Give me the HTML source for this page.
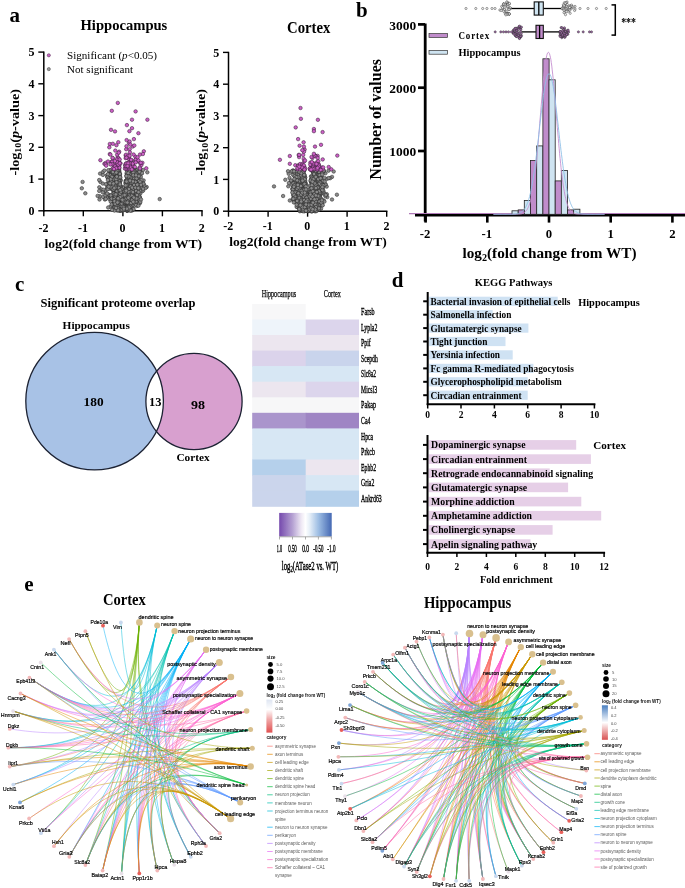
<!DOCTYPE html>
<html><head><meta charset="utf-8"><title>Figure</title>
<style>html,body{margin:0;padding:0;background:#fff;width:685px;height:888px;overflow:hidden}</style>
</head><body>
<svg width="685" height="888" viewBox="0 0 685 888" style="display:block;filter:blur(0.35px);font-family:'Liberation Serif', serif;font-weight:bold"><text x="9.6" y="21.9" style="font-size:21px;">a</text>
<line x1="43.8" y1="51.5" x2="43.8" y2="211.5" stroke="#000" stroke-width="1.5"/>
<line x1="43.1" y1="210.8" x2="202.7" y2="210.8" stroke="#000" stroke-width="1.5"/>
<line x1="38.3" y1="210.8" x2="43.8" y2="210.8" stroke="#000" stroke-width="1.4"/>
<text x="34.5" y="214.9" text-anchor="end" style="font-size:12px;">0</text>
<line x1="38.3" y1="179.1" x2="43.8" y2="179.1" stroke="#000" stroke-width="1.4"/>
<text x="34.5" y="183.2" text-anchor="end" style="font-size:12px;">1</text>
<line x1="38.3" y1="147.3" x2="43.8" y2="147.3" stroke="#000" stroke-width="1.4"/>
<text x="34.5" y="151.4" text-anchor="end" style="font-size:12px;">2</text>
<line x1="38.3" y1="115.6" x2="43.8" y2="115.6" stroke="#000" stroke-width="1.4"/>
<text x="34.5" y="119.7" text-anchor="end" style="font-size:12px;">3</text>
<line x1="38.3" y1="83.8" x2="43.8" y2="83.8" stroke="#000" stroke-width="1.4"/>
<text x="34.5" y="87.9" text-anchor="end" style="font-size:12px;">4</text>
<line x1="38.3" y1="52.1" x2="43.8" y2="52.1" stroke="#000" stroke-width="1.4"/>
<text x="34.5" y="56.2" text-anchor="end" style="font-size:12px;">5</text>
<line x1="43.8" y1="210.8" x2="43.8" y2="216.3" stroke="#000" stroke-width="1.4"/>
<text x="43.5" y="232.2" text-anchor="middle" style="font-size:12px;">-2</text>
<line x1="83.3" y1="210.8" x2="83.3" y2="216.3" stroke="#000" stroke-width="1.4"/>
<text x="83" y="232.2" text-anchor="middle" style="font-size:12px;">-1</text>
<line x1="122.9" y1="210.8" x2="122.9" y2="216.3" stroke="#000" stroke-width="1.4"/>
<text x="122.6" y="232.2" text-anchor="middle" style="font-size:12px;">0</text>
<line x1="162.4" y1="210.8" x2="162.4" y2="216.3" stroke="#000" stroke-width="1.4"/>
<text x="162.1" y="232.2" text-anchor="middle" style="font-size:12px;">1</text>
<line x1="202" y1="210.8" x2="202" y2="216.3" stroke="#000" stroke-width="1.4"/>
<text x="201.7" y="232.2" text-anchor="middle" style="font-size:12px;">2</text>
<text x="44.6" y="248" textLength="157.5" lengthAdjust="spacingAndGlyphs" style="font-size:12.2px;">log2(fold change from WT)</text>
<text x="80.5" y="30.4" textLength="86.8" lengthAdjust="spacingAndGlyphs" style="font-size:15.5px;">Hippocampus</text>
<text transform="translate(18.6,132.3) rotate(-90)" text-anchor="middle" style="font-size:12.3px" textLength="86.5" lengthAdjust="spacingAndGlyphs">-log<tspan style="font-size:8.5px" dy="2.5">10</tspan><tspan dy="-2.5">(</tspan><tspan font-style="italic">p</tspan>-value)</text>
<g fill="#8c8c8c" stroke="#2a2a2a" stroke-width="0.55"><circle cx="105.7" cy="193.6" r="1.75"/><circle cx="116.8" cy="193" r="1.75"/><circle cx="119.3" cy="191.2" r="1.75"/><circle cx="121.2" cy="191" r="1.75"/><circle cx="120.6" cy="199.7" r="1.75"/><circle cx="127.1" cy="207.9" r="1.75"/><circle cx="117.2" cy="209.5" r="1.75"/><circle cx="136.5" cy="170.3" r="1.75"/><circle cx="121.3" cy="186.6" r="1.75"/><circle cx="131.7" cy="205.4" r="1.75"/><circle cx="124.7" cy="208.9" r="1.75"/><circle cx="124.2" cy="204.1" r="1.75"/><circle cx="126.2" cy="193.1" r="1.75"/><circle cx="129.9" cy="194" r="1.75"/><circle cx="115.3" cy="185.5" r="1.75"/><circle cx="119.1" cy="191.6" r="1.75"/><circle cx="116.7" cy="200.7" r="1.75"/><circle cx="140.7" cy="169.6" r="1.75"/><circle cx="125" cy="199.2" r="1.75"/><circle cx="128.3" cy="208.6" r="1.75"/><circle cx="110.4" cy="180" r="1.75"/><circle cx="134" cy="196.3" r="1.75"/><circle cx="123.9" cy="203.4" r="1.75"/><circle cx="100.1" cy="173.6" r="1.75"/><circle cx="128.7" cy="195.8" r="1.75"/><circle cx="117.9" cy="208.5" r="1.75"/><circle cx="114.4" cy="201" r="1.75"/><circle cx="117.3" cy="208" r="1.75"/><circle cx="143.6" cy="180.4" r="1.75"/><circle cx="124.1" cy="206.9" r="1.75"/><circle cx="126.4" cy="208.9" r="1.75"/><circle cx="129" cy="178.6" r="1.75"/><circle cx="134.1" cy="193.8" r="1.75"/><circle cx="123.7" cy="204.1" r="1.75"/><circle cx="119.5" cy="185.4" r="1.75"/><circle cx="120.6" cy="206.9" r="1.75"/><circle cx="126.6" cy="201" r="1.75"/><circle cx="117.1" cy="174.7" r="1.75"/><circle cx="113.4" cy="203.4" r="1.75"/><circle cx="134.6" cy="185.5" r="1.75"/><circle cx="127.9" cy="207.5" r="1.75"/><circle cx="123.7" cy="201.5" r="1.75"/><circle cx="120.6" cy="179.7" r="1.75"/><circle cx="127.9" cy="208.5" r="1.75"/><circle cx="120.6" cy="207.9" r="1.75"/><circle cx="120.9" cy="187.2" r="1.75"/><circle cx="103" cy="196.9" r="1.75"/><circle cx="130.5" cy="192.2" r="1.75"/><circle cx="127.8" cy="188.4" r="1.75"/><circle cx="121.2" cy="205.5" r="1.75"/><circle cx="126.8" cy="173.7" r="1.75"/><circle cx="119.5" cy="204.2" r="1.75"/><circle cx="129.4" cy="181.2" r="1.75"/><circle cx="116.8" cy="174.8" r="1.75"/><circle cx="120.6" cy="207.4" r="1.75"/><circle cx="127.5" cy="209.6" r="1.75"/><circle cx="128.6" cy="201.5" r="1.75"/><circle cx="114.4" cy="200.1" r="1.75"/><circle cx="123.6" cy="204.7" r="1.75"/><circle cx="121.4" cy="202.7" r="1.75"/><circle cx="131.3" cy="189" r="1.75"/><circle cx="115.4" cy="200.6" r="1.75"/><circle cx="125.4" cy="201.1" r="1.75"/><circle cx="129.1" cy="193.8" r="1.75"/><circle cx="126.1" cy="197" r="1.75"/><circle cx="129.7" cy="188.5" r="1.75"/><circle cx="130.2" cy="174.4" r="1.75"/><circle cx="116.7" cy="170.4" r="1.75"/><circle cx="113" cy="187.9" r="1.75"/><circle cx="125.2" cy="206" r="1.75"/><circle cx="125.8" cy="182.9" r="1.75"/><circle cx="116.5" cy="169.6" r="1.75"/><circle cx="116" cy="208.4" r="1.75"/><circle cx="120" cy="174" r="1.75"/><circle cx="119.7" cy="181.3" r="1.75"/><circle cx="109.3" cy="173.4" r="1.75"/><circle cx="116.7" cy="197.7" r="1.75"/><circle cx="106.9" cy="175.3" r="1.75"/><circle cx="128.5" cy="195" r="1.75"/><circle cx="107.3" cy="188.4" r="1.75"/><circle cx="115.6" cy="186.2" r="1.75"/><circle cx="131.8" cy="186.9" r="1.75"/><circle cx="113.5" cy="208.2" r="1.75"/><circle cx="102.9" cy="174.9" r="1.75"/><circle cx="113.2" cy="181.7" r="1.75"/><circle cx="133.2" cy="188.1" r="1.75"/><circle cx="126" cy="194" r="1.75"/><circle cx="119.8" cy="209.9" r="1.75"/><circle cx="119.2" cy="202.6" r="1.75"/><circle cx="112.1" cy="183" r="1.75"/><circle cx="130.4" cy="201.6" r="1.75"/><circle cx="131.2" cy="203.7" r="1.75"/><circle cx="140.6" cy="184.7" r="1.75"/><circle cx="130.1" cy="194" r="1.75"/><circle cx="119.2" cy="184.4" r="1.75"/><circle cx="113" cy="203.8" r="1.75"/><circle cx="130.7" cy="173.4" r="1.75"/><circle cx="115.5" cy="174.9" r="1.75"/><circle cx="131.4" cy="199.2" r="1.75"/><circle cx="112.8" cy="206.2" r="1.75"/><circle cx="130.7" cy="182.4" r="1.75"/><circle cx="122.5" cy="205" r="1.75"/><circle cx="130.1" cy="195.2" r="1.75"/><circle cx="116.5" cy="186.2" r="1.75"/><circle cx="124.6" cy="209.9" r="1.75"/><circle cx="137.3" cy="175.3" r="1.75"/><circle cx="127.6" cy="188.5" r="1.75"/><circle cx="124.5" cy="199.5" r="1.75"/><circle cx="123" cy="206.2" r="1.75"/><circle cx="140.3" cy="193.4" r="1.75"/><circle cx="126.2" cy="202.3" r="1.75"/><circle cx="132.2" cy="206" r="1.75"/><circle cx="127.6" cy="193.8" r="1.75"/><circle cx="115.2" cy="186" r="1.75"/><circle cx="111" cy="171.4" r="1.75"/><circle cx="127.2" cy="183.6" r="1.75"/><circle cx="131.1" cy="204.6" r="1.75"/><circle cx="117.2" cy="210.5" r="1.75"/><circle cx="125.9" cy="204.6" r="1.75"/><circle cx="117.3" cy="200.9" r="1.75"/><circle cx="135.2" cy="190.7" r="1.75"/><circle cx="115.4" cy="178.9" r="1.75"/><circle cx="141.3" cy="173.8" r="1.75"/><circle cx="134.6" cy="181.9" r="1.75"/><circle cx="116.2" cy="206.4" r="1.75"/><circle cx="127.6" cy="173.6" r="1.75"/><circle cx="107.8" cy="196.7" r="1.75"/><circle cx="116.6" cy="178.7" r="1.75"/><circle cx="111.8" cy="172" r="1.75"/><circle cx="126.3" cy="203.6" r="1.75"/><circle cx="129.3" cy="182" r="1.75"/><circle cx="112.8" cy="182.1" r="1.75"/><circle cx="139.8" cy="203.3" r="1.75"/><circle cx="109.7" cy="170.6" r="1.75"/><circle cx="126" cy="190" r="1.75"/><circle cx="116.7" cy="173.6" r="1.75"/><circle cx="127" cy="194" r="1.75"/><circle cx="125.2" cy="189.4" r="1.75"/><circle cx="118.8" cy="210" r="1.75"/><circle cx="138.4" cy="178.1" r="1.75"/><circle cx="128.6" cy="204.8" r="1.75"/><circle cx="125.2" cy="198.4" r="1.75"/><circle cx="120.8" cy="205.7" r="1.75"/><circle cx="121.3" cy="190.8" r="1.75"/><circle cx="107.7" cy="183.4" r="1.75"/><circle cx="102.9" cy="172" r="1.75"/><circle cx="124.7" cy="208" r="1.75"/><circle cx="118.3" cy="202.9" r="1.75"/><circle cx="107.5" cy="185.6" r="1.75"/><circle cx="121.7" cy="189" r="1.75"/><circle cx="112.4" cy="199.4" r="1.75"/><circle cx="135.5" cy="174" r="1.75"/><circle cx="134.8" cy="203.5" r="1.75"/><circle cx="105.6" cy="190.5" r="1.75"/><circle cx="127.4" cy="188.4" r="1.75"/><circle cx="134.4" cy="191.4" r="1.75"/><circle cx="146.7" cy="187" r="1.75"/><circle cx="128.1" cy="190.9" r="1.75"/><circle cx="127.6" cy="195.7" r="1.75"/><circle cx="113.5" cy="191.9" r="1.75"/><circle cx="134" cy="183.3" r="1.75"/><circle cx="128.4" cy="195.2" r="1.75"/><circle cx="130.2" cy="171.5" r="1.75"/><circle cx="120.9" cy="192.7" r="1.75"/><circle cx="114.3" cy="206.5" r="1.75"/><circle cx="130.6" cy="174" r="1.75"/><circle cx="121.8" cy="192.5" r="1.75"/><circle cx="129.3" cy="186.5" r="1.75"/><circle cx="134.5" cy="172.9" r="1.75"/><circle cx="129.9" cy="210.2" r="1.75"/><circle cx="125.5" cy="204" r="1.75"/><circle cx="136.8" cy="198.9" r="1.75"/><circle cx="121.1" cy="197.6" r="1.75"/><circle cx="119.7" cy="206.7" r="1.75"/><circle cx="123.8" cy="203.9" r="1.75"/><circle cx="116.3" cy="190.3" r="1.75"/><circle cx="127.4" cy="195.2" r="1.75"/><circle cx="127.2" cy="190.3" r="1.75"/><circle cx="129" cy="185.9" r="1.75"/><circle cx="107.4" cy="185.6" r="1.75"/><circle cx="120.9" cy="186.8" r="1.75"/><circle cx="138.3" cy="178" r="1.75"/><circle cx="131" cy="173" r="1.75"/><circle cx="138.7" cy="203.1" r="1.75"/><circle cx="124" cy="206.3" r="1.75"/><circle cx="119.9" cy="207.6" r="1.75"/><circle cx="110.5" cy="177.1" r="1.75"/><circle cx="128.9" cy="206.6" r="1.75"/><circle cx="122.9" cy="203.7" r="1.75"/><circle cx="143.5" cy="183.7" r="1.75"/><circle cx="116.2" cy="207" r="1.75"/><circle cx="124.6" cy="191.3" r="1.75"/><circle cx="113.8" cy="183.5" r="1.75"/><circle cx="126.9" cy="204.2" r="1.75"/><circle cx="125" cy="209.7" r="1.75"/><circle cx="112.9" cy="189.3" r="1.75"/><circle cx="123.4" cy="205.8" r="1.75"/><circle cx="127.7" cy="204.4" r="1.75"/><circle cx="140.1" cy="170" r="1.75"/><circle cx="124.8" cy="193.1" r="1.75"/><circle cx="116.4" cy="192.9" r="1.75"/><circle cx="113.4" cy="190.9" r="1.75"/><circle cx="126.7" cy="210.4" r="1.75"/><circle cx="127.2" cy="182.9" r="1.75"/><circle cx="119.5" cy="193.5" r="1.75"/><circle cx="119.3" cy="181.2" r="1.75"/><circle cx="126.4" cy="205.1" r="1.75"/><circle cx="142.4" cy="191" r="1.75"/><circle cx="131.9" cy="182.7" r="1.75"/><circle cx="114.7" cy="195.5" r="1.75"/><circle cx="99.3" cy="187.3" r="1.75"/><circle cx="134.7" cy="201.5" r="1.75"/><circle cx="116.5" cy="179.5" r="1.75"/><circle cx="108.7" cy="177.9" r="1.75"/><circle cx="134.4" cy="174.9" r="1.75"/><circle cx="125.7" cy="183.1" r="1.75"/><circle cx="109.4" cy="195.5" r="1.75"/><circle cx="131.3" cy="181.9" r="1.75"/><circle cx="127.5" cy="192.9" r="1.75"/><circle cx="120.2" cy="210.5" r="1.75"/><circle cx="133.9" cy="186.2" r="1.75"/><circle cx="134.1" cy="202.5" r="1.75"/><circle cx="119.7" cy="198.3" r="1.75"/><circle cx="114.4" cy="184.7" r="1.75"/><circle cx="119.5" cy="196.2" r="1.75"/><circle cx="115.6" cy="169.5" r="1.75"/><circle cx="113.5" cy="180.2" r="1.75"/><circle cx="136" cy="170.4" r="1.75"/><circle cx="125.8" cy="181.2" r="1.75"/><circle cx="122.1" cy="201.6" r="1.75"/><circle cx="125.3" cy="203.9" r="1.75"/><circle cx="129.5" cy="196.7" r="1.75"/><circle cx="127.9" cy="173.8" r="1.75"/><circle cx="101.4" cy="189.4" r="1.75"/><circle cx="113.8" cy="169.7" r="1.75"/><circle cx="116.9" cy="208.4" r="1.75"/><circle cx="120.4" cy="205.3" r="1.75"/><circle cx="125" cy="191.7" r="1.75"/><circle cx="143.7" cy="186.8" r="1.75"/><circle cx="131.6" cy="194.9" r="1.75"/><circle cx="117.3" cy="190.4" r="1.75"/><circle cx="119.7" cy="200.4" r="1.75"/><circle cx="117.5" cy="184.9" r="1.75"/><circle cx="130.1" cy="200" r="1.75"/><circle cx="124.4" cy="209.5" r="1.75"/><circle cx="124.3" cy="205.4" r="1.75"/><circle cx="115.4" cy="174.2" r="1.75"/><circle cx="132.2" cy="172" r="1.75"/><circle cx="128.6" cy="208.5" r="1.75"/><circle cx="118.9" cy="192.5" r="1.75"/><circle cx="134.7" cy="172.4" r="1.75"/><circle cx="100.4" cy="181.9" r="1.75"/><circle cx="128.9" cy="177.8" r="1.75"/><circle cx="133.2" cy="187.1" r="1.75"/><circle cx="132.1" cy="193.4" r="1.75"/><circle cx="132" cy="203.6" r="1.75"/><circle cx="126.4" cy="206.6" r="1.75"/><circle cx="119.4" cy="194" r="1.75"/><circle cx="116.8" cy="201.3" r="1.75"/><circle cx="110.9" cy="188" r="1.75"/><circle cx="131.4" cy="190.2" r="1.75"/><circle cx="137.6" cy="169.6" r="1.75"/><circle cx="120.6" cy="202.3" r="1.75"/><circle cx="131.8" cy="207" r="1.75"/><circle cx="114.6" cy="186.2" r="1.75"/><circle cx="122.3" cy="197.4" r="1.75"/><circle cx="137.2" cy="188.8" r="1.75"/><circle cx="114.3" cy="187.6" r="1.75"/><circle cx="115.9" cy="204.2" r="1.75"/><circle cx="140.4" cy="201.9" r="1.75"/><circle cx="127.6" cy="209.6" r="1.75"/><circle cx="126.7" cy="194.7" r="1.75"/><circle cx="132.8" cy="186.3" r="1.75"/><circle cx="127.9" cy="208.5" r="1.75"/><circle cx="121.1" cy="208" r="1.75"/><circle cx="114.2" cy="185.9" r="1.75"/><circle cx="118.2" cy="196.8" r="1.75"/><circle cx="124.9" cy="198.1" r="1.75"/><circle cx="125.9" cy="180.9" r="1.75"/><circle cx="122.2" cy="206.8" r="1.75"/><circle cx="113.5" cy="178.1" r="1.75"/><circle cx="115.8" cy="203.3" r="1.75"/><circle cx="139.9" cy="197" r="1.75"/><circle cx="131.8" cy="184.9" r="1.75"/><circle cx="132.2" cy="180.9" r="1.75"/><circle cx="119.7" cy="197" r="1.75"/><circle cx="125.6" cy="207.6" r="1.75"/><circle cx="122.6" cy="208.1" r="1.75"/><circle cx="110.9" cy="188.8" r="1.75"/><circle cx="125.3" cy="199.9" r="1.75"/><circle cx="129.4" cy="179.6" r="1.75"/><circle cx="126.9" cy="184.6" r="1.75"/><circle cx="121.3" cy="208.2" r="1.75"/><circle cx="137.3" cy="183.2" r="1.75"/><circle cx="128.7" cy="200.5" r="1.75"/><circle cx="130.5" cy="181.8" r="1.75"/><circle cx="134.2" cy="197.1" r="1.75"/><circle cx="133.3" cy="188.6" r="1.75"/><circle cx="142" cy="173.2" r="1.75"/><circle cx="117" cy="194.2" r="1.75"/><circle cx="131.2" cy="195.8" r="1.75"/><circle cx="129.3" cy="172.5" r="1.75"/><circle cx="120" cy="197.3" r="1.75"/><circle cx="118.4" cy="197.2" r="1.75"/><circle cx="130.7" cy="196.2" r="1.75"/><circle cx="113.1" cy="204" r="1.75"/><circle cx="118" cy="189.8" r="1.75"/><circle cx="119.1" cy="176.9" r="1.75"/><circle cx="125.9" cy="190.9" r="1.75"/><circle cx="103.4" cy="189.7" r="1.75"/><circle cx="114.8" cy="185.1" r="1.75"/><circle cx="134.2" cy="178.3" r="1.75"/><circle cx="128.4" cy="179" r="1.75"/><circle cx="131.6" cy="208.1" r="1.75"/><circle cx="131.1" cy="174.1" r="1.75"/><circle cx="122.1" cy="208.1" r="1.75"/><circle cx="120.5" cy="180.9" r="1.75"/><circle cx="130.2" cy="180" r="1.75"/><circle cx="124.9" cy="190.6" r="1.75"/><circle cx="115.5" cy="198.3" r="1.75"/><circle cx="119.3" cy="171" r="1.75"/><circle cx="115.1" cy="190" r="1.75"/><circle cx="119.1" cy="182" r="1.75"/><circle cx="105.4" cy="195.3" r="1.75"/><circle cx="115.6" cy="177.3" r="1.75"/><circle cx="109.3" cy="178.2" r="1.75"/><circle cx="140.8" cy="177" r="1.75"/><circle cx="110" cy="185.5" r="1.75"/><circle cx="120.2" cy="190.5" r="1.75"/><circle cx="108.9" cy="194.8" r="1.75"/><circle cx="132.8" cy="194.9" r="1.75"/><circle cx="135.5" cy="169.9" r="1.75"/><circle cx="127" cy="196.7" r="1.75"/><circle cx="129.2" cy="194.7" r="1.75"/><circle cx="126.8" cy="200.1" r="1.75"/><circle cx="118.2" cy="207" r="1.75"/><circle cx="115.1" cy="204.6" r="1.75"/><circle cx="117.7" cy="208.9" r="1.75"/><circle cx="127" cy="173.6" r="1.75"/><circle cx="126.4" cy="209.7" r="1.75"/><circle cx="126.9" cy="203.1" r="1.75"/><circle cx="122.1" cy="202.4" r="1.75"/><circle cx="114.8" cy="202.8" r="1.75"/><circle cx="123.3" cy="204.4" r="1.75"/><circle cx="129.3" cy="180.4" r="1.75"/><circle cx="109.5" cy="199.3" r="1.75"/><circle cx="119.3" cy="192.4" r="1.75"/><circle cx="136.8" cy="201.4" r="1.75"/><circle cx="111.6" cy="198.1" r="1.75"/><circle cx="133.7" cy="189.5" r="1.75"/><circle cx="121.9" cy="203" r="1.75"/><circle cx="132.4" cy="209.3" r="1.75"/><circle cx="119" cy="196.4" r="1.75"/><circle cx="117.1" cy="190.4" r="1.75"/><circle cx="125.4" cy="192.7" r="1.75"/><circle cx="128.1" cy="196.9" r="1.75"/><circle cx="110.9" cy="187" r="1.75"/><circle cx="127.1" cy="205.4" r="1.75"/><circle cx="129.6" cy="201.4" r="1.75"/><circle cx="111.8" cy="175.4" r="1.75"/><circle cx="119.8" cy="201.2" r="1.75"/><circle cx="127.7" cy="210.8" r="1.75"/><circle cx="108.9" cy="177.5" r="1.75"/><circle cx="123" cy="208.1" r="1.75"/><circle cx="132.7" cy="207.6" r="1.75"/><circle cx="102.8" cy="192.4" r="1.75"/><circle cx="128.3" cy="187.8" r="1.75"/><circle cx="119" cy="176" r="1.75"/><circle cx="138.6" cy="195" r="1.75"/><circle cx="137.8" cy="173.3" r="1.75"/><circle cx="131" cy="203.4" r="1.75"/><circle cx="119.1" cy="189.7" r="1.75"/><circle cx="122.9" cy="199.4" r="1.75"/><circle cx="127.1" cy="199.6" r="1.75"/><circle cx="116.1" cy="183.5" r="1.75"/><circle cx="119.2" cy="207.3" r="1.75"/><circle cx="130.1" cy="171" r="1.75"/><circle cx="135.3" cy="193.3" r="1.75"/><circle cx="132" cy="210.5" r="1.75"/><circle cx="123.4" cy="203.5" r="1.75"/><circle cx="132.3" cy="189.9" r="1.75"/><circle cx="119.9" cy="199.9" r="1.75"/><circle cx="131.5" cy="184.4" r="1.75"/><circle cx="127.9" cy="201.6" r="1.75"/><circle cx="137.2" cy="198.6" r="1.75"/><circle cx="111.2" cy="172" r="1.75"/><circle cx="118.8" cy="198.5" r="1.75"/><circle cx="128.1" cy="177.3" r="1.75"/><circle cx="125.7" cy="207.7" r="1.75"/><circle cx="118.8" cy="195.6" r="1.75"/><circle cx="122.4" cy="202.7" r="1.75"/><circle cx="128.6" cy="205.4" r="1.75"/><circle cx="127.8" cy="208.5" r="1.75"/><circle cx="114.7" cy="173.1" r="1.75"/><circle cx="128.7" cy="185.2" r="1.75"/><circle cx="127.8" cy="180" r="1.75"/><circle cx="116.5" cy="198.6" r="1.75"/><circle cx="132.9" cy="195.2" r="1.75"/><circle cx="127.2" cy="170.3" r="1.75"/><circle cx="111.7" cy="186.9" r="1.75"/><circle cx="122.1" cy="210.3" r="1.75"/><circle cx="131" cy="185.1" r="1.75"/><circle cx="119.3" cy="207.3" r="1.75"/><circle cx="131.3" cy="179" r="1.75"/><circle cx="120.2" cy="177.4" r="1.75"/><circle cx="116.3" cy="173.9" r="1.75"/><circle cx="121.7" cy="191.5" r="1.75"/><circle cx="120.1" cy="206" r="1.75"/><circle cx="99.2" cy="190.9" r="1.75"/><circle cx="127" cy="182.2" r="1.75"/><circle cx="119.1" cy="172" r="1.75"/><circle cx="125.3" cy="186.1" r="1.75"/><circle cx="127" cy="202" r="1.75"/><circle cx="121.5" cy="188.3" r="1.75"/><circle cx="116.7" cy="172.7" r="1.75"/><circle cx="119.7" cy="197.3" r="1.75"/><circle cx="130.2" cy="206.2" r="1.75"/><circle cx="117.9" cy="189" r="1.75"/><circle cx="143.1" cy="169.9" r="1.75"/><circle cx="128.8" cy="200.3" r="1.75"/><circle cx="120.2" cy="188.4" r="1.75"/><circle cx="128.4" cy="177.1" r="1.75"/><circle cx="130.1" cy="208.4" r="1.75"/><circle cx="129.9" cy="209.9" r="1.75"/><circle cx="147.3" cy="172.3" r="1.75"/><circle cx="119.5" cy="184.7" r="1.75"/><circle cx="136.2" cy="181.3" r="1.75"/><circle cx="110.9" cy="196.5" r="1.75"/><circle cx="119.6" cy="210.4" r="1.75"/><circle cx="120.4" cy="203.8" r="1.75"/><circle cx="125.1" cy="196.3" r="1.75"/><circle cx="128.9" cy="188.6" r="1.75"/><circle cx="132.3" cy="201.3" r="1.75"/><circle cx="117.9" cy="188.6" r="1.75"/><circle cx="130" cy="209.7" r="1.75"/><circle cx="137.6" cy="184.2" r="1.75"/><circle cx="141.5" cy="187.3" r="1.75"/><circle cx="113.8" cy="192.8" r="1.75"/><circle cx="130.5" cy="183.4" r="1.75"/><circle cx="114.1" cy="169.8" r="1.75"/><circle cx="129.6" cy="176.8" r="1.75"/><circle cx="117" cy="194.3" r="1.75"/><circle cx="132.9" cy="188.7" r="1.75"/><circle cx="118.1" cy="190.5" r="1.75"/><circle cx="130.4" cy="194.4" r="1.75"/><circle cx="121.6" cy="209.1" r="1.75"/><circle cx="135.5" cy="181.8" r="1.75"/><circle cx="115.8" cy="187.4" r="1.75"/><circle cx="120.1" cy="180.6" r="1.75"/><circle cx="130.5" cy="208.6" r="1.75"/><circle cx="117.6" cy="206.6" r="1.75"/><circle cx="127.5" cy="195.9" r="1.75"/><circle cx="122.1" cy="209.2" r="1.75"/><circle cx="115.7" cy="202.2" r="1.75"/><circle cx="119.3" cy="199.6" r="1.75"/><circle cx="126.4" cy="208.6" r="1.75"/><circle cx="136.7" cy="173.5" r="1.75"/><circle cx="126.2" cy="194.8" r="1.75"/><circle cx="118.3" cy="180.9" r="1.75"/><circle cx="127.3" cy="188.7" r="1.75"/><circle cx="110.3" cy="206.7" r="1.75"/><circle cx="121.6" cy="210.8" r="1.75"/><circle cx="122.1" cy="202.1" r="1.75"/><circle cx="128.3" cy="208.8" r="1.75"/><circle cx="127.6" cy="174.3" r="1.75"/><circle cx="116.1" cy="197.5" r="1.75"/><circle cx="126.2" cy="187.9" r="1.75"/><circle cx="104.9" cy="199.5" r="1.75"/><circle cx="126.1" cy="192.7" r="1.75"/><circle cx="131.1" cy="173" r="1.75"/><circle cx="129.7" cy="174.2" r="1.75"/><circle cx="139.7" cy="197.6" r="1.75"/><circle cx="132.5" cy="192.7" r="1.75"/><circle cx="139.9" cy="169.7" r="1.75"/><circle cx="121.1" cy="203.7" r="1.75"/><circle cx="119.9" cy="174.9" r="1.75"/><circle cx="130.2" cy="209.3" r="1.75"/><circle cx="132.3" cy="199.3" r="1.75"/><circle cx="133.5" cy="174" r="1.75"/><circle cx="117.3" cy="206.2" r="1.75"/><circle cx="132.8" cy="183.1" r="1.75"/><circle cx="121.9" cy="208.3" r="1.75"/><circle cx="120.2" cy="202.9" r="1.75"/><circle cx="134" cy="203.9" r="1.75"/><circle cx="125" cy="204.5" r="1.75"/><circle cx="136.9" cy="178.9" r="1.75"/><circle cx="114.6" cy="196.9" r="1.75"/><circle cx="108.7" cy="187.7" r="1.75"/><circle cx="118.9" cy="202.6" r="1.75"/><circle cx="143" cy="184.4" r="1.75"/><circle cx="121.9" cy="200.8" r="1.75"/><circle cx="113.6" cy="194.1" r="1.75"/><circle cx="123" cy="209.4" r="1.75"/><circle cx="130.5" cy="178.4" r="1.75"/><circle cx="122.1" cy="208" r="1.75"/><circle cx="136.2" cy="202" r="1.75"/><circle cx="119.3" cy="200.7" r="1.75"/><circle cx="133.6" cy="170.1" r="1.75"/><circle cx="126.1" cy="180.7" r="1.75"/><circle cx="133.3" cy="196.4" r="1.75"/><circle cx="120.8" cy="204.5" r="1.75"/><circle cx="119.1" cy="189.2" r="1.75"/><circle cx="117.6" cy="184.7" r="1.75"/><circle cx="113.8" cy="179.3" r="1.75"/><circle cx="102.9" cy="183.6" r="1.75"/><circle cx="122.1" cy="204.8" r="1.75"/><circle cx="130.1" cy="179.4" r="1.75"/><circle cx="132.6" cy="202.4" r="1.75"/><circle cx="126.3" cy="194.1" r="1.75"/><circle cx="109" cy="178.9" r="1.75"/><circle cx="119" cy="202.4" r="1.75"/><circle cx="135.5" cy="191.6" r="1.75"/><circle cx="126.7" cy="182.3" r="1.75"/><circle cx="127.9" cy="188.4" r="1.75"/><circle cx="121.3" cy="205.6" r="1.75"/><circle cx="119.3" cy="210.3" r="1.75"/><circle cx="124.3" cy="194" r="1.75"/><circle cx="125" cy="201.3" r="1.75"/><circle cx="109.2" cy="188.6" r="1.75"/><circle cx="120.6" cy="202.3" r="1.75"/><circle cx="123.4" cy="205.8" r="1.75"/><circle cx="126.4" cy="199.2" r="1.75"/><circle cx="117.4" cy="186.4" r="1.75"/><circle cx="125.5" cy="207.9" r="1.75"/><circle cx="119.9" cy="201.6" r="1.75"/><circle cx="119.8" cy="205.3" r="1.75"/><circle cx="108.8" cy="179.1" r="1.75"/><circle cx="120.1" cy="208.9" r="1.75"/><circle cx="127.6" cy="203.1" r="1.75"/><circle cx="133.8" cy="170.9" r="1.75"/><circle cx="126.7" cy="180.2" r="1.75"/><circle cx="130" cy="170.2" r="1.75"/><circle cx="131.6" cy="180.9" r="1.75"/><circle cx="124.7" cy="209.6" r="1.75"/><circle cx="136.7" cy="206" r="1.75"/><circle cx="121.4" cy="196" r="1.75"/><circle cx="129.3" cy="208.4" r="1.75"/><circle cx="132.1" cy="209.8" r="1.75"/><circle cx="123.9" cy="202.6" r="1.75"/><circle cx="133.4" cy="202.1" r="1.75"/><circle cx="131.6" cy="193.2" r="1.75"/><circle cx="120.7" cy="198.3" r="1.75"/><circle cx="131.5" cy="185.1" r="1.75"/><circle cx="127" cy="183.2" r="1.75"/><circle cx="108.8" cy="175.6" r="1.75"/><circle cx="114.3" cy="193.1" r="1.75"/><circle cx="128.8" cy="196" r="1.75"/><circle cx="117" cy="179.3" r="1.75"/><circle cx="121.5" cy="203.2" r="1.75"/><circle cx="128.6" cy="189.4" r="1.75"/><circle cx="125.3" cy="205.2" r="1.75"/><circle cx="129.9" cy="192.9" r="1.75"/><circle cx="99.5" cy="199.5" r="1.75"/><circle cx="133.1" cy="183.8" r="1.75"/><circle cx="126.5" cy="175.7" r="1.75"/><circle cx="128.9" cy="208.5" r="1.75"/><circle cx="119.5" cy="183.3" r="1.75"/><circle cx="126.8" cy="210.3" r="1.75"/><circle cx="123.6" cy="204.5" r="1.75"/><circle cx="132.8" cy="173" r="1.75"/><circle cx="129.9" cy="205.5" r="1.75"/><circle cx="114.7" cy="172.4" r="1.75"/><circle cx="135.5" cy="181.9" r="1.75"/><circle cx="131.7" cy="173.7" r="1.75"/><circle cx="125.1" cy="196.4" r="1.75"/><circle cx="127.5" cy="208.1" r="1.75"/><circle cx="118.9" cy="179.8" r="1.75"/><circle cx="132.3" cy="190.7" r="1.75"/><circle cx="126.5" cy="202.3" r="1.75"/><circle cx="127.8" cy="209.6" r="1.75"/><circle cx="129.2" cy="209.9" r="1.75"/><circle cx="114.9" cy="199.3" r="1.75"/><circle cx="127.5" cy="206.2" r="1.75"/><circle cx="138" cy="184.4" r="1.75"/><circle cx="125.5" cy="205.8" r="1.75"/><circle cx="130.9" cy="182.4" r="1.75"/><circle cx="110.9" cy="195.5" r="1.75"/><circle cx="133.4" cy="202.8" r="1.75"/><circle cx="121" cy="200.1" r="1.75"/><circle cx="126.8" cy="209.6" r="1.75"/><circle cx="120" cy="210.1" r="1.75"/><circle cx="115.9" cy="178.1" r="1.75"/><circle cx="136.5" cy="173.2" r="1.75"/><circle cx="120.2" cy="203.1" r="1.75"/><circle cx="112.1" cy="171.6" r="1.75"/><circle cx="131.6" cy="207.9" r="1.75"/><circle cx="121.7" cy="194.6" r="1.75"/><circle cx="126" cy="196.4" r="1.75"/><circle cx="117.2" cy="198.7" r="1.75"/><circle cx="124.2" cy="205.4" r="1.75"/><circle cx="118.9" cy="195.6" r="1.75"/><circle cx="129.6" cy="202.2" r="1.75"/><circle cx="128.5" cy="194.8" r="1.75"/><circle cx="115.8" cy="205.6" r="1.75"/><circle cx="117.4" cy="189.3" r="1.75"/><circle cx="132.7" cy="182.9" r="1.75"/><circle cx="125.3" cy="197.2" r="1.75"/><circle cx="122.7" cy="208.8" r="1.75"/><circle cx="125.7" cy="191.7" r="1.75"/><circle cx="116.5" cy="187.9" r="1.75"/><circle cx="125.4" cy="201.7" r="1.75"/><circle cx="118.6" cy="210.1" r="1.75"/><circle cx="139.1" cy="188.7" r="1.75"/><circle cx="121.7" cy="201.3" r="1.75"/><circle cx="119.2" cy="192.8" r="1.75"/><circle cx="132" cy="186.6" r="1.75"/><circle cx="112" cy="186.4" r="1.75"/><circle cx="118.1" cy="195.3" r="1.75"/><circle cx="127.6" cy="177.2" r="1.75"/><circle cx="110" cy="175" r="1.75"/><circle cx="131.1" cy="209.7" r="1.75"/><circle cx="119" cy="206.2" r="1.75"/><circle cx="127.4" cy="170.6" r="1.75"/><circle cx="127.9" cy="202.7" r="1.75"/><circle cx="124.8" cy="196" r="1.75"/><circle cx="134.2" cy="185.1" r="1.75"/><circle cx="116.2" cy="189.5" r="1.75"/><circle cx="116.2" cy="177.1" r="1.75"/><circle cx="131" cy="174.7" r="1.75"/><circle cx="121.4" cy="199.3" r="1.75"/><circle cx="111" cy="183.5" r="1.75"/><circle cx="119.5" cy="186.3" r="1.75"/><circle cx="116.4" cy="191.9" r="1.75"/><circle cx="121.1" cy="200.4" r="1.75"/><circle cx="117.8" cy="180.8" r="1.75"/><circle cx="122.9" cy="201.8" r="1.75"/><circle cx="128.5" cy="198.8" r="1.75"/><circle cx="130.3" cy="206.6" r="1.75"/><circle cx="126.2" cy="208.8" r="1.75"/><circle cx="125.8" cy="182.7" r="1.75"/><circle cx="114.8" cy="207.1" r="1.75"/><circle cx="128.6" cy="192.4" r="1.75"/><circle cx="132.5" cy="205.2" r="1.75"/><circle cx="116.7" cy="209.2" r="1.75"/><circle cx="110.8" cy="201.7" r="1.75"/><circle cx="137.5" cy="198.7" r="1.75"/><circle cx="125" cy="198.5" r="1.75"/><circle cx="107.4" cy="177.2" r="1.75"/><circle cx="112.1" cy="188.7" r="1.75"/><circle cx="130.6" cy="186.3" r="1.75"/><circle cx="119.8" cy="196.7" r="1.75"/><circle cx="126.9" cy="210.4" r="1.75"/><circle cx="145.6" cy="187.9" r="1.75"/><circle cx="118.4" cy="206.3" r="1.75"/><circle cx="113.3" cy="183.5" r="1.75"/><circle cx="130.1" cy="195.9" r="1.75"/><circle cx="126.8" cy="172.5" r="1.75"/><circle cx="128.6" cy="206.9" r="1.75"/><circle cx="126" cy="181.5" r="1.75"/><circle cx="129.8" cy="169.8" r="1.75"/><circle cx="126.9" cy="210" r="1.75"/><circle cx="115.7" cy="189.7" r="1.75"/><circle cx="124.9" cy="199.5" r="1.75"/><circle cx="127.8" cy="178.5" r="1.75"/><circle cx="118.1" cy="196.1" r="1.75"/><circle cx="126.4" cy="186.5" r="1.75"/><circle cx="99.7" cy="196.2" r="1.75"/><circle cx="109.1" cy="183.2" r="1.75"/><circle cx="121" cy="205.8" r="1.75"/><circle cx="135.8" cy="204.7" r="1.75"/><circle cx="134.9" cy="201.8" r="1.75"/><circle cx="129.7" cy="192" r="1.75"/><circle cx="126.8" cy="210.3" r="1.75"/><circle cx="131.6" cy="188.7" r="1.75"/><circle cx="132.6" cy="200.9" r="1.75"/><circle cx="117.3" cy="202.7" r="1.75"/><circle cx="124.9" cy="201.4" r="1.75"/><circle cx="133.6" cy="209.2" r="1.75"/><circle cx="130.9" cy="199.4" r="1.75"/><circle cx="126.6" cy="208.3" r="1.75"/><circle cx="133.2" cy="169.7" r="1.75"/><circle cx="129.3" cy="203.7" r="1.75"/><circle cx="116.7" cy="195.1" r="1.75"/><circle cx="125.9" cy="189.4" r="1.75"/><circle cx="119.1" cy="184.8" r="1.75"/><circle cx="119.2" cy="172.3" r="1.75"/><circle cx="133.5" cy="175.6" r="1.75"/><circle cx="125.4" cy="205" r="1.75"/><circle cx="128.9" cy="206.8" r="1.75"/><circle cx="127.8" cy="180.6" r="1.75"/><circle cx="122.9" cy="199.4" r="1.75"/><circle cx="124" cy="203.4" r="1.75"/><circle cx="134.7" cy="171.4" r="1.75"/><circle cx="115.3" cy="178.4" r="1.75"/><circle cx="126.9" cy="177.3" r="1.75"/><circle cx="108.2" cy="207.5" r="1.75"/><circle cx="113" cy="171.8" r="1.75"/><circle cx="130.8" cy="201.8" r="1.75"/><circle cx="135.4" cy="173.6" r="1.75"/><circle cx="125.5" cy="202.7" r="1.75"/><circle cx="115.4" cy="196.2" r="1.75"/><circle cx="133.4" cy="178" r="1.75"/><circle cx="118.8" cy="197.2" r="1.75"/><circle cx="118.5" cy="200.7" r="1.75"/><circle cx="127.5" cy="198.4" r="1.75"/><circle cx="127.5" cy="181.1" r="1.75"/><circle cx="138" cy="189.6" r="1.75"/><circle cx="125.9" cy="183.8" r="1.75"/><circle cx="126.6" cy="205.9" r="1.75"/><circle cx="124.6" cy="191.4" r="1.75"/><circle cx="119.4" cy="195.6" r="1.75"/><circle cx="133.8" cy="171.7" r="1.75"/><circle cx="128.5" cy="203.6" r="1.75"/><circle cx="118.9" cy="180.5" r="1.75"/><circle cx="130" cy="207.2" r="1.75"/><circle cx="114.9" cy="203" r="1.75"/><circle cx="129.6" cy="204.6" r="1.75"/><circle cx="115.8" cy="200.9" r="1.75"/><circle cx="105.7" cy="198.9" r="1.75"/><circle cx="111.8" cy="204.4" r="1.75"/><circle cx="138.4" cy="205.7" r="1.75"/><circle cx="115.1" cy="185.8" r="1.75"/><circle cx="131" cy="203.3" r="1.75"/><circle cx="137.1" cy="186.6" r="1.75"/><circle cx="113" cy="186" r="1.75"/><circle cx="120.2" cy="191.3" r="1.75"/><circle cx="111.8" cy="183.4" r="1.75"/><circle cx="127.8" cy="194.9" r="1.75"/><circle cx="125.6" cy="196.4" r="1.75"/><circle cx="135.8" cy="188.4" r="1.75"/><circle cx="136.1" cy="190.9" r="1.75"/><circle cx="126.5" cy="193.8" r="1.75"/><circle cx="107.4" cy="187.6" r="1.75"/><circle cx="116.1" cy="205.6" r="1.75"/><circle cx="138.3" cy="192.9" r="1.75"/><circle cx="132.9" cy="181.3" r="1.75"/><circle cx="130.8" cy="206.5" r="1.75"/><circle cx="123.6" cy="202.4" r="1.75"/><circle cx="112" cy="176.7" r="1.75"/><circle cx="107.6" cy="177.2" r="1.75"/><circle cx="122.9" cy="208.8" r="1.75"/><circle cx="117.7" cy="178.2" r="1.75"/><circle cx="107.1" cy="193.5" r="1.75"/><circle cx="121" cy="203.9" r="1.75"/><circle cx="122.2" cy="200.6" r="1.75"/><circle cx="121.4" cy="189.2" r="1.75"/><circle cx="117.6" cy="179.1" r="1.75"/><circle cx="113.2" cy="173.8" r="1.75"/><circle cx="128.9" cy="178.7" r="1.75"/><circle cx="128.4" cy="207.5" r="1.75"/><circle cx="118.7" cy="209.7" r="1.75"/><circle cx="138.4" cy="177" r="1.75"/><circle cx="126.4" cy="206.9" r="1.75"/><circle cx="131.9" cy="176.3" r="1.75"/><circle cx="126.8" cy="186.5" r="1.75"/><circle cx="114.4" cy="203.5" r="1.75"/><circle cx="111.2" cy="181.7" r="1.75"/><circle cx="120.6" cy="203.9" r="1.75"/><circle cx="119.9" cy="210.4" r="1.75"/><circle cx="119.2" cy="198.2" r="1.75"/><circle cx="134.2" cy="200.7" r="1.75"/><circle cx="120.6" cy="206.5" r="1.75"/><circle cx="119.6" cy="183.2" r="1.75"/><circle cx="124.7" cy="206.9" r="1.75"/><circle cx="117.8" cy="172.2" r="1.75"/><circle cx="120.1" cy="203.9" r="1.75"/><circle cx="119" cy="169.8" r="1.75"/><circle cx="110.8" cy="197.4" r="1.75"/><circle cx="120.2" cy="199.4" r="1.75"/><circle cx="126.8" cy="185.9" r="1.75"/><circle cx="127.9" cy="194.7" r="1.75"/><circle cx="116" cy="193.4" r="1.75"/><circle cx="131.6" cy="191.3" r="1.75"/><circle cx="118.9" cy="202.4" r="1.75"/><circle cx="131.4" cy="200.4" r="1.75"/><circle cx="113.7" cy="193.4" r="1.75"/><circle cx="113.2" cy="172.5" r="1.75"/><circle cx="133.4" cy="187.2" r="1.75"/><circle cx="132.4" cy="193.7" r="1.75"/><circle cx="127.3" cy="200.6" r="1.75"/><circle cx="131" cy="194" r="1.75"/><circle cx="130.1" cy="206.3" r="1.75"/><circle cx="133.2" cy="198.1" r="1.75"/><circle cx="130.9" cy="177.6" r="1.75"/><circle cx="114.7" cy="189.6" r="1.75"/><circle cx="126" cy="207.5" r="1.75"/><circle cx="121.8" cy="197.2" r="1.75"/><circle cx="121.9" cy="196.8" r="1.75"/><circle cx="111.3" cy="198" r="1.75"/><circle cx="117.8" cy="192.8" r="1.75"/><circle cx="131.2" cy="199.2" r="1.75"/><circle cx="105.9" cy="184.2" r="1.75"/><circle cx="109.9" cy="170.6" r="1.75"/><circle cx="111.2" cy="169.9" r="1.75"/><circle cx="134.1" cy="185.1" r="1.75"/><circle cx="127.3" cy="182.9" r="1.75"/><circle cx="120.7" cy="195.7" r="1.75"/><circle cx="119" cy="170" r="1.75"/><circle cx="121.5" cy="203.4" r="1.75"/><circle cx="127.6" cy="196" r="1.75"/><circle cx="128.6" cy="181.1" r="1.75"/><circle cx="126.7" cy="185.1" r="1.75"/><circle cx="117.4" cy="178" r="1.75"/><circle cx="119.8" cy="192.9" r="1.75"/><circle cx="131" cy="210.4" r="1.75"/><circle cx="107.9" cy="174.2" r="1.75"/><circle cx="120.7" cy="210.1" r="1.75"/><circle cx="132.8" cy="190.1" r="1.75"/><circle cx="125.2" cy="207.1" r="1.75"/><circle cx="116.9" cy="191.2" r="1.75"/><circle cx="121.3" cy="206.6" r="1.75"/><circle cx="122.9" cy="207.9" r="1.75"/><circle cx="120" cy="191" r="1.75"/><circle cx="136.4" cy="201.9" r="1.75"/><circle cx="129.8" cy="195.2" r="1.75"/><circle cx="126.1" cy="193.6" r="1.75"/><circle cx="107.7" cy="189.1" r="1.75"/><circle cx="126.8" cy="207.4" r="1.75"/><circle cx="137.1" cy="176.3" r="1.75"/><circle cx="143.2" cy="190.5" r="1.75"/><circle cx="110.9" cy="195.5" r="1.75"/><circle cx="112.8" cy="171.2" r="1.75"/><circle cx="129.1" cy="195.2" r="1.75"/><circle cx="119.1" cy="190.2" r="1.75"/><circle cx="127.1" cy="210" r="1.75"/><circle cx="128.8" cy="171.1" r="1.75"/><circle cx="125.6" cy="185.4" r="1.75"/><circle cx="121.9" cy="195.1" r="1.75"/><circle cx="123.9" cy="208.3" r="1.75"/><circle cx="128.3" cy="173.2" r="1.75"/><circle cx="111.7" cy="198.7" r="1.75"/><circle cx="114.7" cy="171.9" r="1.75"/><circle cx="119.8" cy="173.9" r="1.75"/><circle cx="119.7" cy="196" r="1.75"/><circle cx="135.9" cy="201.5" r="1.75"/><circle cx="115.1" cy="197.1" r="1.75"/><circle cx="128.3" cy="197.4" r="1.75"/><circle cx="121.4" cy="194.5" r="1.75"/><circle cx="117.9" cy="208.9" r="1.75"/><circle cx="122.2" cy="195.7" r="1.75"/><circle cx="129.6" cy="202.9" r="1.75"/><circle cx="128.8" cy="199.2" r="1.75"/><circle cx="125.9" cy="192.2" r="1.75"/><circle cx="138.5" cy="192.1" r="1.75"/><circle cx="114.5" cy="210.6" r="1.75"/><circle cx="130.4" cy="210.6" r="1.75"/><circle cx="132.1" cy="187.6" r="1.75"/><circle cx="120.3" cy="197" r="1.75"/><circle cx="135.4" cy="187.7" r="1.75"/><circle cx="114.1" cy="199.2" r="1.75"/><circle cx="127.2" cy="209.2" r="1.75"/><circle cx="127.3" cy="201" r="1.75"/><circle cx="108.7" cy="178.7" r="1.75"/><circle cx="131.9" cy="195.6" r="1.75"/><circle cx="122.7" cy="200.4" r="1.75"/><circle cx="130.8" cy="177.6" r="1.75"/><circle cx="119.7" cy="209.3" r="1.75"/><circle cx="116.3" cy="172.8" r="1.75"/><circle cx="144.2" cy="185.6" r="1.75"/><circle cx="126.9" cy="180.6" r="1.75"/><circle cx="138.3" cy="188.1" r="1.75"/><circle cx="124.6" cy="195" r="1.75"/><circle cx="143.4" cy="183.8" r="1.75"/><circle cx="122.9" cy="208.4" r="1.75"/><circle cx="110.6" cy="179.3" r="1.75"/><circle cx="129.4" cy="196.7" r="1.75"/><circle cx="120.1" cy="193.7" r="1.75"/><circle cx="125.7" cy="199" r="1.75"/><circle cx="128" cy="181.4" r="1.75"/><circle cx="120" cy="184.4" r="1.75"/><circle cx="123.3" cy="206.9" r="1.75"/><circle cx="134.2" cy="199.4" r="1.75"/><circle cx="116.7" cy="203.3" r="1.75"/><circle cx="129.6" cy="176.8" r="1.75"/><circle cx="128.7" cy="206.7" r="1.75"/><circle cx="120.3" cy="209.9" r="1.75"/><circle cx="114.7" cy="194.4" r="1.75"/><circle cx="133.2" cy="172.8" r="1.75"/><circle cx="120.9" cy="191.8" r="1.75"/><circle cx="116.1" cy="179.5" r="1.75"/><circle cx="123.9" cy="207.3" r="1.75"/><circle cx="118.8" cy="187.9" r="1.75"/><circle cx="121.8" cy="203.7" r="1.75"/><circle cx="128.4" cy="197.8" r="1.75"/><circle cx="115.5" cy="187.6" r="1.75"/><circle cx="116.8" cy="176.6" r="1.75"/><circle cx="133" cy="192.4" r="1.75"/><circle cx="117.8" cy="170.4" r="1.75"/><circle cx="133.9" cy="202.5" r="1.75"/><circle cx="122.9" cy="201.4" r="1.75"/><circle cx="114.3" cy="201.5" r="1.75"/><circle cx="126.3" cy="208.8" r="1.75"/><circle cx="116.5" cy="182.2" r="1.75"/><circle cx="115.9" cy="194.4" r="1.75"/><circle cx="116.6" cy="170.6" r="1.75"/><circle cx="114.4" cy="173.6" r="1.75"/><circle cx="126.4" cy="202.6" r="1.75"/><circle cx="130" cy="180.6" r="1.75"/><circle cx="128.5" cy="176.4" r="1.75"/><circle cx="122.1" cy="209.8" r="1.75"/><circle cx="113.4" cy="189.4" r="1.75"/><circle cx="136.3" cy="198.5" r="1.75"/><circle cx="141.5" cy="180.1" r="1.75"/><circle cx="136.5" cy="178.3" r="1.75"/><circle cx="131.1" cy="203.1" r="1.75"/><circle cx="115.1" cy="203.8" r="1.75"/><circle cx="122.4" cy="206.8" r="1.75"/><circle cx="107.9" cy="180.1" r="1.75"/><circle cx="114.9" cy="173" r="1.75"/><circle cx="110.1" cy="183.4" r="1.75"/><circle cx="140.2" cy="182.1" r="1.75"/><circle cx="132.1" cy="200.2" r="1.75"/><circle cx="114.5" cy="201.2" r="1.75"/><circle cx="133.2" cy="201.8" r="1.75"/><circle cx="125.3" cy="201.7" r="1.75"/><circle cx="124" cy="200.1" r="1.75"/><circle cx="128.7" cy="192.2" r="1.75"/><circle cx="122.7" cy="200.9" r="1.75"/><circle cx="130.9" cy="191.2" r="1.75"/><circle cx="133.3" cy="175.2" r="1.75"/><circle cx="138.7" cy="176.1" r="1.75"/><circle cx="110.5" cy="186.9" r="1.75"/><circle cx="120.2" cy="190.1" r="1.75"/><circle cx="137.2" cy="184.7" r="1.75"/><circle cx="117.7" cy="201.4" r="1.75"/><circle cx="128.4" cy="209.1" r="1.75"/><circle cx="117.5" cy="202.5" r="1.75"/><circle cx="126.5" cy="181.6" r="1.75"/><circle cx="112.9" cy="172.1" r="1.75"/><circle cx="127.4" cy="202.5" r="1.75"/><circle cx="141" cy="184.8" r="1.75"/><circle cx="129.2" cy="207.4" r="1.75"/><circle cx="143.1" cy="188.8" r="1.75"/><circle cx="141" cy="199.4" r="1.75"/><circle cx="136" cy="175.3" r="1.75"/><circle cx="126.9" cy="208.7" r="1.75"/><circle cx="112.1" cy="209.9" r="1.75"/><circle cx="113.4" cy="183.6" r="1.75"/><circle cx="126.4" cy="176" r="1.75"/><circle cx="117.9" cy="208.3" r="1.75"/><circle cx="128.3" cy="190.4" r="1.75"/><circle cx="133.8" cy="197.6" r="1.75"/><circle cx="128.5" cy="191.6" r="1.75"/><circle cx="137" cy="195" r="1.75"/><circle cx="132.9" cy="192.1" r="1.75"/><circle cx="128.9" cy="189.1" r="1.75"/><circle cx="122.4" cy="199.8" r="1.75"/><circle cx="118.1" cy="198.4" r="1.75"/><circle cx="104.4" cy="170.6" r="1.75"/><circle cx="139.4" cy="171.8" r="1.75"/><circle cx="116.3" cy="172.5" r="1.75"/><circle cx="118" cy="210.2" r="1.75"/><circle cx="108.7" cy="186.7" r="1.75"/><circle cx="116" cy="208" r="1.75"/><circle cx="126.2" cy="190.7" r="1.75"/><circle cx="123.7" cy="207.1" r="1.75"/><circle cx="123.8" cy="209.9" r="1.75"/><circle cx="120.1" cy="177.2" r="1.75"/><circle cx="114.3" cy="188.1" r="1.75"/><circle cx="123.9" cy="208.7" r="1.75"/><circle cx="82.6" cy="181.9" r="1.75"/><circle cx="81.8" cy="188.3" r="1.75"/><circle cx="85.3" cy="193.3" r="1.75"/><circle cx="97.6" cy="195.9" r="1.75"/><circle cx="99.2" cy="180" r="1.75"/><circle cx="159.7" cy="199.1" r="1.75"/><circle cx="108.3" cy="170.2" r="1.75"/></g>
<g fill="#cc5fc6" stroke="#3a1f3a" stroke-width="0.55"><circle cx="140" cy="154.5" r="1.75"/><circle cx="125.7" cy="155.5" r="1.75"/><circle cx="115.8" cy="166.6" r="1.75"/><circle cx="119.3" cy="165.6" r="1.75"/><circle cx="118.7" cy="158.8" r="1.75"/><circle cx="126.2" cy="149.2" r="1.75"/><circle cx="128.2" cy="167.7" r="1.75"/><circle cx="129.6" cy="163.3" r="1.75"/><circle cx="129.8" cy="159.4" r="1.75"/><circle cx="118.2" cy="166.7" r="1.75"/><circle cx="125.3" cy="167.6" r="1.75"/><circle cx="131.5" cy="165.7" r="1.75"/><circle cx="117.7" cy="157.2" r="1.75"/><circle cx="111.4" cy="162.1" r="1.75"/><circle cx="125" cy="168.7" r="1.75"/><circle cx="118.3" cy="167.2" r="1.75"/><circle cx="132.5" cy="164.4" r="1.75"/><circle cx="132.7" cy="146.5" r="1.75"/><circle cx="126" cy="154.7" r="1.75"/><circle cx="117.1" cy="154.6" r="1.75"/><circle cx="135.3" cy="156.6" r="1.75"/><circle cx="141.4" cy="165" r="1.75"/><circle cx="131.8" cy="168" r="1.75"/><circle cx="139.7" cy="167.3" r="1.75"/><circle cx="109.8" cy="144" r="1.75"/><circle cx="128.6" cy="165.5" r="1.75"/><circle cx="128.7" cy="158.7" r="1.75"/><circle cx="104.4" cy="163.8" r="1.75"/><circle cx="129.3" cy="165.1" r="1.75"/><circle cx="129" cy="142.9" r="1.75"/><circle cx="127.5" cy="168.8" r="1.75"/><circle cx="131.5" cy="169" r="1.75"/><circle cx="126.2" cy="166" r="1.75"/><circle cx="128.4" cy="162.4" r="1.75"/><circle cx="111.7" cy="162.1" r="1.75"/><circle cx="118.7" cy="162.4" r="1.75"/><circle cx="129.6" cy="141.5" r="1.75"/><circle cx="127.4" cy="168.8" r="1.75"/><circle cx="125.7" cy="166" r="1.75"/><circle cx="105.7" cy="162.9" r="1.75"/><circle cx="119.3" cy="167.9" r="1.75"/><circle cx="133.9" cy="166.2" r="1.75"/><circle cx="133.6" cy="154.5" r="1.75"/><circle cx="119.2" cy="151.7" r="1.75"/><circle cx="138.4" cy="133.2" r="1.75"/><circle cx="126.6" cy="164.7" r="1.75"/><circle cx="127.1" cy="169" r="1.75"/><circle cx="128.9" cy="156.8" r="1.75"/><circle cx="130.3" cy="167.3" r="1.75"/><circle cx="119.2" cy="162.9" r="1.75"/><circle cx="116.9" cy="167.6" r="1.75"/><circle cx="126.8" cy="166.6" r="1.75"/><circle cx="118.1" cy="160.3" r="1.75"/><circle cx="131.4" cy="160.2" r="1.75"/><circle cx="113.8" cy="165.9" r="1.75"/><circle cx="138" cy="161.2" r="1.75"/><circle cx="115.5" cy="164.4" r="1.75"/><circle cx="126.5" cy="146.2" r="1.75"/><circle cx="143.8" cy="151.3" r="1.75"/><circle cx="129.7" cy="149.2" r="1.75"/><circle cx="132.9" cy="166.3" r="1.75"/><circle cx="118.5" cy="161.2" r="1.75"/><circle cx="130.9" cy="167.9" r="1.75"/><circle cx="118.4" cy="158.5" r="1.75"/><circle cx="133.2" cy="163" r="1.75"/><circle cx="116.4" cy="145.2" r="1.75"/><circle cx="135.3" cy="160" r="1.75"/><circle cx="132.7" cy="163.6" r="1.75"/><circle cx="129.7" cy="163.3" r="1.75"/><circle cx="131.1" cy="159.8" r="1.75"/><circle cx="126.4" cy="168.7" r="1.75"/><circle cx="118.7" cy="152.7" r="1.75"/><circle cx="142.4" cy="162.8" r="1.75"/><circle cx="105.6" cy="164.2" r="1.75"/><circle cx="117.7" cy="163.1" r="1.75"/><circle cx="120.5" cy="163.3" r="1.75"/><circle cx="139.9" cy="162.9" r="1.75"/><circle cx="126.4" cy="165.5" r="1.75"/><circle cx="129.9" cy="152.4" r="1.75"/><circle cx="142.9" cy="154" r="1.75"/><circle cx="109.8" cy="154.1" r="1.75"/><circle cx="127.3" cy="167.7" r="1.75"/><circle cx="118" cy="166.9" r="1.75"/><circle cx="134.3" cy="145.5" r="1.75"/><circle cx="125.9" cy="165.5" r="1.75"/><circle cx="110.4" cy="154.6" r="1.75"/><circle cx="112.8" cy="143.8" r="1.75"/><circle cx="135.8" cy="159.7" r="1.75"/><circle cx="129.3" cy="168.4" r="1.75"/><circle cx="129.4" cy="131.2" r="1.75"/><circle cx="119.3" cy="167.6" r="1.75"/><circle cx="125.7" cy="158.2" r="1.75"/><circle cx="100.4" cy="160.2" r="1.75"/><circle cx="128.2" cy="155.6" r="1.75"/><circle cx="108" cy="161.5" r="1.75"/><circle cx="118.3" cy="142.2" r="1.75"/><circle cx="117.1" cy="164.9" r="1.75"/><circle cx="129.4" cy="165.4" r="1.75"/><circle cx="116.3" cy="167.1" r="1.75"/><circle cx="112.7" cy="158.2" r="1.75"/><circle cx="130.6" cy="167.5" r="1.75"/><circle cx="116.8" cy="159.6" r="1.75"/><circle cx="106.2" cy="165.7" r="1.75"/><circle cx="130.3" cy="144.6" r="1.75"/><circle cx="138.4" cy="160.3" r="1.75"/><circle cx="115" cy="166.4" r="1.75"/><circle cx="115.3" cy="150.6" r="1.75"/><circle cx="127.9" cy="166.8" r="1.75"/><circle cx="134.9" cy="166.9" r="1.75"/><circle cx="126.9" cy="165.7" r="1.75"/><circle cx="125.6" cy="165.3" r="1.75"/><circle cx="135.7" cy="162.4" r="1.75"/><circle cx="125.3" cy="164.6" r="1.75"/><circle cx="133.9" cy="139.1" r="1.75"/><circle cx="113" cy="168.3" r="1.75"/><circle cx="129.6" cy="155.8" r="1.75"/><circle cx="112.1" cy="161.8" r="1.75"/><circle cx="109.3" cy="147.3" r="1.75"/><circle cx="117.2" cy="162.4" r="1.75"/><circle cx="137.6" cy="157.2" r="1.75"/><circle cx="125.8" cy="165.9" r="1.75"/><circle cx="112.6" cy="157.9" r="1.75"/><circle cx="126.1" cy="163.4" r="1.75"/><circle cx="126.6" cy="140.1" r="1.75"/><circle cx="116.1" cy="168.2" r="1.75"/><circle cx="112.2" cy="164.2" r="1.75"/><circle cx="118.4" cy="164.6" r="1.75"/><circle cx="119.7" cy="159.5" r="1.75"/><circle cx="114" cy="169.1" r="1.75"/><circle cx="126.4" cy="157.7" r="1.75"/><circle cx="126.5" cy="163.4" r="1.75"/><circle cx="131.9" cy="169.4" r="1.75"/><circle cx="128.1" cy="163.5" r="1.75"/><circle cx="140" cy="168.5" r="1.75"/><circle cx="119.8" cy="163.2" r="1.75"/><circle cx="114.9" cy="161.1" r="1.75"/><circle cx="146.3" cy="168.3" r="1.75"/><circle cx="127.5" cy="166.1" r="1.75"/><circle cx="140.8" cy="162.8" r="1.75"/><circle cx="110.5" cy="164.5" r="1.75"/><circle cx="117.8" cy="102.9" r="1.75"/><circle cx="111.8" cy="110.8" r="1.75"/><circle cx="135.6" cy="111.4" r="1.75"/><circle cx="147.4" cy="119.7" r="1.75"/><circle cx="132" cy="119.7" r="1.75"/><circle cx="126.9" cy="125.1" r="1.75"/><circle cx="132" cy="128.2" r="1.75"/><circle cx="111" cy="129.8" r="1.75"/><circle cx="115" cy="131.4" r="1.75"/></g>
<circle cx="48.8" cy="55.3" r="1.6" fill="#c866c4" stroke="#4a2a4a" stroke-width="0.5"/>
<circle cx="48.8" cy="69.1" r="1.6" fill="#9a9a9a" stroke="#3a3a3a" stroke-width="0.5"/>
<text x="67" y="59.3" style="font-size:11px;font-weight:normal" textLength="90" lengthAdjust="spacingAndGlyphs">Significant (<tspan font-style="italic">p</tspan>&lt;0.05)</text>
<text x="67" y="73.2" textLength="66" lengthAdjust="spacingAndGlyphs" style="font-size:11px;font-weight:normal;">Not significant</text>
<line x1="228.5" y1="51.8" x2="228.5" y2="211.9" stroke="#000" stroke-width="1.5"/>
<line x1="227.8" y1="211.2" x2="387.4" y2="211.2" stroke="#000" stroke-width="1.5"/>
<line x1="223" y1="211.2" x2="228.5" y2="211.2" stroke="#000" stroke-width="1.4"/>
<text x="219.2" y="215.3" text-anchor="end" style="font-size:12px;">0</text>
<line x1="223" y1="179.4" x2="228.5" y2="179.4" stroke="#000" stroke-width="1.4"/>
<text x="219.2" y="183.5" text-anchor="end" style="font-size:12px;">1</text>
<line x1="223" y1="147.7" x2="228.5" y2="147.7" stroke="#000" stroke-width="1.4"/>
<text x="219.2" y="151.8" text-anchor="end" style="font-size:12px;">2</text>
<line x1="223" y1="115.9" x2="228.5" y2="115.9" stroke="#000" stroke-width="1.4"/>
<text x="219.2" y="120" text-anchor="end" style="font-size:12px;">3</text>
<line x1="223" y1="84.2" x2="228.5" y2="84.2" stroke="#000" stroke-width="1.4"/>
<text x="219.2" y="88.3" text-anchor="end" style="font-size:12px;">4</text>
<line x1="223" y1="52.4" x2="228.5" y2="52.4" stroke="#000" stroke-width="1.4"/>
<text x="219.2" y="56.5" text-anchor="end" style="font-size:12px;">5</text>
<line x1="228.5" y1="211.2" x2="228.5" y2="216.7" stroke="#000" stroke-width="1.4"/>
<text x="228.2" y="230.2" text-anchor="middle" style="font-size:12px;">-2</text>
<line x1="268.1" y1="211.2" x2="268.1" y2="216.7" stroke="#000" stroke-width="1.4"/>
<text x="267.8" y="230.2" text-anchor="middle" style="font-size:12px;">-1</text>
<line x1="307.6" y1="211.2" x2="307.6" y2="216.7" stroke="#000" stroke-width="1.4"/>
<text x="307.3" y="230.2" text-anchor="middle" style="font-size:12px;">0</text>
<line x1="347.1" y1="211.2" x2="347.1" y2="216.7" stroke="#000" stroke-width="1.4"/>
<text x="346.8" y="230.2" text-anchor="middle" style="font-size:12px;">1</text>
<line x1="386.7" y1="211.2" x2="386.7" y2="216.7" stroke="#000" stroke-width="1.4"/>
<text x="386.4" y="230.2" text-anchor="middle" style="font-size:12px;">2</text>
<text x="229.3" y="246" textLength="157.5" lengthAdjust="spacingAndGlyphs" style="font-size:12.2px;">log2(fold change from WT)</text>
<text x="287" y="32.6" textLength="43.4" lengthAdjust="spacingAndGlyphs" style="font-size:16.5px;">Cortex</text>
<text transform="translate(205.2,132.3) rotate(-90)" text-anchor="middle" style="font-size:12.3px" textLength="86.5" lengthAdjust="spacingAndGlyphs">-log<tspan style="font-size:8.5px" dy="2.5">10</tspan><tspan dy="-2.5">(</tspan><tspan font-style="italic">p</tspan>-value)</text>
<g fill="#8c8c8c" stroke="#2a2a2a" stroke-width="0.55"><circle cx="325.4" cy="173.3" r="1.75"/><circle cx="305.4" cy="208.5" r="1.75"/><circle cx="299.7" cy="188" r="1.75"/><circle cx="312" cy="206.8" r="1.75"/><circle cx="304.6" cy="204.5" r="1.75"/><circle cx="310.8" cy="193.8" r="1.75"/><circle cx="314.7" cy="210.5" r="1.75"/><circle cx="315.5" cy="195.3" r="1.75"/><circle cx="304.3" cy="209.4" r="1.75"/><circle cx="298.5" cy="179.7" r="1.75"/><circle cx="302.3" cy="186.8" r="1.75"/><circle cx="299.7" cy="171.3" r="1.75"/><circle cx="319.4" cy="197.4" r="1.75"/><circle cx="304.9" cy="188.9" r="1.75"/><circle cx="305.1" cy="208.4" r="1.75"/><circle cx="306.6" cy="193" r="1.75"/><circle cx="297.9" cy="194.2" r="1.75"/><circle cx="310.9" cy="185.8" r="1.75"/><circle cx="313.4" cy="199.3" r="1.75"/><circle cx="311.2" cy="208" r="1.75"/><circle cx="307.8" cy="210" r="1.75"/><circle cx="319.5" cy="178" r="1.75"/><circle cx="304.2" cy="199" r="1.75"/><circle cx="313.5" cy="200" r="1.75"/><circle cx="302.7" cy="179.9" r="1.75"/><circle cx="307.5" cy="207.7" r="1.75"/><circle cx="304.6" cy="179.6" r="1.75"/><circle cx="296.2" cy="202.7" r="1.75"/><circle cx="318.5" cy="190" r="1.75"/><circle cx="303.3" cy="172.4" r="1.75"/><circle cx="310.8" cy="205.4" r="1.75"/><circle cx="311.2" cy="210.5" r="1.75"/><circle cx="297" cy="171.1" r="1.75"/><circle cx="318.6" cy="178.7" r="1.75"/><circle cx="296" cy="181.2" r="1.75"/><circle cx="327.3" cy="197.1" r="1.75"/><circle cx="315.1" cy="204.4" r="1.75"/><circle cx="312.1" cy="204.3" r="1.75"/><circle cx="314.3" cy="172.9" r="1.75"/><circle cx="307.7" cy="207.8" r="1.75"/><circle cx="313.8" cy="190.7" r="1.75"/><circle cx="317.9" cy="178.3" r="1.75"/><circle cx="295.3" cy="202.1" r="1.75"/><circle cx="317.2" cy="194.3" r="1.75"/><circle cx="320.7" cy="198.5" r="1.75"/><circle cx="299.3" cy="174.7" r="1.75"/><circle cx="297.9" cy="183.9" r="1.75"/><circle cx="315.4" cy="177.6" r="1.75"/><circle cx="315.7" cy="195.7" r="1.75"/><circle cx="299" cy="180.2" r="1.75"/><circle cx="305.1" cy="177.7" r="1.75"/><circle cx="305.5" cy="207.6" r="1.75"/><circle cx="303.3" cy="189.4" r="1.75"/><circle cx="321" cy="208.7" r="1.75"/><circle cx="302.9" cy="189.3" r="1.75"/><circle cx="296.2" cy="193.2" r="1.75"/><circle cx="310.9" cy="211.1" r="1.75"/><circle cx="309.8" cy="197.1" r="1.75"/><circle cx="304.3" cy="175.9" r="1.75"/><circle cx="307.1" cy="204" r="1.75"/><circle cx="304.1" cy="194.1" r="1.75"/><circle cx="320" cy="195.2" r="1.75"/><circle cx="315.1" cy="192.8" r="1.75"/><circle cx="298.5" cy="183.8" r="1.75"/><circle cx="306.2" cy="190.8" r="1.75"/><circle cx="311.4" cy="200.3" r="1.75"/><circle cx="294.4" cy="176.1" r="1.75"/><circle cx="315.8" cy="198.2" r="1.75"/><circle cx="315.7" cy="200.1" r="1.75"/><circle cx="306.9" cy="196.7" r="1.75"/><circle cx="312.6" cy="195.3" r="1.75"/><circle cx="300.1" cy="189.7" r="1.75"/><circle cx="308.2" cy="202" r="1.75"/><circle cx="311.6" cy="203.5" r="1.75"/><circle cx="313.9" cy="201.7" r="1.75"/><circle cx="303.7" cy="207.5" r="1.75"/><circle cx="316.6" cy="193.5" r="1.75"/><circle cx="316.2" cy="194.4" r="1.75"/><circle cx="322.5" cy="202.3" r="1.75"/><circle cx="306.1" cy="201.2" r="1.75"/><circle cx="312.3" cy="177.2" r="1.75"/><circle cx="308.4" cy="208.3" r="1.75"/><circle cx="300.5" cy="184.2" r="1.75"/><circle cx="323.8" cy="200.5" r="1.75"/><circle cx="317.5" cy="185.3" r="1.75"/><circle cx="322" cy="205.3" r="1.75"/><circle cx="306.7" cy="204.8" r="1.75"/><circle cx="307" cy="210.7" r="1.75"/><circle cx="306" cy="193.3" r="1.75"/><circle cx="298.4" cy="180.2" r="1.75"/><circle cx="299.9" cy="177.9" r="1.75"/><circle cx="302.3" cy="199.1" r="1.75"/><circle cx="318.1" cy="206.7" r="1.75"/><circle cx="315.9" cy="203.9" r="1.75"/><circle cx="304.1" cy="195" r="1.75"/><circle cx="319.3" cy="190.5" r="1.75"/><circle cx="301.5" cy="176.3" r="1.75"/><circle cx="311.9" cy="185.4" r="1.75"/><circle cx="315.2" cy="181.4" r="1.75"/><circle cx="313.1" cy="170.8" r="1.75"/><circle cx="306.7" cy="196.3" r="1.75"/><circle cx="300.6" cy="203.8" r="1.75"/><circle cx="315.5" cy="195.9" r="1.75"/><circle cx="311.4" cy="195" r="1.75"/><circle cx="301.5" cy="177.9" r="1.75"/><circle cx="304.9" cy="202.4" r="1.75"/><circle cx="304.7" cy="199.6" r="1.75"/><circle cx="303" cy="205.2" r="1.75"/><circle cx="289.5" cy="177.9" r="1.75"/><circle cx="298.8" cy="190.4" r="1.75"/><circle cx="298.6" cy="186.7" r="1.75"/><circle cx="313.8" cy="173.6" r="1.75"/><circle cx="304.1" cy="170.8" r="1.75"/><circle cx="304.5" cy="209.2" r="1.75"/><circle cx="302.5" cy="177.1" r="1.75"/><circle cx="311.7" cy="209.4" r="1.75"/><circle cx="299.4" cy="210.2" r="1.75"/><circle cx="323.1" cy="181.5" r="1.75"/><circle cx="305.5" cy="182.9" r="1.75"/><circle cx="304.6" cy="205.4" r="1.75"/><circle cx="319" cy="187.6" r="1.75"/><circle cx="313.1" cy="191.3" r="1.75"/><circle cx="311" cy="190.1" r="1.75"/><circle cx="310.9" cy="193.1" r="1.75"/><circle cx="305.7" cy="206.2" r="1.75"/><circle cx="303.2" cy="186.8" r="1.75"/><circle cx="300.8" cy="181.1" r="1.75"/><circle cx="303.9" cy="204.3" r="1.75"/><circle cx="315.3" cy="198.3" r="1.75"/><circle cx="294.7" cy="192.2" r="1.75"/><circle cx="304.9" cy="200.4" r="1.75"/><circle cx="323.3" cy="171.6" r="1.75"/><circle cx="310.8" cy="189" r="1.75"/><circle cx="316.1" cy="174.4" r="1.75"/><circle cx="319.2" cy="172.3" r="1.75"/><circle cx="323" cy="184.8" r="1.75"/><circle cx="320.9" cy="171.3" r="1.75"/><circle cx="309.8" cy="207.5" r="1.75"/><circle cx="307" cy="208.6" r="1.75"/><circle cx="304.9" cy="179.1" r="1.75"/><circle cx="288.3" cy="186.3" r="1.75"/><circle cx="319.5" cy="170.3" r="1.75"/><circle cx="312.7" cy="185.6" r="1.75"/><circle cx="304.9" cy="181.8" r="1.75"/><circle cx="322.7" cy="181.9" r="1.75"/><circle cx="313.7" cy="205.1" r="1.75"/><circle cx="317.9" cy="203.5" r="1.75"/><circle cx="312" cy="206.4" r="1.75"/><circle cx="323.9" cy="171" r="1.75"/><circle cx="295.4" cy="189" r="1.75"/><circle cx="302.3" cy="186.1" r="1.75"/><circle cx="310.3" cy="206.5" r="1.75"/><circle cx="301.4" cy="188.4" r="1.75"/><circle cx="315.9" cy="191.4" r="1.75"/><circle cx="303.9" cy="176.5" r="1.75"/><circle cx="305.3" cy="208.6" r="1.75"/><circle cx="319.8" cy="187.2" r="1.75"/><circle cx="312.7" cy="177.5" r="1.75"/><circle cx="323.3" cy="179.1" r="1.75"/><circle cx="313.6" cy="206.3" r="1.75"/><circle cx="317.2" cy="171" r="1.75"/><circle cx="299.9" cy="187.1" r="1.75"/><circle cx="313.1" cy="178.5" r="1.75"/><circle cx="297.9" cy="191" r="1.75"/><circle cx="312.3" cy="178.9" r="1.75"/><circle cx="303.3" cy="187.7" r="1.75"/><circle cx="304.7" cy="177.9" r="1.75"/><circle cx="288.7" cy="173.8" r="1.75"/><circle cx="303.6" cy="206.9" r="1.75"/><circle cx="308.5" cy="204" r="1.75"/><circle cx="322.9" cy="191.9" r="1.75"/><circle cx="307.9" cy="208" r="1.75"/><circle cx="298.8" cy="202.3" r="1.75"/><circle cx="321.4" cy="193.7" r="1.75"/><circle cx="304.5" cy="205.7" r="1.75"/><circle cx="307.7" cy="210.1" r="1.75"/><circle cx="323.1" cy="188" r="1.75"/><circle cx="301.1" cy="206" r="1.75"/><circle cx="304.3" cy="180.7" r="1.75"/><circle cx="326.8" cy="194.2" r="1.75"/><circle cx="314.3" cy="201.6" r="1.75"/><circle cx="294.7" cy="181.6" r="1.75"/><circle cx="312" cy="198.7" r="1.75"/><circle cx="303.5" cy="208.2" r="1.75"/><circle cx="312.9" cy="179.2" r="1.75"/><circle cx="304.7" cy="196" r="1.75"/><circle cx="301.8" cy="181.9" r="1.75"/><circle cx="319.5" cy="205.2" r="1.75"/><circle cx="301.6" cy="210.5" r="1.75"/><circle cx="311" cy="176.3" r="1.75"/><circle cx="300.8" cy="207.7" r="1.75"/><circle cx="297.2" cy="171.6" r="1.75"/><circle cx="296.2" cy="172.3" r="1.75"/><circle cx="299" cy="206.3" r="1.75"/><circle cx="299.6" cy="200.3" r="1.75"/><circle cx="300.4" cy="186.1" r="1.75"/><circle cx="300.8" cy="172.4" r="1.75"/><circle cx="297.6" cy="196" r="1.75"/><circle cx="309.5" cy="198.6" r="1.75"/><circle cx="309.8" cy="198.8" r="1.75"/><circle cx="316.6" cy="200.2" r="1.75"/><circle cx="313.5" cy="198.2" r="1.75"/><circle cx="296.7" cy="176.8" r="1.75"/><circle cx="316.4" cy="201.2" r="1.75"/><circle cx="315" cy="203.1" r="1.75"/><circle cx="293.4" cy="170.6" r="1.75"/><circle cx="315.4" cy="202.4" r="1.75"/><circle cx="303.3" cy="208.1" r="1.75"/><circle cx="300.9" cy="202" r="1.75"/><circle cx="321.3" cy="173.2" r="1.75"/><circle cx="316.8" cy="170.7" r="1.75"/><circle cx="319.6" cy="181.3" r="1.75"/><circle cx="303.2" cy="181.9" r="1.75"/><circle cx="317.6" cy="188.2" r="1.75"/><circle cx="316.4" cy="176.7" r="1.75"/><circle cx="311.2" cy="199.6" r="1.75"/><circle cx="311" cy="179.3" r="1.75"/><circle cx="310.1" cy="207.4" r="1.75"/><circle cx="298.8" cy="207.3" r="1.75"/><circle cx="315.4" cy="198" r="1.75"/><circle cx="306.5" cy="207.9" r="1.75"/><circle cx="302.2" cy="188.9" r="1.75"/><circle cx="295.8" cy="181.2" r="1.75"/><circle cx="312.5" cy="186.8" r="1.75"/><circle cx="291" cy="181.3" r="1.75"/><circle cx="295.9" cy="200.9" r="1.75"/><circle cx="317.3" cy="182" r="1.75"/><circle cx="295.9" cy="190.2" r="1.75"/><circle cx="317.9" cy="185.9" r="1.75"/><circle cx="311.4" cy="182.1" r="1.75"/><circle cx="314" cy="173.8" r="1.75"/><circle cx="302.8" cy="203" r="1.75"/><circle cx="306.3" cy="210.1" r="1.75"/><circle cx="295.8" cy="202" r="1.75"/><circle cx="314.2" cy="191" r="1.75"/><circle cx="318.9" cy="194.7" r="1.75"/><circle cx="313" cy="179.4" r="1.75"/><circle cx="312.5" cy="196.7" r="1.75"/><circle cx="299.9" cy="211.2" r="1.75"/><circle cx="320.6" cy="176" r="1.75"/><circle cx="311" cy="204.9" r="1.75"/><circle cx="304.5" cy="202.6" r="1.75"/><circle cx="312" cy="208.4" r="1.75"/><circle cx="313.6" cy="205.1" r="1.75"/><circle cx="318.2" cy="209.9" r="1.75"/><circle cx="311.9" cy="190.2" r="1.75"/><circle cx="315.3" cy="211.1" r="1.75"/><circle cx="306.9" cy="195.7" r="1.75"/><circle cx="297.5" cy="199.2" r="1.75"/><circle cx="309.5" cy="208.6" r="1.75"/><circle cx="318.4" cy="206.7" r="1.75"/><circle cx="309.5" cy="208.1" r="1.75"/><circle cx="311.6" cy="202.3" r="1.75"/><circle cx="318.3" cy="206.5" r="1.75"/><circle cx="317.2" cy="190.7" r="1.75"/><circle cx="293.7" cy="192.1" r="1.75"/><circle cx="308.3" cy="209.8" r="1.75"/><circle cx="308.5" cy="209.8" r="1.75"/><circle cx="307" cy="199.7" r="1.75"/><circle cx="297.1" cy="171.9" r="1.75"/><circle cx="305.1" cy="177.3" r="1.75"/><circle cx="312.8" cy="177" r="1.75"/><circle cx="303.5" cy="208.4" r="1.75"/><circle cx="316" cy="179.2" r="1.75"/><circle cx="298.5" cy="199.6" r="1.75"/><circle cx="303.6" cy="171.1" r="1.75"/><circle cx="303.8" cy="179.5" r="1.75"/><circle cx="309.6" cy="203.2" r="1.75"/><circle cx="319" cy="209.5" r="1.75"/><circle cx="300.2" cy="175.8" r="1.75"/><circle cx="315.3" cy="183.7" r="1.75"/><circle cx="312.4" cy="191.4" r="1.75"/><circle cx="305.9" cy="203.2" r="1.75"/><circle cx="309.9" cy="208.3" r="1.75"/><circle cx="315" cy="189.1" r="1.75"/><circle cx="310.9" cy="196.6" r="1.75"/><circle cx="312.6" cy="208.1" r="1.75"/><circle cx="299.8" cy="210.3" r="1.75"/><circle cx="314.8" cy="178.6" r="1.75"/><circle cx="315.7" cy="209.3" r="1.75"/><circle cx="314.6" cy="181.3" r="1.75"/><circle cx="306.9" cy="205.5" r="1.75"/><circle cx="318" cy="198.6" r="1.75"/><circle cx="300.9" cy="205.8" r="1.75"/><circle cx="288" cy="171.2" r="1.75"/><circle cx="308.6" cy="205.8" r="1.75"/><circle cx="307.4" cy="204.5" r="1.75"/><circle cx="314.6" cy="197.9" r="1.75"/><circle cx="318.3" cy="193.7" r="1.75"/><circle cx="303.4" cy="189.6" r="1.75"/><circle cx="314.4" cy="182.5" r="1.75"/><circle cx="322.7" cy="180.6" r="1.75"/><circle cx="298.9" cy="178.3" r="1.75"/><circle cx="310.7" cy="208.8" r="1.75"/><circle cx="296.2" cy="193.7" r="1.75"/><circle cx="292.8" cy="174.6" r="1.75"/><circle cx="309.4" cy="198.6" r="1.75"/><circle cx="292.4" cy="171.7" r="1.75"/><circle cx="300.7" cy="184.2" r="1.75"/><circle cx="316.5" cy="210.8" r="1.75"/><circle cx="292.2" cy="189.1" r="1.75"/><circle cx="313.3" cy="186.8" r="1.75"/><circle cx="309.7" cy="204.1" r="1.75"/><circle cx="310.7" cy="181" r="1.75"/><circle cx="304.7" cy="179.7" r="1.75"/><circle cx="313" cy="189.5" r="1.75"/><circle cx="303" cy="204.3" r="1.75"/><circle cx="307.6" cy="199.5" r="1.75"/><circle cx="316.2" cy="189.2" r="1.75"/><circle cx="313" cy="172.6" r="1.75"/><circle cx="313.9" cy="201.3" r="1.75"/><circle cx="294.1" cy="199.6" r="1.75"/><circle cx="309.7" cy="204.9" r="1.75"/><circle cx="298.9" cy="182.5" r="1.75"/><circle cx="313.3" cy="191.8" r="1.75"/><circle cx="313.7" cy="187.5" r="1.75"/><circle cx="319.2" cy="196" r="1.75"/><circle cx="301.8" cy="179.6" r="1.75"/><circle cx="304" cy="170.5" r="1.75"/><circle cx="311.9" cy="205" r="1.75"/><circle cx="308.6" cy="208.2" r="1.75"/><circle cx="305.5" cy="200.3" r="1.75"/><circle cx="317.6" cy="186.7" r="1.75"/><circle cx="294.8" cy="182.1" r="1.75"/><circle cx="320.4" cy="189" r="1.75"/><circle cx="304.3" cy="178.4" r="1.75"/><circle cx="315.6" cy="183.3" r="1.75"/><circle cx="304.4" cy="195.2" r="1.75"/><circle cx="309.2" cy="199.5" r="1.75"/><circle cx="312.9" cy="181.2" r="1.75"/><circle cx="308.1" cy="206.4" r="1.75"/><circle cx="326.7" cy="186.6" r="1.75"/><circle cx="318.4" cy="170.2" r="1.75"/><circle cx="313.2" cy="181.1" r="1.75"/><circle cx="302.4" cy="210.6" r="1.75"/><circle cx="308.9" cy="201.3" r="1.75"/><circle cx="310.5" cy="186" r="1.75"/><circle cx="299.9" cy="188" r="1.75"/><circle cx="317.5" cy="202.8" r="1.75"/><circle cx="312.9" cy="201" r="1.75"/><circle cx="312.8" cy="176.6" r="1.75"/><circle cx="292.1" cy="184.8" r="1.75"/><circle cx="312.1" cy="197.7" r="1.75"/><circle cx="301.7" cy="177.7" r="1.75"/><circle cx="302.3" cy="184.2" r="1.75"/><circle cx="314.1" cy="185.2" r="1.75"/><circle cx="300.4" cy="173.1" r="1.75"/><circle cx="311.5" cy="182.4" r="1.75"/><circle cx="316.9" cy="204.3" r="1.75"/><circle cx="295.4" cy="186.9" r="1.75"/><circle cx="312.9" cy="179.4" r="1.75"/><circle cx="301.9" cy="188.1" r="1.75"/><circle cx="303.6" cy="202.9" r="1.75"/><circle cx="315.1" cy="182.8" r="1.75"/><circle cx="315.2" cy="191.6" r="1.75"/><circle cx="319" cy="191.3" r="1.75"/><circle cx="293.1" cy="190.9" r="1.75"/><circle cx="314.4" cy="185.3" r="1.75"/><circle cx="300.4" cy="185" r="1.75"/><circle cx="309.8" cy="203.4" r="1.75"/><circle cx="313" cy="209.6" r="1.75"/><circle cx="311.2" cy="197.1" r="1.75"/><circle cx="310.6" cy="193.8" r="1.75"/><circle cx="314.6" cy="194.2" r="1.75"/><circle cx="318.4" cy="180.5" r="1.75"/><circle cx="314" cy="209.3" r="1.75"/><circle cx="294.1" cy="186.3" r="1.75"/><circle cx="325.5" cy="184.2" r="1.75"/><circle cx="307.3" cy="204.4" r="1.75"/><circle cx="295" cy="179.3" r="1.75"/><circle cx="315.4" cy="208.9" r="1.75"/><circle cx="302.6" cy="172.7" r="1.75"/><circle cx="302.9" cy="177.6" r="1.75"/><circle cx="303.7" cy="190.4" r="1.75"/><circle cx="308" cy="206.2" r="1.75"/><circle cx="310.5" cy="210.8" r="1.75"/><circle cx="317.1" cy="200.3" r="1.75"/><circle cx="311.4" cy="198.3" r="1.75"/><circle cx="305.3" cy="210.7" r="1.75"/><circle cx="310.1" cy="202.9" r="1.75"/><circle cx="320.9" cy="188.3" r="1.75"/><circle cx="303.4" cy="202.3" r="1.75"/><circle cx="307.4" cy="201.2" r="1.75"/><circle cx="314.6" cy="193.9" r="1.75"/><circle cx="295" cy="180.2" r="1.75"/><circle cx="301" cy="176.6" r="1.75"/><circle cx="324.6" cy="194" r="1.75"/><circle cx="314.2" cy="175.7" r="1.75"/><circle cx="315.1" cy="198.4" r="1.75"/><circle cx="311.8" cy="179.7" r="1.75"/><circle cx="305.4" cy="195.7" r="1.75"/><circle cx="311.7" cy="205.2" r="1.75"/><circle cx="309.8" cy="208.9" r="1.75"/><circle cx="293.5" cy="200.2" r="1.75"/><circle cx="316.4" cy="185.4" r="1.75"/><circle cx="305.2" cy="180.6" r="1.75"/><circle cx="315.2" cy="195.6" r="1.75"/><circle cx="314.3" cy="202.9" r="1.75"/><circle cx="305.4" cy="209.6" r="1.75"/><circle cx="301.5" cy="210.1" r="1.75"/><circle cx="309.7" cy="206.3" r="1.75"/><circle cx="321.2" cy="178.1" r="1.75"/><circle cx="297.7" cy="197.4" r="1.75"/><circle cx="298" cy="186.5" r="1.75"/><circle cx="310.8" cy="197" r="1.75"/><circle cx="314.6" cy="209" r="1.75"/><circle cx="312.1" cy="209.4" r="1.75"/><circle cx="303.6" cy="197.2" r="1.75"/><circle cx="304" cy="190.1" r="1.75"/><circle cx="303.5" cy="192.7" r="1.75"/><circle cx="305.2" cy="201.2" r="1.75"/><circle cx="300.1" cy="172.4" r="1.75"/><circle cx="302.8" cy="183.7" r="1.75"/><circle cx="315.1" cy="181" r="1.75"/><circle cx="321.9" cy="192.7" r="1.75"/><circle cx="301.5" cy="206.1" r="1.75"/><circle cx="332" cy="176.9" r="1.75"/><circle cx="297" cy="174.3" r="1.75"/><circle cx="301.2" cy="181.8" r="1.75"/><circle cx="323.5" cy="191.9" r="1.75"/><circle cx="311.2" cy="208.1" r="1.75"/><circle cx="303.9" cy="201" r="1.75"/><circle cx="310.5" cy="194.1" r="1.75"/><circle cx="296.9" cy="194.5" r="1.75"/><circle cx="309" cy="209.7" r="1.75"/><circle cx="312.8" cy="198.9" r="1.75"/><circle cx="309.6" cy="193.8" r="1.75"/><circle cx="308.1" cy="205.9" r="1.75"/><circle cx="292.7" cy="170.6" r="1.75"/><circle cx="315.2" cy="188.7" r="1.75"/><circle cx="311.1" cy="194.6" r="1.75"/><circle cx="325.4" cy="184.4" r="1.75"/><circle cx="306.9" cy="209.2" r="1.75"/><circle cx="306.6" cy="206.9" r="1.75"/><circle cx="304.2" cy="188.4" r="1.75"/><circle cx="301.4" cy="191.6" r="1.75"/><circle cx="305.9" cy="200.5" r="1.75"/><circle cx="312.3" cy="200.6" r="1.75"/><circle cx="308.1" cy="206.7" r="1.75"/><circle cx="307.7" cy="202.5" r="1.75"/><circle cx="313.3" cy="178.6" r="1.75"/><circle cx="302.7" cy="181.8" r="1.75"/><circle cx="302" cy="178.5" r="1.75"/><circle cx="299.4" cy="181" r="1.75"/><circle cx="305.8" cy="199.4" r="1.75"/><circle cx="313.4" cy="203" r="1.75"/><circle cx="303.5" cy="191.4" r="1.75"/><circle cx="308" cy="208.4" r="1.75"/><circle cx="309.4" cy="210.5" r="1.75"/><circle cx="313.5" cy="186.8" r="1.75"/><circle cx="297.1" cy="178.4" r="1.75"/><circle cx="306.2" cy="195.3" r="1.75"/><circle cx="308.6" cy="208.8" r="1.75"/><circle cx="298.9" cy="206.2" r="1.75"/><circle cx="303.7" cy="199.8" r="1.75"/><circle cx="300.2" cy="205.6" r="1.75"/><circle cx="300.9" cy="196.7" r="1.75"/><circle cx="315.7" cy="178" r="1.75"/><circle cx="299.5" cy="206.2" r="1.75"/><circle cx="318.6" cy="205" r="1.75"/><circle cx="310.7" cy="205.1" r="1.75"/><circle cx="297.5" cy="193" r="1.75"/><circle cx="319.8" cy="193.7" r="1.75"/><circle cx="312.8" cy="201.6" r="1.75"/><circle cx="317.6" cy="194.4" r="1.75"/><circle cx="304.6" cy="196.4" r="1.75"/><circle cx="306.3" cy="198.1" r="1.75"/><circle cx="320" cy="182.6" r="1.75"/><circle cx="314.2" cy="207.4" r="1.75"/><circle cx="309" cy="205.5" r="1.75"/><circle cx="314" cy="187.7" r="1.75"/><circle cx="317.1" cy="193" r="1.75"/><circle cx="314.6" cy="198.7" r="1.75"/><circle cx="315" cy="182.8" r="1.75"/><circle cx="323.3" cy="190.7" r="1.75"/><circle cx="313.4" cy="206.9" r="1.75"/><circle cx="300.6" cy="200.4" r="1.75"/><circle cx="306.7" cy="206.1" r="1.75"/><circle cx="306" cy="207.3" r="1.75"/><circle cx="306.7" cy="210.2" r="1.75"/><circle cx="307.3" cy="204.1" r="1.75"/><circle cx="308.4" cy="210.7" r="1.75"/><circle cx="293.8" cy="196.8" r="1.75"/><circle cx="315.3" cy="178.2" r="1.75"/><circle cx="321.6" cy="188.8" r="1.75"/><circle cx="312.8" cy="176.6" r="1.75"/><circle cx="294.7" cy="176.1" r="1.75"/><circle cx="313.1" cy="202" r="1.75"/><circle cx="299.4" cy="191.2" r="1.75"/><circle cx="309" cy="210.5" r="1.75"/><circle cx="298.8" cy="173.3" r="1.75"/><circle cx="304.2" cy="192.2" r="1.75"/><circle cx="298.6" cy="175.1" r="1.75"/><circle cx="312.5" cy="206.1" r="1.75"/><circle cx="298.6" cy="198.9" r="1.75"/><circle cx="304" cy="206.1" r="1.75"/><circle cx="308.5" cy="211.2" r="1.75"/><circle cx="291" cy="180.6" r="1.75"/><circle cx="314.1" cy="195.9" r="1.75"/><circle cx="306" cy="201.9" r="1.75"/><circle cx="306.8" cy="209.4" r="1.75"/><circle cx="322.4" cy="173" r="1.75"/><circle cx="310" cy="193.3" r="1.75"/><circle cx="314.7" cy="171.7" r="1.75"/><circle cx="301.6" cy="190" r="1.75"/><circle cx="312" cy="190.1" r="1.75"/><circle cx="302.9" cy="208.8" r="1.75"/><circle cx="310.1" cy="207.8" r="1.75"/><circle cx="330.2" cy="178.2" r="1.75"/><circle cx="289.8" cy="200.5" r="1.75"/><circle cx="316" cy="191.7" r="1.75"/><circle cx="304" cy="199.5" r="1.75"/><circle cx="306.4" cy="208.9" r="1.75"/><circle cx="308.5" cy="210" r="1.75"/><circle cx="303.9" cy="180.9" r="1.75"/><circle cx="304.5" cy="175" r="1.75"/><circle cx="313.9" cy="192.8" r="1.75"/><circle cx="301.8" cy="174.7" r="1.75"/><circle cx="302.5" cy="186.5" r="1.75"/><circle cx="314.9" cy="198.1" r="1.75"/><circle cx="306.7" cy="203.4" r="1.75"/><circle cx="313.3" cy="192.5" r="1.75"/><circle cx="295.2" cy="185" r="1.75"/><circle cx="311.6" cy="211.2" r="1.75"/><circle cx="297.2" cy="207" r="1.75"/><circle cx="309.5" cy="204.3" r="1.75"/><circle cx="311.8" cy="206.2" r="1.75"/><circle cx="305.6" cy="191.9" r="1.75"/><circle cx="300.1" cy="190.2" r="1.75"/><circle cx="318.9" cy="183.9" r="1.75"/><circle cx="288.9" cy="183" r="1.75"/><circle cx="315.3" cy="192.1" r="1.75"/><circle cx="310.6" cy="204.5" r="1.75"/><circle cx="304.5" cy="198.7" r="1.75"/><circle cx="293.2" cy="195.2" r="1.75"/><circle cx="292.8" cy="198.9" r="1.75"/><circle cx="293.4" cy="183.4" r="1.75"/><circle cx="318.2" cy="191.9" r="1.75"/><circle cx="297.3" cy="180.4" r="1.75"/><circle cx="302.2" cy="180.9" r="1.75"/><circle cx="297.9" cy="196.5" r="1.75"/><circle cx="312.6" cy="182.7" r="1.75"/><circle cx="302.7" cy="188" r="1.75"/><circle cx="316.2" cy="191.5" r="1.75"/><circle cx="310.4" cy="209.1" r="1.75"/><circle cx="313.6" cy="205.9" r="1.75"/><circle cx="313" cy="171.3" r="1.75"/><circle cx="319.6" cy="196.1" r="1.75"/><circle cx="302.2" cy="173.1" r="1.75"/><circle cx="323.3" cy="185.4" r="1.75"/><circle cx="306.4" cy="208.7" r="1.75"/><circle cx="312.5" cy="211.1" r="1.75"/><circle cx="318.9" cy="172" r="1.75"/><circle cx="302.6" cy="211.1" r="1.75"/><circle cx="319.1" cy="175" r="1.75"/><circle cx="314.8" cy="176.2" r="1.75"/><circle cx="301.9" cy="195.1" r="1.75"/><circle cx="303" cy="192.9" r="1.75"/><circle cx="319.5" cy="192.8" r="1.75"/><circle cx="309.5" cy="209.2" r="1.75"/><circle cx="313.7" cy="189.4" r="1.75"/><circle cx="310.7" cy="193.7" r="1.75"/><circle cx="322.9" cy="180.7" r="1.75"/><circle cx="298.4" cy="194.7" r="1.75"/><circle cx="321.5" cy="176.8" r="1.75"/><circle cx="316.3" cy="174.9" r="1.75"/><circle cx="305.2" cy="195.5" r="1.75"/><circle cx="313.8" cy="202.8" r="1.75"/><circle cx="324.7" cy="181.5" r="1.75"/><circle cx="302.5" cy="177.6" r="1.75"/><circle cx="315.3" cy="210.8" r="1.75"/><circle cx="306.1" cy="192" r="1.75"/><circle cx="315.3" cy="170.4" r="1.75"/><circle cx="314.7" cy="211.1" r="1.75"/><circle cx="317.3" cy="195.9" r="1.75"/><circle cx="302.6" cy="188.7" r="1.75"/><circle cx="317.1" cy="205.1" r="1.75"/><circle cx="308.6" cy="210.2" r="1.75"/><circle cx="313.7" cy="203.1" r="1.75"/><circle cx="305" cy="182.6" r="1.75"/><circle cx="307" cy="198.7" r="1.75"/><circle cx="304.7" cy="203.1" r="1.75"/><circle cx="324.4" cy="201.6" r="1.75"/><circle cx="306.8" cy="196.7" r="1.75"/><circle cx="313" cy="171.8" r="1.75"/><circle cx="305.6" cy="203.7" r="1.75"/><circle cx="313.6" cy="203.2" r="1.75"/><circle cx="310.3" cy="188.2" r="1.75"/><circle cx="313.8" cy="206.4" r="1.75"/><circle cx="309.7" cy="201.5" r="1.75"/><circle cx="302" cy="171.3" r="1.75"/><circle cx="312.8" cy="207.5" r="1.75"/><circle cx="309.9" cy="191.3" r="1.75"/><circle cx="298.2" cy="199.8" r="1.75"/><circle cx="316.9" cy="185" r="1.75"/><circle cx="313.6" cy="202.6" r="1.75"/><circle cx="303.4" cy="188.9" r="1.75"/><circle cx="309.3" cy="197.8" r="1.75"/><circle cx="297.9" cy="192" r="1.75"/><circle cx="313" cy="205.2" r="1.75"/><circle cx="311.8" cy="176.7" r="1.75"/><circle cx="310.2" cy="204.2" r="1.75"/><circle cx="314.8" cy="172.9" r="1.75"/><circle cx="312.5" cy="208.9" r="1.75"/><circle cx="295.4" cy="192.1" r="1.75"/><circle cx="328.5" cy="170.7" r="1.75"/><circle cx="315.1" cy="191.8" r="1.75"/><circle cx="298.1" cy="193.5" r="1.75"/><circle cx="313.7" cy="180.2" r="1.75"/><circle cx="304.2" cy="191.2" r="1.75"/><circle cx="298.4" cy="177.1" r="1.75"/><circle cx="311.4" cy="202.2" r="1.75"/><circle cx="314.9" cy="175.9" r="1.75"/><circle cx="310" cy="191.8" r="1.75"/><circle cx="294.6" cy="198.5" r="1.75"/><circle cx="311.1" cy="181.7" r="1.75"/><circle cx="299.1" cy="190.8" r="1.75"/><circle cx="303.3" cy="193.2" r="1.75"/><circle cx="310.4" cy="188.8" r="1.75"/><circle cx="317.4" cy="197.2" r="1.75"/><circle cx="319.9" cy="200.4" r="1.75"/><circle cx="305.1" cy="208.4" r="1.75"/><circle cx="304.2" cy="191.2" r="1.75"/><circle cx="312.9" cy="207.5" r="1.75"/><circle cx="300.9" cy="187.6" r="1.75"/><circle cx="315.1" cy="207.2" r="1.75"/><circle cx="297.7" cy="191.2" r="1.75"/><circle cx="311.2" cy="209.2" r="1.75"/><circle cx="302.5" cy="179.5" r="1.75"/><circle cx="308" cy="205.4" r="1.75"/><circle cx="319.8" cy="178.3" r="1.75"/><circle cx="309.6" cy="199.9" r="1.75"/><circle cx="313.2" cy="198.5" r="1.75"/><circle cx="308.1" cy="204.8" r="1.75"/><circle cx="307.7" cy="210.9" r="1.75"/><circle cx="310.1" cy="209.9" r="1.75"/><circle cx="313.5" cy="184" r="1.75"/><circle cx="313.1" cy="191.7" r="1.75"/><circle cx="301" cy="209.6" r="1.75"/><circle cx="301.2" cy="175.3" r="1.75"/><circle cx="302.8" cy="207.4" r="1.75"/><circle cx="305.4" cy="194" r="1.75"/><circle cx="306" cy="204.8" r="1.75"/><circle cx="305.8" cy="184.1" r="1.75"/><circle cx="318.8" cy="208.3" r="1.75"/><circle cx="308.9" cy="198.7" r="1.75"/><circle cx="299.3" cy="195.8" r="1.75"/><circle cx="308.4" cy="210.7" r="1.75"/><circle cx="315.8" cy="178.1" r="1.75"/><circle cx="303.9" cy="201.1" r="1.75"/><circle cx="300.2" cy="189.4" r="1.75"/><circle cx="318.8" cy="190.6" r="1.75"/><circle cx="293.8" cy="186.5" r="1.75"/><circle cx="296.6" cy="206.8" r="1.75"/><circle cx="304.7" cy="191.5" r="1.75"/><circle cx="306.1" cy="197.4" r="1.75"/><circle cx="298.2" cy="202.4" r="1.75"/><circle cx="305.7" cy="201.6" r="1.75"/><circle cx="311.1" cy="193.5" r="1.75"/><circle cx="317" cy="170.4" r="1.75"/><circle cx="303.9" cy="175" r="1.75"/><circle cx="313.1" cy="204.9" r="1.75"/><circle cx="309.6" cy="196.1" r="1.75"/><circle cx="321" cy="177.7" r="1.75"/><circle cx="320.1" cy="197.4" r="1.75"/><circle cx="307.7" cy="202.5" r="1.75"/><circle cx="314.5" cy="184" r="1.75"/><circle cx="315.2" cy="188.6" r="1.75"/><circle cx="313.6" cy="204.8" r="1.75"/><circle cx="313.8" cy="176.4" r="1.75"/><circle cx="300" cy="204" r="1.75"/><circle cx="310.3" cy="204.7" r="1.75"/><circle cx="318.6" cy="197.2" r="1.75"/><circle cx="297.9" cy="189.4" r="1.75"/><circle cx="314.9" cy="186.5" r="1.75"/><circle cx="309" cy="198" r="1.75"/><circle cx="302.6" cy="209.4" r="1.75"/><circle cx="312.3" cy="184.8" r="1.75"/><circle cx="293" cy="187.3" r="1.75"/><circle cx="307.8" cy="202.5" r="1.75"/><circle cx="309.3" cy="200.3" r="1.75"/><circle cx="315.7" cy="175.8" r="1.75"/><circle cx="316.9" cy="193.8" r="1.75"/><circle cx="303.8" cy="196.7" r="1.75"/><circle cx="318.1" cy="187" r="1.75"/><circle cx="310.8" cy="198.1" r="1.75"/><circle cx="298.6" cy="192.7" r="1.75"/><circle cx="315.5" cy="185.5" r="1.75"/><circle cx="304.5" cy="211.2" r="1.75"/><circle cx="310.2" cy="204.7" r="1.75"/><circle cx="304.6" cy="201.9" r="1.75"/><circle cx="316.7" cy="199.1" r="1.75"/><circle cx="305.3" cy="205.9" r="1.75"/><circle cx="304.5" cy="203.7" r="1.75"/><circle cx="316.1" cy="211.1" r="1.75"/><circle cx="308.3" cy="202.5" r="1.75"/><circle cx="305.3" cy="188.3" r="1.75"/><circle cx="296.4" cy="177.2" r="1.75"/><circle cx="312" cy="189.3" r="1.75"/><circle cx="319.7" cy="175.2" r="1.75"/><circle cx="312.8" cy="183.1" r="1.75"/><circle cx="301.3" cy="185.6" r="1.75"/><circle cx="318.4" cy="195.5" r="1.75"/><circle cx="297" cy="198.9" r="1.75"/><circle cx="322.3" cy="190.1" r="1.75"/><circle cx="307.9" cy="203.3" r="1.75"/><circle cx="314.6" cy="192.8" r="1.75"/><circle cx="311.9" cy="178.7" r="1.75"/><circle cx="301" cy="205" r="1.75"/><circle cx="299.5" cy="172" r="1.75"/><circle cx="316.9" cy="195" r="1.75"/><circle cx="311.8" cy="185.5" r="1.75"/><circle cx="310.7" cy="180.6" r="1.75"/><circle cx="306.4" cy="194.7" r="1.75"/><circle cx="323.8" cy="170.7" r="1.75"/><circle cx="306.8" cy="199" r="1.75"/><circle cx="301.5" cy="173.3" r="1.75"/><circle cx="307.4" cy="211.1" r="1.75"/><circle cx="319.5" cy="201.4" r="1.75"/><circle cx="320.8" cy="178.4" r="1.75"/><circle cx="313.9" cy="190.5" r="1.75"/><circle cx="315.7" cy="203.2" r="1.75"/><circle cx="299.5" cy="189.9" r="1.75"/><circle cx="293.8" cy="202.4" r="1.75"/><circle cx="315.6" cy="201.6" r="1.75"/><circle cx="327.1" cy="178.8" r="1.75"/><circle cx="294.8" cy="198.2" r="1.75"/><circle cx="315.3" cy="188.4" r="1.75"/><circle cx="299.4" cy="188.2" r="1.75"/><circle cx="311.8" cy="211.2" r="1.75"/><circle cx="316.2" cy="205.1" r="1.75"/><circle cx="292.9" cy="189.3" r="1.75"/><circle cx="301.6" cy="185.1" r="1.75"/><circle cx="311.9" cy="188.4" r="1.75"/><circle cx="314.1" cy="179.7" r="1.75"/><circle cx="305.3" cy="193.8" r="1.75"/><circle cx="291.9" cy="171.2" r="1.75"/><circle cx="305.6" cy="184.7" r="1.75"/><circle cx="307.4" cy="209.3" r="1.75"/><circle cx="304.6" cy="210.6" r="1.75"/><circle cx="304.7" cy="210.1" r="1.75"/><circle cx="304.1" cy="175.2" r="1.75"/><circle cx="298.7" cy="202.3" r="1.75"/><circle cx="302.2" cy="200.1" r="1.75"/><circle cx="306.3" cy="190.2" r="1.75"/><circle cx="302.8" cy="185.3" r="1.75"/><circle cx="302.2" cy="202" r="1.75"/><circle cx="307.2" cy="210.1" r="1.75"/><circle cx="299.3" cy="198.1" r="1.75"/><circle cx="295" cy="196.3" r="1.75"/><circle cx="307.5" cy="205.7" r="1.75"/><circle cx="305.9" cy="207.3" r="1.75"/><circle cx="295.5" cy="179.9" r="1.75"/><circle cx="311.2" cy="198.5" r="1.75"/><circle cx="300.8" cy="202.9" r="1.75"/><circle cx="313" cy="183" r="1.75"/><circle cx="328.7" cy="178.1" r="1.75"/><circle cx="307.1" cy="210.9" r="1.75"/><circle cx="304" cy="209.6" r="1.75"/><circle cx="308" cy="205.8" r="1.75"/><circle cx="325.4" cy="196.3" r="1.75"/><circle cx="297.7" cy="200.6" r="1.75"/><circle cx="304.2" cy="189.8" r="1.75"/><circle cx="315" cy="204.6" r="1.75"/><circle cx="322.1" cy="174.5" r="1.75"/><circle cx="293.3" cy="198.8" r="1.75"/><circle cx="298.7" cy="206.1" r="1.75"/><circle cx="311.5" cy="191.7" r="1.75"/><circle cx="297" cy="188.8" r="1.75"/><circle cx="304.7" cy="179.3" r="1.75"/><circle cx="312.9" cy="199.7" r="1.75"/><circle cx="305" cy="199.6" r="1.75"/><circle cx="305.3" cy="185.7" r="1.75"/><circle cx="297.1" cy="180.3" r="1.75"/><circle cx="312.6" cy="207.4" r="1.75"/><circle cx="303.7" cy="171.5" r="1.75"/><circle cx="298.2" cy="187.4" r="1.75"/><circle cx="306.4" cy="194.8" r="1.75"/><circle cx="325.8" cy="195" r="1.75"/><circle cx="319" cy="191.3" r="1.75"/><circle cx="309" cy="210.8" r="1.75"/><circle cx="316.1" cy="192.1" r="1.75"/><circle cx="303.7" cy="211.2" r="1.75"/><circle cx="315.5" cy="184.9" r="1.75"/><circle cx="306.3" cy="209.9" r="1.75"/><circle cx="312.6" cy="210.6" r="1.75"/><circle cx="321.8" cy="199.6" r="1.75"/><circle cx="294" cy="171.3" r="1.75"/><circle cx="301.9" cy="185.5" r="1.75"/><circle cx="295.3" cy="184.9" r="1.75"/><circle cx="315.5" cy="209.2" r="1.75"/><circle cx="300.8" cy="186" r="1.75"/><circle cx="314.4" cy="194" r="1.75"/><circle cx="310.4" cy="208.2" r="1.75"/><circle cx="305.3" cy="203.4" r="1.75"/><circle cx="305.9" cy="199.1" r="1.75"/><circle cx="301.2" cy="199.9" r="1.75"/><circle cx="313.6" cy="179" r="1.75"/><circle cx="305.1" cy="204.9" r="1.75"/><circle cx="307.3" cy="199.2" r="1.75"/><circle cx="285.3" cy="179.8" r="1.75"/><circle cx="307" cy="207.4" r="1.75"/><circle cx="314.9" cy="175.6" r="1.75"/><circle cx="307" cy="201.2" r="1.75"/><circle cx="301.6" cy="190.9" r="1.75"/><circle cx="313.2" cy="186.4" r="1.75"/><circle cx="305.2" cy="208.6" r="1.75"/><circle cx="308.4" cy="201" r="1.75"/><circle cx="301.2" cy="193.8" r="1.75"/><circle cx="294.4" cy="185.3" r="1.75"/><circle cx="318.2" cy="196" r="1.75"/><circle cx="310.7" cy="192.6" r="1.75"/><circle cx="306.8" cy="196.8" r="1.75"/><circle cx="304" cy="184.6" r="1.75"/><circle cx="301.2" cy="194.6" r="1.75"/><circle cx="314" cy="174.1" r="1.75"/><circle cx="304.9" cy="194.6" r="1.75"/><circle cx="311.8" cy="211" r="1.75"/><circle cx="313.6" cy="197.5" r="1.75"/><circle cx="314.6" cy="183.2" r="1.75"/><circle cx="315.8" cy="177" r="1.75"/><circle cx="309.9" cy="207.2" r="1.75"/><circle cx="316.4" cy="188.5" r="1.75"/><circle cx="317.6" cy="187.5" r="1.75"/><circle cx="324.4" cy="177.9" r="1.75"/><circle cx="302.5" cy="205.5" r="1.75"/><circle cx="310.8" cy="198.8" r="1.75"/><circle cx="309.4" cy="196.2" r="1.75"/><circle cx="293.7" cy="194.6" r="1.75"/><circle cx="300.3" cy="207.3" r="1.75"/><circle cx="304.5" cy="183.9" r="1.75"/><circle cx="316" cy="207.1" r="1.75"/><circle cx="312.5" cy="206.5" r="1.75"/><circle cx="297.8" cy="184.9" r="1.75"/><circle cx="314" cy="199.6" r="1.75"/><circle cx="322.4" cy="187.1" r="1.75"/><circle cx="318.2" cy="179.1" r="1.75"/><circle cx="306.6" cy="197.7" r="1.75"/><circle cx="305.8" cy="186.5" r="1.75"/><circle cx="312.2" cy="202.7" r="1.75"/><circle cx="308.2" cy="210.3" r="1.75"/><circle cx="304.2" cy="174.9" r="1.75"/><circle cx="302.3" cy="208.4" r="1.75"/><circle cx="315.9" cy="188" r="1.75"/><circle cx="315.9" cy="195.4" r="1.75"/><circle cx="294.3" cy="179" r="1.75"/><circle cx="302.5" cy="180.7" r="1.75"/><circle cx="316.8" cy="192" r="1.75"/><circle cx="332" cy="199.5" r="1.75"/><circle cx="311.5" cy="186.4" r="1.75"/><circle cx="306.2" cy="209.7" r="1.75"/><circle cx="304.2" cy="200.1" r="1.75"/><circle cx="293.9" cy="186.8" r="1.75"/><circle cx="302.3" cy="192.7" r="1.75"/><circle cx="309.4" cy="204.6" r="1.75"/><circle cx="301.2" cy="201.5" r="1.75"/><circle cx="308.8" cy="206.4" r="1.75"/><circle cx="311.8" cy="205.9" r="1.75"/><circle cx="312.8" cy="191.2" r="1.75"/><circle cx="312.1" cy="183.4" r="1.75"/><circle cx="308.8" cy="204.9" r="1.75"/><circle cx="307.2" cy="199.9" r="1.75"/><circle cx="302.3" cy="206.1" r="1.75"/><circle cx="310.5" cy="194.7" r="1.75"/><circle cx="303.2" cy="209.4" r="1.75"/><circle cx="321.5" cy="202.8" r="1.75"/><circle cx="309.5" cy="209.3" r="1.75"/><circle cx="300.4" cy="206.1" r="1.75"/><circle cx="302.4" cy="207.2" r="1.75"/><circle cx="305.9" cy="204.6" r="1.75"/><circle cx="312.5" cy="196.5" r="1.75"/><circle cx="296.6" cy="204.7" r="1.75"/><circle cx="297.1" cy="201" r="1.75"/><circle cx="304.8" cy="207.3" r="1.75"/><circle cx="314.5" cy="208.7" r="1.75"/><circle cx="312.5" cy="181.7" r="1.75"/><circle cx="306.2" cy="201.4" r="1.75"/><circle cx="292.3" cy="192.5" r="1.75"/><circle cx="311.2" cy="208.1" r="1.75"/><circle cx="320.6" cy="178.2" r="1.75"/><circle cx="321.9" cy="200.3" r="1.75"/><circle cx="306" cy="204.5" r="1.75"/><circle cx="311.6" cy="204.7" r="1.75"/><circle cx="305.7" cy="210.3" r="1.75"/><circle cx="306" cy="210.7" r="1.75"/><circle cx="300.4" cy="205.2" r="1.75"/><circle cx="313" cy="202.6" r="1.75"/><circle cx="310.1" cy="185.4" r="1.75"/><circle cx="299.2" cy="209" r="1.75"/><circle cx="311.9" cy="185.3" r="1.75"/><circle cx="322.7" cy="205.3" r="1.75"/><circle cx="315.2" cy="209.6" r="1.75"/><circle cx="304.8" cy="192.6" r="1.75"/><circle cx="312" cy="170.6" r="1.75"/><circle cx="312.7" cy="209.2" r="1.75"/><circle cx="311.5" cy="188.2" r="1.75"/><circle cx="306" cy="189.4" r="1.75"/><circle cx="298.3" cy="193.3" r="1.75"/><circle cx="316" cy="170.8" r="1.75"/><circle cx="314.5" cy="199.3" r="1.75"/><circle cx="274" cy="186.4" r="1.75"/><circle cx="283.1" cy="196" r="1.75"/><circle cx="333.7" cy="171.5" r="1.75"/><circle cx="336.9" cy="194.7" r="1.75"/></g>
<g fill="#cc5fc6" stroke="#3a1f3a" stroke-width="0.55"><circle cx="295.3" cy="165.2" r="1.75"/><circle cx="311.5" cy="169.7" r="1.75"/><circle cx="312.6" cy="169.6" r="1.75"/><circle cx="316.9" cy="169.7" r="1.75"/><circle cx="314.8" cy="167.8" r="1.75"/><circle cx="331.3" cy="169.3" r="1.75"/><circle cx="317.6" cy="155.9" r="1.75"/><circle cx="312.5" cy="165.8" r="1.75"/><circle cx="311.7" cy="168.2" r="1.75"/><circle cx="289.8" cy="163.8" r="1.75"/><circle cx="312.5" cy="157.9" r="1.75"/><circle cx="317.9" cy="167.7" r="1.75"/><circle cx="304.6" cy="149.5" r="1.75"/><circle cx="303.2" cy="154.9" r="1.75"/><circle cx="298.1" cy="165.4" r="1.75"/><circle cx="301.1" cy="166.2" r="1.75"/><circle cx="298.1" cy="165.9" r="1.75"/><circle cx="321.7" cy="168.2" r="1.75"/><circle cx="299.9" cy="169.3" r="1.75"/><circle cx="315.1" cy="155.6" r="1.75"/><circle cx="320" cy="167.4" r="1.75"/><circle cx="315.8" cy="156.2" r="1.75"/><circle cx="302.3" cy="167.3" r="1.75"/><circle cx="320.4" cy="169.1" r="1.75"/><circle cx="317.7" cy="158.1" r="1.75"/><circle cx="300.1" cy="164" r="1.75"/><circle cx="310.1" cy="169.3" r="1.75"/><circle cx="313.6" cy="165.2" r="1.75"/><circle cx="304.2" cy="161.4" r="1.75"/><circle cx="322.7" cy="159.4" r="1.75"/><circle cx="328.7" cy="167" r="1.75"/><circle cx="302.3" cy="164.1" r="1.75"/><circle cx="304.3" cy="166.8" r="1.75"/><circle cx="304.3" cy="169.1" r="1.75"/><circle cx="302.4" cy="167.4" r="1.75"/><circle cx="315.2" cy="164.5" r="1.75"/><circle cx="304" cy="151.7" r="1.75"/><circle cx="302.3" cy="165.3" r="1.75"/><circle cx="303.7" cy="158.9" r="1.75"/><circle cx="303" cy="166.6" r="1.75"/><circle cx="305" cy="160.5" r="1.75"/><circle cx="303.2" cy="168.8" r="1.75"/><circle cx="321.6" cy="168.6" r="1.75"/><circle cx="311.5" cy="157" r="1.75"/><circle cx="316.4" cy="164" r="1.75"/><circle cx="310.6" cy="168.1" r="1.75"/><circle cx="297.3" cy="169.2" r="1.75"/><circle cx="299.1" cy="157.1" r="1.75"/><circle cx="322.1" cy="167.5" r="1.75"/><circle cx="303.6" cy="167.3" r="1.75"/><circle cx="310.2" cy="168.4" r="1.75"/><circle cx="303.9" cy="146.6" r="1.75"/><circle cx="310.4" cy="162.6" r="1.75"/><circle cx="298.7" cy="155" r="1.75"/><circle cx="299.2" cy="154.9" r="1.75"/><circle cx="311.3" cy="168.8" r="1.75"/><circle cx="314.9" cy="168.7" r="1.75"/><circle cx="314" cy="168.2" r="1.75"/><circle cx="313.1" cy="166.1" r="1.75"/><circle cx="315" cy="168" r="1.75"/><circle cx="316.5" cy="162.4" r="1.75"/><circle cx="304.2" cy="169.8" r="1.75"/><circle cx="312.8" cy="168.8" r="1.75"/><circle cx="311.1" cy="169.5" r="1.75"/><circle cx="297.5" cy="168" r="1.75"/><circle cx="309.8" cy="168.4" r="1.75"/><circle cx="322.8" cy="169.3" r="1.75"/><circle cx="310.3" cy="164.6" r="1.75"/><circle cx="313.6" cy="164.1" r="1.75"/><circle cx="323.2" cy="167.4" r="1.75"/><circle cx="303.8" cy="168.5" r="1.75"/><circle cx="314.7" cy="169" r="1.75"/><circle cx="303.9" cy="165.4" r="1.75"/><circle cx="305.2" cy="168.6" r="1.75"/><circle cx="310.3" cy="169.7" r="1.75"/><circle cx="318.3" cy="161.2" r="1.75"/><circle cx="314.5" cy="155.4" r="1.75"/><circle cx="320.7" cy="169.9" r="1.75"/><circle cx="302" cy="167.5" r="1.75"/><circle cx="318.6" cy="164.2" r="1.75"/><circle cx="317.2" cy="169.2" r="1.75"/><circle cx="299.6" cy="145.7" r="1.75"/><circle cx="315" cy="146.6" r="1.75"/><circle cx="313.9" cy="153.8" r="1.75"/><circle cx="299.3" cy="166.7" r="1.75"/><circle cx="302.3" cy="150.2" r="1.75"/><circle cx="313.2" cy="163.2" r="1.75"/><circle cx="318.9" cy="165.1" r="1.75"/><circle cx="318.7" cy="166.5" r="1.75"/><circle cx="317.5" cy="167.9" r="1.75"/><circle cx="311.9" cy="162.1" r="1.75"/><circle cx="312.6" cy="168.9" r="1.75"/><circle cx="311.1" cy="169.6" r="1.75"/><circle cx="304.5" cy="169.5" r="1.75"/><circle cx="316.5" cy="164" r="1.75"/><circle cx="300.5" cy="108" r="1.75"/><circle cx="300.9" cy="118.8" r="1.75"/><circle cx="317.9" cy="119.8" r="1.75"/><circle cx="295.7" cy="127.4" r="1.75"/><circle cx="313.9" cy="129" r="1.75"/><circle cx="313.9" cy="131.2" r="1.75"/><circle cx="322.6" cy="132.1" r="1.75"/><circle cx="298.1" cy="139.1" r="1.75"/><circle cx="303.6" cy="142.3" r="1.75"/><circle cx="321" cy="144.8" r="1.75"/><circle cx="279.9" cy="159.8" r="1.75"/><circle cx="289.8" cy="156" r="1.75"/><circle cx="337.3" cy="155.6" r="1.75"/></g>
<text x="356" y="17.4" style="font-size:21px;">b</text>
<line x1="425.2" y1="23.5" x2="425.2" y2="221.5" stroke="#000" stroke-width="2.8"/>
<line x1="409" y1="213.6" x2="685" y2="213.6" stroke="#b07ab8" stroke-width="1.2"/>
<line x1="415" y1="215.2" x2="685" y2="215.2" stroke="#000" stroke-width="2.4"/>
<line x1="418" y1="24.4" x2="425" y2="24.4" stroke="#000" stroke-width="2.7"/>
<text x="416.2" y="29.7" text-anchor="end" textLength="26.9" lengthAdjust="spacingAndGlyphs" style="font-size:13.2px;">3000</text>
<line x1="418" y1="87.7" x2="425" y2="87.7" stroke="#000" stroke-width="2.7"/>
<text x="416.2" y="93" text-anchor="end" textLength="26.9" lengthAdjust="spacingAndGlyphs" style="font-size:13.2px;">2000</text>
<line x1="418" y1="151" x2="425" y2="151" stroke="#000" stroke-width="2.7"/>
<text x="416.2" y="156.3" text-anchor="end" textLength="26.9" lengthAdjust="spacingAndGlyphs" style="font-size:13.2px;">1000</text>
<line x1="425.6" y1="214" x2="425.6" y2="222.6" stroke="#000" stroke-width="2.6"/>
<text x="425" y="238.1" text-anchor="middle" style="font-size:12.7px;">-2</text>
<line x1="487.3" y1="214" x2="487.3" y2="222.6" stroke="#000" stroke-width="2.6"/>
<text x="486.7" y="238.1" text-anchor="middle" style="font-size:12.7px;">-1</text>
<line x1="549" y1="214" x2="549" y2="222.6" stroke="#000" stroke-width="2.6"/>
<text x="549" y="238.1" text-anchor="middle" style="font-size:12.7px;">0</text>
<line x1="610.7" y1="214" x2="610.7" y2="222.6" stroke="#000" stroke-width="2.6"/>
<text x="610.7" y="238.1" text-anchor="middle" style="font-size:12.7px;">1</text>
<line x1="672.4" y1="214" x2="672.4" y2="222.6" stroke="#000" stroke-width="2.6"/>
<text x="672.4" y="238.1" text-anchor="middle" style="font-size:12.7px;">2</text>
<text x="462.5" y="258.3" textLength="174" lengthAdjust="spacingAndGlyphs" style="font-size:15px;">log<tspan style="font-size:10px" dy="3">2</tspan><tspan dy="-3">(fold change from WT)</tspan></text>
<text transform="translate(381,119.3) rotate(-90)" text-anchor="middle" style="font-size:15.7px" textLength="120.7" lengthAdjust="spacingAndGlyphs">Number of values</text>
<rect x="512" y="210.8" width="6.2" height="3.5" fill="#cfe4f1" stroke="#222" stroke-width="0.8"/>
<rect x="518.2" y="209.9" width="6.2" height="4.4" fill="#c08ccb" stroke="#222" stroke-width="0.8"/>
<rect x="524.3" y="200.4" width="6.2" height="13.9" fill="#cfe4f1" stroke="#222" stroke-width="0.8"/>
<rect x="530.5" y="160.4" width="6.2" height="53.9" fill="#c08ccb" stroke="#222" stroke-width="0.8"/>
<rect x="536.7" y="145.9" width="6.2" height="68.4" fill="#cfe4f1" stroke="#222" stroke-width="0.8"/>
<rect x="542.9" y="58.8" width="6.2" height="155.5" fill="#c08ccb" stroke="#222" stroke-width="0.8"/>
<rect x="549" y="79.8" width="6.2" height="134.5" fill="#cfe4f1" stroke="#222" stroke-width="0.8"/>
<rect x="555.2" y="180.9" width="6.2" height="33.4" fill="#c08ccb" stroke="#222" stroke-width="0.8"/>
<rect x="561.3" y="170.4" width="6.2" height="43.9" fill="#cfe4f1" stroke="#222" stroke-width="0.8"/>
<rect x="567.5" y="209.9" width="6.2" height="4.4" fill="#c08ccb" stroke="#222" stroke-width="0.8"/>
<rect x="573.7" y="209.2" width="6.2" height="5.1" fill="#cfe4f1" stroke="#222" stroke-width="0.8"/>
<polyline points="493.5,214.3 493.9,214.3 494.4,214.3 494.9,214.3 495.3,214.3 495.8,214.3 496.2,214.3 496.7,214.3 497.2,214.3 497.6,214.3 498.1,214.3 498.6,214.3 499,214.3 499.5,214.3 499.9,214.3 500.4,214.3 500.9,214.3 501.3,214.3 501.8,214.3 502.3,214.3 502.7,214.3 503.2,214.3 503.7,214.3 504.1,214.3 504.6,214.3 505,214.3 505.5,214.3 506,214.3 506.4,214.3 506.9,214.3 507.4,214.3 507.8,214.3 508.3,214.3 508.7,214.3 509.2,214.3 509.7,214.3 510.1,214.3 510.6,214.3 511.1,214.3 511.5,214.3 512,214.3 512.4,214.3 512.9,214.3 513.4,214.3 513.8,214.3 514.3,214.3 514.8,214.3 515.2,214.3 515.7,214.3 516.1,214.2 516.6,214.2 517.1,214.2 517.5,214.2 518,214.2 518.5,214.1 518.9,214.1 519.4,214.1 519.8,214 520.3,213.9 520.8,213.9 521.2,213.8 521.7,213.7 522.2,213.5 522.6,213.4 523.1,213.2 523.5,213 524,212.7 524.5,212.4 524.9,212 525.4,211.6 525.9,211.2 526.3,210.6 526.8,210 527.3,209.3 527.7,208.4 528.2,207.5 528.6,206.5 529.1,205.3 529.6,204 530,202.5 530.5,200.8 531,199 531.4,197 531.9,194.8 532.3,192.4 532.8,189.7 533.3,186.9 533.7,183.8 534.2,180.4 534.7,176.8 535.1,173 535.6,169 536,164.7 536.5,160.2 537,155.4 537.4,150.5 537.9,145.4 538.4,140.1 538.8,134.7 539.3,129.2 539.7,123.6 540.2,117.9 540.7,112.2 541.1,106.6 541.6,101 542.1,95.5 542.5,90.2 543,85.1 543.4,80.2 543.9,75.6 544.4,71.3 544.8,67.4 545.3,63.8 545.8,60.7 546.2,58 546.7,55.8 547.1,54.2 547.6,53 548.1,52.4 548.5,52.3 549,52.7 549.5,53.7 549.9,55.2 550.4,57.2 550.9,59.7 551.3,62.7 551.8,66.1 552.2,69.9 552.7,74.1 553.2,78.6 553.6,83.4 554.1,88.5 554.6,93.8 555,99.2 555.5,104.7 555.9,110.3 556.4,116 556.9,121.7 557.3,127.3 557.8,132.9 558.3,138.3 558.7,143.6 559.2,148.8 559.6,153.8 560.1,158.6 560.6,163.2 561,167.6 561.5,171.7 562,175.6 562.4,179.3 562.9,182.7 563.3,185.9 563.8,188.8 564.3,191.5 564.7,194 565.2,196.3 565.7,198.4 566.1,200.3 566.6,202 567,203.5 567.5,204.9 568,206.1 568.4,207.2 568.9,208.1 569.4,209 569.8,209.7 570.3,210.4 570.7,211 571.2,211.5 571.7,211.9 572.1,212.3 572.6,212.6 573.1,212.9 573.5,213.1 574,213.3 574.5,213.5 574.9,213.6 575.4,213.7 575.8,213.8 576.3,213.9 576.8,214 577.2,214 577.7,214.1 578.2,214.1 578.6,214.2 579.1,214.2 579.5,214.2 580,214.2 580.5,214.2 580.9,214.3 581.4,214.3 581.9,214.3 582.3,214.3 582.8,214.3 583.2,214.3 583.7,214.3 584.2,214.3 584.6,214.3 585.1,214.3 585.6,214.3 586,214.3 586.5,214.3 586.9,214.3 587.4,214.3 587.9,214.3 588.3,214.3 588.8,214.3 589.3,214.3 589.7,214.3 590.2,214.3 590.6,214.3 591.1,214.3 591.6,214.3 592,214.3 592.5,214.3 593,214.3 593.4,214.3 593.9,214.3 594.3,214.3 594.8,214.3 595.3,214.3 595.7,214.3 596.2,214.3 596.7,214.3 597.1,214.3 597.6,214.3 598.1,214.3 598.5,214.3 599,214.3 599.4,214.3 599.9,214.3 600.4,214.3 600.8,214.3 601.3,214.3 601.8,214.3 602.2,214.3 602.7,214.3 603.1,214.3 603.6,214.3 604.1,214.3 604.5,214.3" fill="none" stroke="#c58fd0" stroke-width="0.9"/>
<polyline points="493.5,214.3 493.9,214.3 494.4,214.3 494.9,214.3 495.3,214.3 495.8,214.3 496.2,214.3 496.7,214.3 497.2,214.3 497.6,214.3 498.1,214.3 498.6,214.3 499,214.3 499.5,214.3 499.9,214.3 500.4,214.3 500.9,214.3 501.3,214.3 501.8,214.3 502.3,214.3 502.7,214.3 503.2,214.3 503.7,214.3 504.1,214.3 504.6,214.3 505,214.3 505.5,214.3 506,214.3 506.4,214.3 506.9,214.3 507.4,214.3 507.8,214.3 508.3,214.3 508.7,214.3 509.2,214.3 509.7,214.3 510.1,214.3 510.6,214.3 511.1,214.2 511.5,214.2 512,214.2 512.4,214.2 512.9,214.2 513.4,214.2 513.8,214.1 514.3,214.1 514.8,214.1 515.2,214 515.7,214 516.1,213.9 516.6,213.8 517.1,213.8 517.5,213.7 518,213.6 518.5,213.4 518.9,213.3 519.4,213.1 519.8,213 520.3,212.7 520.8,212.5 521.2,212.2 521.7,211.9 522.2,211.6 522.6,211.2 523.1,210.7 523.5,210.2 524,209.7 524.5,209.1 524.9,208.4 525.4,207.6 525.9,206.8 526.3,205.8 526.8,204.8 527.3,203.7 527.7,202.5 528.2,201.2 528.6,199.7 529.1,198.2 529.6,196.5 530,194.7 530.5,192.7 531,190.6 531.4,188.4 531.9,186 532.3,183.5 532.8,180.8 533.3,178 533.7,175 534.2,171.9 534.7,168.7 535.1,165.3 535.6,161.8 536,158.2 536.5,154.4 537,150.6 537.4,146.7 537.9,142.7 538.4,138.7 538.8,134.6 539.3,130.4 539.7,126.3 540.2,122.2 540.7,118.1 541.1,114.1 541.6,110.2 542.1,106.3 542.5,102.6 543,99 543.4,95.6 543.9,92.3 544.4,89.3 544.8,86.5 545.3,83.9 545.8,81.6 546.2,79.6 546.7,77.8 547.1,76.4 547.6,75.2 548.1,74.4 548.5,73.9 549,73.8 549.5,73.9 549.9,74.4 550.4,75.2 550.9,76.4 551.3,77.8 551.8,79.6 552.2,81.6 552.7,83.9 553.2,86.5 553.6,89.3 554.1,92.3 554.6,95.6 555,99 555.5,102.6 555.9,106.3 556.4,110.2 556.9,114.1 557.3,118.1 557.8,122.2 558.3,126.3 558.7,130.4 559.2,134.6 559.6,138.7 560.1,142.7 560.6,146.7 561,150.6 561.5,154.4 562,158.2 562.4,161.8 562.9,165.3 563.3,168.7 563.8,171.9 564.3,175 564.7,178 565.2,180.8 565.7,183.5 566.1,186 566.6,188.4 567,190.6 567.5,192.7 568,194.7 568.4,196.5 568.9,198.2 569.4,199.7 569.8,201.2 570.3,202.5 570.7,203.7 571.2,204.8 571.7,205.8 572.1,206.8 572.6,207.6 573.1,208.4 573.5,209.1 574,209.7 574.5,210.2 574.9,210.7 575.4,211.2 575.8,211.6 576.3,211.9 576.8,212.2 577.2,212.5 577.7,212.7 578.2,213 578.6,213.1 579.1,213.3 579.5,213.4 580,213.6 580.5,213.7 580.9,213.8 581.4,213.8 581.9,213.9 582.3,214 582.8,214 583.2,214.1 583.7,214.1 584.2,214.1 584.6,214.2 585.1,214.2 585.6,214.2 586,214.2 586.5,214.2 586.9,214.2 587.4,214.3 587.9,214.3 588.3,214.3 588.8,214.3 589.3,214.3 589.7,214.3 590.2,214.3 590.6,214.3 591.1,214.3 591.6,214.3 592,214.3 592.5,214.3 593,214.3 593.4,214.3 593.9,214.3 594.3,214.3 594.8,214.3 595.3,214.3 595.7,214.3 596.2,214.3 596.7,214.3 597.1,214.3 597.6,214.3 598.1,214.3 598.5,214.3 599,214.3 599.4,214.3 599.9,214.3 600.4,214.3 600.8,214.3 601.3,214.3 601.8,214.3 602.2,214.3 602.7,214.3 603.1,214.3 603.6,214.3 604.1,214.3 604.5,214.3" fill="none" stroke="#8fc0e6" stroke-width="0.9"/>
<rect x="429" y="33.6" width="18.5" height="3.8" fill="#c08ccb" stroke="#333" stroke-width="0.7"/>
<rect x="429" y="50.4" width="18.5" height="3.8" fill="#cfe4f1" stroke="#333" stroke-width="0.7"/>
<text x="458.5" y="38.9" textLength="31.5" lengthAdjust="spacingAndGlyphs" style="font-size:10.8px;" letter-spacing="1">Cortex</text>
<text x="458.5" y="56.3" textLength="62" lengthAdjust="spacingAndGlyphs" style="font-size:10.8px;">Hippocampus</text>
<line x1="509" y1="8.5" x2="534.2" y2="8.5" stroke="#000" stroke-width="1.3"/>
<line x1="543.3" y1="8.5" x2="561.8" y2="8.5" stroke="#000" stroke-width="1.3"/>
<rect x="534.2" y="1.9" width="9.1" height="13.2" fill="#cfe4f1" stroke="#111" stroke-width="1.1"/>
<line x1="538.8" y1="1.9" x2="538.8" y2="15.1" stroke="#000" stroke-width="1.3"/>
<g fill="#f4f4f4" stroke="#2a2a2a" stroke-width="0.45"><circle cx="503" cy="8.9" r="1.1"/><circle cx="504.5" cy="9.7" r="1.1"/><circle cx="507.1" cy="2.5" r="1.1"/><circle cx="499.8" cy="10" r="1.1"/><circle cx="503.2" cy="6" r="1.1"/><circle cx="510.5" cy="8.2" r="1.1"/><circle cx="509" cy="8.2" r="1.1"/><circle cx="507.2" cy="3.7" r="1.1"/><circle cx="507.1" cy="13.6" r="1.1"/><circle cx="506.1" cy="11.6" r="1.1"/><circle cx="507.5" cy="2.6" r="1.1"/><circle cx="508.3" cy="9.6" r="1.1"/><circle cx="503.7" cy="3.7" r="1.1"/><circle cx="509.3" cy="8.2" r="1.1"/><circle cx="507.9" cy="13.4" r="1.1"/><circle cx="507.9" cy="14" r="1.1"/><circle cx="504.7" cy="11.9" r="1.1"/><circle cx="505.3" cy="13.8" r="1.1"/><circle cx="509.4" cy="4" r="1.1"/><circle cx="501.7" cy="6.4" r="1.1"/><circle cx="510.2" cy="7.8" r="1.1"/><circle cx="507.1" cy="5.7" r="1.1"/><circle cx="505.9" cy="7" r="1.1"/><circle cx="504.3" cy="9.4" r="1.1"/><circle cx="506.7" cy="14" r="1.1"/><circle cx="507.6" cy="14.2" r="1.1"/><circle cx="509.2" cy="14.1" r="1.1"/><circle cx="507.5" cy="4" r="1.1"/><circle cx="509.3" cy="13.8" r="1.1"/><circle cx="509.7" cy="9.3" r="1.1"/><circle cx="507.9" cy="4.7" r="1.1"/><circle cx="509" cy="9.4" r="1.1"/><circle cx="503.5" cy="4.2" r="1.1"/><circle cx="509.2" cy="14.1" r="1.1"/><circle cx="501.1" cy="10.5" r="1.1"/><circle cx="504.9" cy="4.4" r="1.1"/><circle cx="503.6" cy="11.2" r="1.1"/><circle cx="509.4" cy="3.4" r="1.1"/><circle cx="507" cy="2.1" r="1.1"/><circle cx="507.9" cy="6.3" r="1.1"/><circle cx="509.4" cy="13.9" r="1.1"/><circle cx="505.9" cy="14.9" r="1.1"/><circle cx="503.8" cy="4.1" r="1.1"/><circle cx="506.8" cy="2" r="1.1"/><circle cx="502.5" cy="7.7" r="1.1"/><circle cx="566.3" cy="3.7" r="1.1"/><circle cx="574.6" cy="10.5" r="1.1"/><circle cx="570.2" cy="13.3" r="1.1"/><circle cx="563" cy="7.2" r="1.1"/><circle cx="568.2" cy="8.7" r="1.1"/><circle cx="565.9" cy="9.8" r="1.1"/><circle cx="567" cy="10.1" r="1.1"/><circle cx="562.5" cy="8.6" r="1.1"/><circle cx="568.6" cy="11.1" r="1.1"/><circle cx="571.3" cy="6.7" r="1.1"/><circle cx="562" cy="8.7" r="1.1"/><circle cx="567.1" cy="2" r="1.1"/><circle cx="568.8" cy="9.4" r="1.1"/><circle cx="575.1" cy="9" r="1.1"/><circle cx="566.1" cy="2.4" r="1.1"/><circle cx="566.1" cy="8" r="1.1"/><circle cx="565.5" cy="6.5" r="1.1"/><circle cx="565.2" cy="11.6" r="1.1"/><circle cx="575" cy="6.4" r="1.1"/><circle cx="565.5" cy="14.7" r="1.1"/><circle cx="571.1" cy="8.1" r="1.1"/><circle cx="566.6" cy="6" r="1.1"/><circle cx="569.5" cy="6.4" r="1.1"/><circle cx="569.4" cy="9.6" r="1.1"/><circle cx="570.4" cy="7.2" r="1.1"/><circle cx="564.4" cy="2.7" r="1.1"/><circle cx="566.8" cy="11.7" r="1.1"/><circle cx="570.3" cy="5.6" r="1.1"/><circle cx="564" cy="5.4" r="1.1"/><circle cx="572.1" cy="8" r="1.1"/><circle cx="565.3" cy="3.3" r="1.1"/><circle cx="570.1" cy="6.8" r="1.1"/><circle cx="563.7" cy="7.8" r="1.1"/><circle cx="563.4" cy="4.7" r="1.1"/><circle cx="569.9" cy="10.1" r="1.1"/><circle cx="563.1" cy="8" r="1.1"/><circle cx="571.5" cy="5.1" r="1.1"/><circle cx="567.3" cy="4.5" r="1.1"/><circle cx="564" cy="12.6" r="1.1"/><circle cx="572.1" cy="6.6" r="1.1"/><circle cx="564" cy="10.2" r="1.1"/><circle cx="564" cy="6.6" r="1.1"/><circle cx="573" cy="7" r="1.1"/><circle cx="564.1" cy="5.7" r="1.1"/><circle cx="569.7" cy="7.6" r="1.1"/><circle cx="466" cy="8.5" r="1.1"/><circle cx="475.8" cy="8.5" r="1.1"/><circle cx="482.7" cy="8.5" r="1.1"/><circle cx="486.9" cy="8.5" r="1.1"/><circle cx="492" cy="8.5" r="1.1"/><circle cx="495" cy="8.5" r="1.1"/><circle cx="580" cy="8.5" r="1.1"/><circle cx="588" cy="8.5" r="1.1"/><circle cx="596.5" cy="8.5" r="1.1"/><circle cx="606.2" cy="8.5" r="1.1"/></g>
<line x1="521.6" y1="31.9" x2="536" y2="31.9" stroke="#000" stroke-width="1.3"/>
<line x1="543.3" y1="31.9" x2="559.9" y2="31.9" stroke="#000" stroke-width="1.3"/>
<rect x="536" y="25.3" width="7.3" height="13.2" fill="#c08ccb" stroke="#111" stroke-width="1.1"/>
<line x1="539.6" y1="25.3" x2="539.6" y2="38.5" stroke="#000" stroke-width="1.3"/>
<g fill="#a06aa8" stroke="#2a2a2a" stroke-width="0.45"><circle cx="519" cy="35.3" r="1.1"/><circle cx="520.2" cy="37.3" r="1.1"/><circle cx="519.8" cy="37.3" r="1.1"/><circle cx="513.8" cy="31.7" r="1.1"/><circle cx="521.2" cy="33.5" r="1.1"/><circle cx="520.9" cy="27.7" r="1.1"/><circle cx="517.8" cy="28.8" r="1.1"/><circle cx="518.4" cy="32.9" r="1.1"/><circle cx="513.6" cy="30.7" r="1.1"/><circle cx="516.3" cy="36" r="1.1"/><circle cx="520" cy="27.7" r="1.1"/><circle cx="520.2" cy="27.5" r="1.1"/><circle cx="518.9" cy="26.7" r="1.1"/><circle cx="513.4" cy="33.3" r="1.1"/><circle cx="515.7" cy="29.4" r="1.1"/><circle cx="521.5" cy="35.6" r="1.1"/><circle cx="516.4" cy="36.5" r="1.1"/><circle cx="518.4" cy="34.2" r="1.1"/><circle cx="515.6" cy="35.7" r="1.1"/><circle cx="519.5" cy="38.1" r="1.1"/><circle cx="520.9" cy="29.7" r="1.1"/><circle cx="517" cy="28.2" r="1.1"/><circle cx="515.1" cy="28.6" r="1.1"/><circle cx="516.5" cy="33" r="1.1"/><circle cx="513.4" cy="32.6" r="1.1"/><circle cx="516.8" cy="29.9" r="1.1"/><circle cx="520.4" cy="31.7" r="1.1"/><circle cx="516.6" cy="31.7" r="1.1"/><circle cx="519.6" cy="26.1" r="1.1"/><circle cx="521.4" cy="27.1" r="1.1"/><circle cx="519.9" cy="36.2" r="1.1"/><circle cx="513.6" cy="33.2" r="1.1"/><circle cx="517" cy="32.8" r="1.1"/><circle cx="513.5" cy="30" r="1.1"/><circle cx="515.4" cy="35.7" r="1.1"/><circle cx="515.6" cy="34.1" r="1.1"/><circle cx="521.1" cy="36.6" r="1.1"/><circle cx="516.8" cy="30.3" r="1.1"/><circle cx="518.3" cy="35.5" r="1.1"/><circle cx="514.7" cy="33.6" r="1.1"/><circle cx="520.2" cy="36.3" r="1.1"/><circle cx="513.9" cy="34.2" r="1.1"/><circle cx="514.5" cy="30.9" r="1.1"/><circle cx="518.9" cy="37.7" r="1.1"/><circle cx="516.8" cy="36.5" r="1.1"/><circle cx="518.4" cy="29.4" r="1.1"/><circle cx="516.6" cy="28.5" r="1.1"/><circle cx="514.4" cy="29.7" r="1.1"/><circle cx="519.5" cy="38.5" r="1.1"/><circle cx="515.2" cy="28.3" r="1.1"/><circle cx="560" cy="32.2" r="1.1"/><circle cx="564.4" cy="28.9" r="1.1"/><circle cx="562.9" cy="36.4" r="1.1"/><circle cx="564" cy="30.9" r="1.1"/><circle cx="567.8" cy="34.3" r="1.1"/><circle cx="568.1" cy="31.9" r="1.1"/><circle cx="561.1" cy="27.6" r="1.1"/><circle cx="561.8" cy="37.7" r="1.1"/><circle cx="562.6" cy="35.9" r="1.1"/><circle cx="567.2" cy="31.4" r="1.1"/><circle cx="566.8" cy="34.6" r="1.1"/><circle cx="565.4" cy="31.4" r="1.1"/><circle cx="559.9" cy="35.4" r="1.1"/><circle cx="560.1" cy="31.4" r="1.1"/><circle cx="563.7" cy="34.8" r="1.1"/><circle cx="563.8" cy="29.3" r="1.1"/><circle cx="564.4" cy="27.8" r="1.1"/><circle cx="564.7" cy="37.4" r="1.1"/><circle cx="560.2" cy="33.2" r="1.1"/><circle cx="563.7" cy="29.8" r="1.1"/><circle cx="567.4" cy="30.4" r="1.1"/><circle cx="561.5" cy="36.4" r="1.1"/><circle cx="564.8" cy="35" r="1.1"/><circle cx="561.5" cy="34.3" r="1.1"/><circle cx="562.4" cy="35.4" r="1.1"/><circle cx="564.8" cy="34.2" r="1.1"/><circle cx="565.5" cy="31.8" r="1.1"/><circle cx="561.6" cy="34.3" r="1.1"/><circle cx="565.4" cy="36.4" r="1.1"/><circle cx="562.5" cy="33" r="1.1"/><circle cx="568.5" cy="32.1" r="1.1"/><circle cx="565.8" cy="33.5" r="1.1"/><circle cx="563.9" cy="35.8" r="1.1"/><circle cx="562.5" cy="36" r="1.1"/><circle cx="564.9" cy="33.5" r="1.1"/><circle cx="561.8" cy="36.1" r="1.1"/><circle cx="564.9" cy="35.6" r="1.1"/><circle cx="560.8" cy="34" r="1.1"/><circle cx="560.1" cy="36.5" r="1.1"/><circle cx="563.5" cy="32.3" r="1.1"/><circle cx="566.6" cy="34.6" r="1.1"/><circle cx="560.3" cy="31.7" r="1.1"/><circle cx="562.1" cy="34.8" r="1.1"/><circle cx="561.9" cy="27.7" r="1.1"/><circle cx="561.5" cy="32.9" r="1.1"/><circle cx="562.3" cy="30.8" r="1.1"/><circle cx="562.7" cy="35.7" r="1.1"/><circle cx="562.6" cy="34.9" r="1.1"/><circle cx="568.2" cy="30.2" r="1.1"/><circle cx="564.1" cy="33.7" r="1.1"/><circle cx="495.2" cy="31.9" r="1.1"/><circle cx="500.8" cy="31.9" r="1.1"/><circle cx="503.5" cy="31.9" r="1.1"/><circle cx="506" cy="31.9" r="1.1"/><circle cx="508.5" cy="31.9" r="1.1"/><circle cx="511.5" cy="31.9" r="1.1"/><circle cx="578.4" cy="31.9" r="1.1"/><circle cx="583.2" cy="31.9" r="1.1"/><circle cx="589.5" cy="31.9" r="1.1"/><circle cx="591.5" cy="31.9" r="1.1"/></g>
<line x1="615.3" y1="4.2" x2="615.3" y2="35.8" stroke="#000" stroke-width="1.5"/>
<line x1="611.5" y1="4.9" x2="615.3" y2="4.9" stroke="#000" stroke-width="1.5"/>
<line x1="611.5" y1="35.1" x2="615.3" y2="35.1" stroke="#000" stroke-width="1.5"/>
<text x="621.2" y="25.5" textLength="14.8" lengthAdjust="spacingAndGlyphs" style="font-size:11.5px;">***</text>
<text x="15" y="290.9" style="font-size:21px;">c</text>
<text x="40.5" y="307.2" textLength="155" lengthAdjust="spacingAndGlyphs" style="font-size:12.6px;">Significant proteome overlap</text>
<text x="62.6" y="328.9" textLength="67.2" lengthAdjust="spacingAndGlyphs" style="font-size:11.3px;">Hippocampus</text>
<circle cx="94.6" cy="401.1" r="68.8" fill="#a8c2e6"/>
<circle cx="194" cy="401.5" r="48.1" fill="#d8a0cf"/>
<clipPath id="cl1"><circle cx="94.6" cy="401.1" r="68.8"/></clipPath>
<circle cx="194" cy="401.5" r="48.1" fill="#fff" clip-path="url(#cl1)"/>
<circle cx="94.6" cy="401.1" r="68.8" fill="none" stroke="#1c2233" stroke-width="1.3"/>
<circle cx="194" cy="401.5" r="48.1" fill="none" stroke="#1c2233" stroke-width="1.3"/>
<text x="93.6" y="406" text-anchor="middle" textLength="20" lengthAdjust="spacingAndGlyphs" style="font-size:13.5px;">180</text>
<text x="155.3" y="406" text-anchor="middle" textLength="12.5" lengthAdjust="spacingAndGlyphs" style="font-size:13.5px;">13</text>
<text x="198" y="408.8" text-anchor="middle" textLength="14" lengthAdjust="spacingAndGlyphs" style="font-size:13.5px;">98</text>
<text x="176.4" y="460.5" textLength="33.3" lengthAdjust="spacingAndGlyphs" style="font-size:11.3px;">Cortex</text>
<rect x="252.2" y="303.9" width="54.1" height="16.2" fill="#f7f7f8"/>
<rect x="305.7" y="303.9" width="53.3" height="16.2" fill="#ffffff"/>
<rect x="252.2" y="319.5" width="54.1" height="16.2" fill="#eef4fa"/>
<rect x="305.7" y="319.5" width="53.3" height="16.2" fill="#dcd5ec"/>
<rect x="252.2" y="335" width="54.1" height="16.2" fill="#ece6ef"/>
<rect x="305.7" y="335" width="53.3" height="16.2" fill="#ece6ef"/>
<rect x="252.2" y="350.6" width="54.1" height="16.2" fill="#dbd3eb"/>
<rect x="305.7" y="350.6" width="53.3" height="16.2" fill="#c9d4ec"/>
<rect x="252.2" y="366.1" width="54.1" height="16.2" fill="#d7e7f4"/>
<rect x="305.7" y="366.1" width="53.3" height="16.2" fill="#d7e7f4"/>
<rect x="252.2" y="381.7" width="54.1" height="16.2" fill="#ece6ef"/>
<rect x="305.7" y="381.7" width="53.3" height="16.2" fill="#dcd5ec"/>
<rect x="252.2" y="397.3" width="54.1" height="16.2" fill="#f7f7f8"/>
<rect x="305.7" y="397.3" width="53.3" height="16.2" fill="#f7f7f8"/>
<rect x="252.2" y="412.8" width="54.1" height="16.2" fill="#aa95cc"/>
<rect x="305.7" y="412.8" width="53.3" height="16.2" fill="#9f85c4"/>
<rect x="252.2" y="428.4" width="54.1" height="16.2" fill="#d7e7f4"/>
<rect x="305.7" y="428.4" width="53.3" height="16.2" fill="#d7e7f4"/>
<rect x="252.2" y="443.9" width="54.1" height="16.2" fill="#d7e7f4"/>
<rect x="305.7" y="443.9" width="53.3" height="16.2" fill="#d7e7f4"/>
<rect x="252.2" y="459.5" width="54.1" height="16.2" fill="#b5d0eb"/>
<rect x="305.7" y="459.5" width="53.3" height="16.2" fill="#ece6ef"/>
<rect x="252.2" y="475.1" width="54.1" height="16.2" fill="#cbd5ec"/>
<rect x="305.7" y="475.1" width="53.3" height="16.2" fill="#d7e7f4"/>
<rect x="252.2" y="490.6" width="54.1" height="16.2" fill="#cbd5ec"/>
<rect x="305.7" y="490.6" width="53.3" height="16.2" fill="#b5d0eb"/>
<text x="361.1" y="315" textLength="13.4" lengthAdjust="spacingAndGlyphs" style="font-size:10.2px;font-weight:normal;" stroke="#000" stroke-width="0.35">Farsb</text>
<text x="361.1" y="330.5" textLength="16.2" lengthAdjust="spacingAndGlyphs" style="font-size:10.2px;font-weight:normal;" stroke="#000" stroke-width="0.35">Lypla2</text>
<text x="361.1" y="346.1" textLength="9.7" lengthAdjust="spacingAndGlyphs" style="font-size:10.2px;font-weight:normal;" stroke="#000" stroke-width="0.35">Ppif</text>
<text x="361.1" y="361.7" textLength="16.7" lengthAdjust="spacingAndGlyphs" style="font-size:10.2px;font-weight:normal;" stroke="#000" stroke-width="0.35">Scepdh</text>
<text x="361.1" y="377.2" textLength="14.9" lengthAdjust="spacingAndGlyphs" style="font-size:10.2px;font-weight:normal;" stroke="#000" stroke-width="0.35">Slc8a2</text>
<text x="361.1" y="392.8" textLength="15.9" lengthAdjust="spacingAndGlyphs" style="font-size:10.2px;font-weight:normal;" stroke="#000" stroke-width="0.35">Micsl3</text>
<text x="361.1" y="408.3" textLength="14.9" lengthAdjust="spacingAndGlyphs" style="font-size:10.2px;font-weight:normal;" stroke="#000" stroke-width="0.35">Pakap</text>
<text x="361.1" y="423.9" textLength="9.4" lengthAdjust="spacingAndGlyphs" style="font-size:10.2px;font-weight:normal;" stroke="#000" stroke-width="0.35">Ca4</text>
<text x="361.1" y="439.5" textLength="12" lengthAdjust="spacingAndGlyphs" style="font-size:10.2px;font-weight:normal;" stroke="#000" stroke-width="0.35">Hpca</text>
<text x="361.1" y="455" textLength="13.8" lengthAdjust="spacingAndGlyphs" style="font-size:10.2px;font-weight:normal;" stroke="#000" stroke-width="0.35">Prkcb</text>
<text x="361.1" y="470.6" textLength="15" lengthAdjust="spacingAndGlyphs" style="font-size:10.2px;font-weight:normal;" stroke="#000" stroke-width="0.35">Ephb2</text>
<text x="361.1" y="486.1" textLength="13.2" lengthAdjust="spacingAndGlyphs" style="font-size:10.2px;font-weight:normal;" stroke="#000" stroke-width="0.35">Gria2</text>
<text x="361.1" y="501.7" textLength="20.6" lengthAdjust="spacingAndGlyphs" style="font-size:10.2px;font-weight:normal;" stroke="#000" stroke-width="0.35">Ankrd63</text>
<text x="261.7" y="296.8" textLength="34.5" lengthAdjust="spacingAndGlyphs" style="font-size:10.2px;font-weight:normal;" stroke="#000" stroke-width="0.25">Hippocampus</text>
<text x="323.8" y="296.8" textLength="17" lengthAdjust="spacingAndGlyphs" style="font-size:10.2px;font-weight:normal;" stroke="#000" stroke-width="0.25">Cortex</text>
<linearGradient id="hg" x1="0" x2="1" y1="0" y2="0"><stop offset="0" stop-color="#7549ad"/><stop offset="0.25" stop-color="#b4a0d2"/><stop offset="0.42" stop-color="#eee8f4"/><stop offset="0.5" stop-color="#ffffff"/><stop offset="0.58" stop-color="#e6eff8"/><stop offset="0.75" stop-color="#9dbde3"/><stop offset="1" stop-color="#4468b3"/></linearGradient>
<rect x="279.2" y="512.9" width="52.5" height="23.6" fill="url(#hg)"/>
<line x1="279.2" y1="536.8" x2="331.7" y2="536.8" stroke="#999" stroke-width="0.8"/>
<line x1="279.5" y1="536.8" x2="279.5" y2="539.5" stroke="#777" stroke-width="0.6"/>
<text x="279.5" y="552.3" text-anchor="middle" textLength="5.3" lengthAdjust="spacingAndGlyphs" style="font-size:9.8px;font-weight:normal;" stroke="#000" stroke-width="0.4">1.0</text>
<line x1="292.5" y1="536.8" x2="292.5" y2="539.5" stroke="#777" stroke-width="0.6"/>
<text x="292.5" y="552.3" text-anchor="middle" textLength="8.5" lengthAdjust="spacingAndGlyphs" style="font-size:9.8px;font-weight:normal;" stroke="#000" stroke-width="0.4">0.50</text>
<line x1="305.5" y1="536.8" x2="305.5" y2="539.5" stroke="#777" stroke-width="0.6"/>
<text x="305.5" y="552.3" text-anchor="middle" textLength="6.7" lengthAdjust="spacingAndGlyphs" style="font-size:9.8px;font-weight:normal;" stroke="#000" stroke-width="0.4">0.0</text>
<line x1="318.4" y1="536.8" x2="318.4" y2="539.5" stroke="#777" stroke-width="0.6"/>
<text x="318.4" y="552.3" text-anchor="middle" textLength="10.1" lengthAdjust="spacingAndGlyphs" style="font-size:9.8px;font-weight:normal;" stroke="#000" stroke-width="0.4">-0.50</text>
<line x1="331.4" y1="536.8" x2="331.4" y2="539.5" stroke="#777" stroke-width="0.6"/>
<text x="331.4" y="552.3" text-anchor="middle" textLength="8.1" lengthAdjust="spacingAndGlyphs" style="font-size:9.8px;font-weight:normal;" stroke="#000" stroke-width="0.4">-1.0</text>
<text x="281.8" y="570" style="font-size:12px;font-weight:normal" stroke="#000" stroke-width="0.4" textLength="56.5" lengthAdjust="spacingAndGlyphs">log<tspan style="font-size:8.5px" dy="1.8">2</tspan><tspan dy="-1.8">(ATase2 vs. WT)</tspan></text>
<text x="391.8" y="287.1" style="font-size:21px;">d</text>
<text x="474.8" y="286" textLength="77.6" lengthAdjust="spacingAndGlyphs" style="font-size:10.5px;">KEGG Pathways</text>
<rect x="428.7" y="296.7" width="129" height="9.2" fill="#cfe2f3"/>
<line x1="423.2" y1="301.3" x2="427.7" y2="301.3" stroke="#000" stroke-width="2"/>
<text x="430.5" y="304.7" style="font-size:9.3px;">Bacterial invasion of epithelial cells</text>
<rect x="428.7" y="310.1" width="64" height="9.2" fill="#cfe2f3"/>
<line x1="423.2" y1="314.7" x2="427.7" y2="314.7" stroke="#000" stroke-width="2"/>
<text x="430.5" y="318.1" style="font-size:9.3px;">Salmonella infection</text>
<rect x="428.7" y="323.5" width="99.7" height="9.2" fill="#cfe2f3"/>
<line x1="423.2" y1="328.1" x2="427.7" y2="328.1" stroke="#000" stroke-width="2"/>
<text x="430.5" y="331.5" style="font-size:9.3px;">Glutamatergic synapse</text>
<rect x="428.7" y="336.9" width="76.8" height="9.2" fill="#cfe2f3"/>
<line x1="423.2" y1="341.5" x2="427.7" y2="341.5" stroke="#000" stroke-width="2"/>
<text x="430.5" y="344.9" style="font-size:9.3px;">Tight junction</text>
<rect x="428.7" y="350.3" width="84" height="9.2" fill="#cfe2f3"/>
<line x1="423.2" y1="354.9" x2="427.7" y2="354.9" stroke="#000" stroke-width="2"/>
<text x="430.5" y="358.3" style="font-size:9.3px;">Yersinia infection</text>
<rect x="428.7" y="363.8" width="104.7" height="9.2" fill="#cfe2f3"/>
<line x1="423.2" y1="368.4" x2="427.7" y2="368.4" stroke="#000" stroke-width="2"/>
<text x="430.5" y="371.8" style="font-size:9.3px;">Fc gamma R-mediated phagocytosis</text>
<rect x="428.7" y="377.2" width="99" height="9.2" fill="#cfe2f3"/>
<line x1="423.2" y1="381.8" x2="427.7" y2="381.8" stroke="#000" stroke-width="2"/>
<text x="430.5" y="385.2" style="font-size:9.3px;">Glycerophospholipid metabolism</text>
<rect x="428.7" y="390.6" width="99" height="9.2" fill="#cfe2f3"/>
<line x1="423.2" y1="395.2" x2="427.7" y2="395.2" stroke="#000" stroke-width="2"/>
<text x="430.5" y="398.6" style="font-size:9.3px;">Circadian entrainment</text>
<line x1="427.7" y1="292" x2="427.7" y2="405" stroke="#000" stroke-width="2"/>
<line x1="426.7" y1="404.2" x2="595.4" y2="404.2" stroke="#000" stroke-width="2"/>
<line x1="427.7" y1="404.2" x2="427.7" y2="408.5" stroke="#000" stroke-width="1.5"/>
<text x="427.7" y="417.5" text-anchor="middle" style="font-size:9.5px;">0</text>
<line x1="461" y1="404.2" x2="461" y2="408.5" stroke="#000" stroke-width="1.5"/>
<text x="461" y="417.5" text-anchor="middle" style="font-size:9.5px;">2</text>
<line x1="494.4" y1="404.2" x2="494.4" y2="408.5" stroke="#000" stroke-width="1.5"/>
<text x="494.4" y="417.5" text-anchor="middle" style="font-size:9.5px;">4</text>
<line x1="527.7" y1="404.2" x2="527.7" y2="408.5" stroke="#000" stroke-width="1.5"/>
<text x="527.7" y="417.5" text-anchor="middle" style="font-size:9.5px;">6</text>
<line x1="561.1" y1="404.2" x2="561.1" y2="408.5" stroke="#000" stroke-width="1.5"/>
<text x="561.1" y="417.5" text-anchor="middle" style="font-size:9.5px;">8</text>
<line x1="594.4" y1="404.2" x2="594.4" y2="408.5" stroke="#000" stroke-width="1.5"/>
<text x="594.4" y="417.5" text-anchor="middle" style="font-size:9.5px;">10</text>
<text x="578.2" y="305.8" textLength="61.6" lengthAdjust="spacingAndGlyphs" style="font-size:10.4px;">Hippocampus</text>
<rect x="428.5" y="440.1" width="147.7" height="9.6" fill="#e6cfe7"/>
<line x1="423" y1="444.9" x2="427.5" y2="444.9" stroke="#000" stroke-width="2"/>
<text x="431.1" y="448.4" style="font-size:9.8px;">Dopaminergic synapse</text>
<rect x="428.5" y="454.3" width="162.4" height="9.6" fill="#e6cfe7"/>
<line x1="423" y1="459.1" x2="427.5" y2="459.1" stroke="#000" stroke-width="2"/>
<text x="431.1" y="462.6" style="font-size:9.8px;">Circadian entrainment</text>
<rect x="428.5" y="468.4" width="121.2" height="9.6" fill="#e6cfe7"/>
<line x1="423" y1="473.2" x2="427.5" y2="473.2" stroke="#000" stroke-width="2"/>
<text x="431.1" y="476.7" style="font-size:9.8px;">Retrograde endocannabinoid signaling</text>
<rect x="428.5" y="482.6" width="139.6" height="9.6" fill="#e6cfe7"/>
<line x1="423" y1="487.4" x2="427.5" y2="487.4" stroke="#000" stroke-width="2"/>
<text x="431.1" y="490.9" style="font-size:9.8px;">Glutamatergic synapse</text>
<rect x="428.5" y="496.8" width="152.8" height="9.6" fill="#e6cfe7"/>
<line x1="423" y1="501.6" x2="427.5" y2="501.6" stroke="#000" stroke-width="2"/>
<text x="431.1" y="505.1" style="font-size:9.8px;">Morphine addiction</text>
<rect x="428.5" y="510.9" width="172.7" height="9.6" fill="#e6cfe7"/>
<line x1="423" y1="515.8" x2="427.5" y2="515.8" stroke="#000" stroke-width="2"/>
<text x="431.1" y="519.2" style="font-size:9.8px;">Amphetamine addiction</text>
<rect x="428.5" y="525.1" width="124.1" height="9.6" fill="#e6cfe7"/>
<line x1="423" y1="529.9" x2="427.5" y2="529.9" stroke="#000" stroke-width="2"/>
<text x="431.1" y="533.4" style="font-size:9.8px;">Cholinergic synapse</text>
<rect x="428.5" y="539.3" width="102" height="9.6" fill="#e6cfe7"/>
<line x1="423" y1="544.1" x2="427.5" y2="544.1" stroke="#000" stroke-width="2"/>
<text x="431.1" y="547.6" style="font-size:9.8px;">Apelin signaling pathway</text>
<line x1="427.5" y1="435" x2="427.5" y2="553.5" stroke="#000" stroke-width="2"/>
<line x1="426.5" y1="552.7" x2="605.1" y2="552.7" stroke="#000" stroke-width="2"/>
<line x1="427.5" y1="552.7" x2="427.5" y2="557" stroke="#000" stroke-width="1.5"/>
<text x="427.5" y="569.8" text-anchor="middle" style="font-size:9.5px;">0</text>
<line x1="456.9" y1="552.7" x2="456.9" y2="557" stroke="#000" stroke-width="1.5"/>
<text x="456.9" y="569.8" text-anchor="middle" style="font-size:9.5px;">2</text>
<line x1="486.4" y1="552.7" x2="486.4" y2="557" stroke="#000" stroke-width="1.5"/>
<text x="486.4" y="569.8" text-anchor="middle" style="font-size:9.5px;">4</text>
<line x1="515.8" y1="552.7" x2="515.8" y2="557" stroke="#000" stroke-width="1.5"/>
<text x="515.8" y="569.8" text-anchor="middle" style="font-size:9.5px;">6</text>
<line x1="545.3" y1="552.7" x2="545.3" y2="557" stroke="#000" stroke-width="1.5"/>
<text x="545.3" y="569.8" text-anchor="middle" style="font-size:9.5px;">8</text>
<line x1="574.7" y1="552.7" x2="574.7" y2="557" stroke="#000" stroke-width="1.5"/>
<text x="574.7" y="569.8" text-anchor="middle" style="font-size:9.5px;">10</text>
<line x1="604.1" y1="552.7" x2="604.1" y2="557" stroke="#000" stroke-width="1.5"/>
<text x="604.1" y="569.8" text-anchor="middle" style="font-size:9.5px;">12</text>
<text x="593.3" y="449" textLength="32.7" lengthAdjust="spacingAndGlyphs" style="font-size:11.1px;">Cortex</text>
<text x="479.9" y="582.8" textLength="72.9" lengthAdjust="spacingAndGlyphs" style="font-size:10.3px;">Fold enrichment</text>
<text x="24.2" y="591" style="font-size:21px;">e</text>
<text x="102.9" y="604.8" textLength="42.9" lengthAdjust="spacingAndGlyphs" style="font-size:16.5px;">Cortex</text>
<text x="423.9" y="608.2" textLength="87.4" lengthAdjust="spacingAndGlyphs" style="font-size:16.3px;">Hippocampus</text>
<path d="M139.4 622.4C132.8 710.3 93.9 753.6 9.7 766.6M139.4 622.4C132.8 710.3 116.6 713 85.4 631.2M139.4 622.4C132.8 710.3 111.7 715.3 69.1 639.1M139.4 622.4C132.8 710.3 156.9 773.6 219.7 833.2M139.4 622.4C132.8 710.3 103.3 773.6 41 833.2M139.4 622.4C132.8 710.3 152.8 777.4 206 846M139.4 622.4C132.8 710.3 121.8 784.8 102.6 870.6M139.4 622.4C132.8 710.3 127.5 785.6 121.5 873.4M139.4 622.4C132.8 710.3 116.6 783.1 85.4 865" fill="none" stroke="#6BB100" stroke-width="0.65" stroke-opacity="0.75"/>
<path d="M157.2 625.6C138.2 711.3 156.9 773.6 219.7 833.2M157.2 625.6C138.2 711.3 127.5 785.6 121.5 873.4M157.2 625.6C138.2 711.3 143.3 783 174.2 864.8M157.2 625.6C138.2 711.3 127.3 710.4 120.9 622.5M157.2 625.6C138.2 711.3 132.8 785.6 139.3 873.4M157.2 625.6C138.2 711.3 95 759 13.3 784.6M157.2 625.6C138.2 711.3 99.8 726.9 29.4 677.7M157.2 625.6C138.2 711.3 107.2 718.5 53.9 649.6" fill="none" stroke="#00BCD8" stroke-width="0.65" stroke-opacity="0.75"/>
<path d="M174.6 631.1C143.4 712.9 148.2 780.6 190.8 856.8M174.6 631.1C143.4 712.9 127.5 785.6 121.5 873.4M174.6 631.1C143.4 712.9 116.6 783.1 85.4 865M174.6 631.1C143.4 712.9 94.9 736.9 13.1 711.1M174.6 631.1C143.4 712.9 93.5 747.9 8.3 747.7M174.6 631.1C143.4 712.9 138.2 784.8 157.3 870.6M174.6 631.1C143.4 712.9 152.8 777.4 206 846M174.6 631.1C143.4 712.9 121.8 784.8 102.6 870.6M174.6 631.1C143.4 712.9 103.3 773.6 41 833.2" fill="none" stroke="#00C0AF" stroke-width="0.65" stroke-opacity="0.75"/>
<path d="M190.7 639C148.2 715.3 94.9 736.9 13.1 711.1M190.7 639C148.2 715.3 111.8 780.6 69.3 856.8M190.7 639C148.2 715.3 95 759 13.3 784.6M190.7 639C148.2 715.3 99.8 726.9 29.4 677.7M190.7 639C148.2 715.3 156.9 773.6 219.7 833.2M190.7 639C148.2 715.3 121.8 784.8 102.6 870.6M190.7 639C148.2 715.3 127.5 785.6 121.5 873.4M190.7 639C148.2 715.3 138.2 784.8 157.3 870.6M190.7 639C148.2 715.3 132.8 785.6 139.3 873.4M190.7 639C148.2 715.3 143.3 783 174.2 864.8M190.7 639C148.2 715.3 97 764.3 20 802.4M190.7 639C148.2 715.3 93.5 747.9 8.3 747.7M190.7 639C148.2 715.3 148.2 780.6 190.8 856.8M190.7 639C148.2 715.3 121.9 711.3 103 625.7" fill="none" stroke="#00B0F6" stroke-width="0.65" stroke-opacity="0.75"/>
<path d="M206.1 649.7C152.8 718.5 99.8 726.9 29.4 677.7M206.1 649.7C152.8 718.5 111.7 715.3 69.1 639.1M206.1 649.7C152.8 718.5 156.9 773.6 219.7 833.2M206.1 649.7C152.8 718.5 111.8 780.6 69.3 856.8M206.1 649.7C152.8 718.5 152.8 777.4 206 846M206.1 649.7C152.8 718.5 132.8 785.6 139.3 873.4M206.1 649.7C152.8 718.5 97.2 731.6 20.5 693.5M206.1 649.7C152.8 718.5 121.8 784.8 102.6 870.6M206.1 649.7C152.8 718.5 116.6 783.1 85.4 865" fill="none" stroke="#E76BF3" stroke-width="0.65" stroke-opacity="0.75"/>
<path d="M219.3 662.6C156.8 722.4 99.8 726.9 29.4 677.7M219.3 662.6C156.8 722.4 103.3 773.6 41 833.2M219.3 662.6C156.8 722.4 148.2 780.6 190.8 856.8M219.3 662.6C156.8 722.4 97.2 731.6 20.5 693.5M219.3 662.6C156.8 722.4 93.9 753.6 9.7 766.6M219.3 662.6C156.8 722.4 156.9 773.6 219.7 833.2M219.3 662.6C156.8 722.4 95 759 13.3 784.6M219.3 662.6C156.8 722.4 132.8 785.6 139.3 873.4M219.3 662.6C156.8 722.4 107.2 777.5 54 846.2M219.3 662.6C156.8 722.4 121.8 784.8 102.6 870.6M219.3 662.6C156.8 722.4 93.9 742.3 9.7 728.9M219.3 662.6C156.8 722.4 93.5 747.9 8.3 747.7" fill="none" stroke="#B983FF" stroke-width="0.65" stroke-opacity="0.75"/>
<path d="M230.9 677C160.3 726.7 111.7 715.3 69.1 639.1M230.9 677C160.3 726.7 132.8 785.6 139.3 873.4M230.9 677C160.3 726.7 156.9 773.6 219.7 833.2M230.9 677C160.3 726.7 99.8 726.9 29.4 677.7M230.9 677C160.3 726.7 121.8 784.8 102.6 870.6M230.9 677C160.3 726.7 94.9 736.9 13.1 711.1M230.9 677C160.3 726.7 93.5 747.9 8.3 747.7M230.9 677C160.3 726.7 116.6 783.1 85.4 865M230.9 677C160.3 726.7 93.9 753.6 9.7 766.6M230.9 677C160.3 726.7 138.2 784.8 157.3 870.6" fill="none" stroke="#F8766D" stroke-width="0.65" stroke-opacity="0.75"/>
<path d="M239.9 693.6C163 731.7 111.8 780.6 69.3 856.8M239.9 693.6C163 731.7 143.3 783 174.2 864.8M239.9 693.6C163 731.7 103.3 773.6 41 833.2M239.9 693.6C163 731.7 97.2 731.6 20.5 693.5M239.9 693.6C163 731.7 99.8 726.9 29.4 677.7M239.9 693.6C163 731.7 156.9 773.6 219.7 833.2M239.9 693.6C163 731.7 107.2 718.5 53.9 649.6M239.9 693.6C163 731.7 99.7 769.1 29.1 818.5M239.9 693.6C163 731.7 138.2 784.8 157.3 870.6M239.9 693.6C163 731.7 94.9 736.9 13.1 711.1M239.9 693.6C163 731.7 148.2 780.6 190.8 856.8M239.9 693.6C163 731.7 132.8 785.6 139.3 873.4M239.9 693.6C163 731.7 93.5 747.9 8.3 747.7" fill="none" stroke="#FD61D1" stroke-width="0.65" stroke-opacity="0.75"/>
<path d="M246.6 711C165 736.9 93.5 747.9 8.3 747.7M246.6 711C165 736.9 99.8 726.9 29.4 677.7M246.6 711C165 736.9 111.8 780.6 69.3 856.8M246.6 711C165 736.9 152.8 777.4 206 846M246.6 711C165 736.9 121.8 784.8 102.6 870.6M246.6 711C165 736.9 132.8 785.6 139.3 873.4" fill="none" stroke="#FF67A4" stroke-width="0.65" stroke-opacity="0.75"/>
<path d="M250.6 729.6C166.2 742.5 138.2 784.8 157.3 870.6M250.6 729.6C166.2 742.5 94.9 736.9 13.1 711.1M250.6 729.6C166.2 742.5 111.8 780.6 69.3 856.8M250.6 729.6C166.2 742.5 143.3 783 174.2 864.8M250.6 729.6C166.2 742.5 99.8 726.9 29.4 677.7M250.6 729.6C166.2 742.5 148.2 780.6 190.8 856.8" fill="none" stroke="#00BF7D" stroke-width="0.65" stroke-opacity="0.75"/>
<path d="M252.3 748.2C166.7 748.1 143.3 783 174.2 864.8M252.3 748.2C166.7 748.1 93.9 753.6 9.7 766.6M252.3 748.2C166.7 748.1 111.7 715.3 69.1 639.1M252.3 748.2C166.7 748.1 116.6 783.1 85.4 865M252.3 748.2C166.7 748.1 97 764.3 20 802.4" fill="none" stroke="#A3A500" stroke-width="0.65" stroke-opacity="0.75"/>
<path d="M250.6 766.5C166.2 753.5 107.2 777.5 54 846.2M250.6 766.5C166.2 753.5 121.8 784.8 102.6 870.6M250.6 766.5C166.2 753.5 116.6 783.1 85.4 865M250.6 766.5C166.2 753.5 97.2 731.6 20.5 693.5M250.6 766.5C166.2 753.5 95 759 13.3 784.6M250.6 766.5C166.2 753.5 97 764.3 20 802.4M250.6 766.5C166.2 753.5 93.9 753.6 9.7 766.6M250.6 766.5C166.2 753.5 94.9 736.9 13.1 711.1M250.6 766.5C166.2 753.5 132.8 785.6 139.3 873.4" fill="none" stroke="#E58700" stroke-width="0.65" stroke-opacity="0.75"/>
<path d="M246.7 785C165 759.1 107.2 718.5 53.9 649.6M246.7 785C165 759.1 116.6 783.1 85.4 865M246.7 785C165 759.1 127.5 785.6 121.5 873.4M246.7 785C165 759.1 93.5 747.9 8.3 747.7M246.7 785C165 759.1 103.2 722.4 40.7 662.5" fill="none" stroke="#00BA38" stroke-width="0.65" stroke-opacity="0.75"/>
<path d="M240.2 802.4C163.1 764.3 116.6 783.1 85.4 865M240.2 802.4C163.1 764.3 127.5 785.6 121.5 873.4M240.2 802.4C163.1 764.3 107.2 718.5 53.9 649.6M240.2 802.4C163.1 764.3 111.8 780.6 69.3 856.8M240.2 802.4C163.1 764.3 93.9 753.6 9.7 766.6M240.2 802.4C163.1 764.3 156.9 773.6 219.7 833.2M240.2 802.4C163.1 764.3 99.8 726.9 29.4 677.7M240.2 802.4C163.1 764.3 152.8 777.4 206 846" fill="none" stroke="#619CFF" stroke-width="0.65" stroke-opacity="0.75"/>
<path d="M230.6 818.7C160.2 769.2 127.5 785.6 121.5 873.4M230.6 818.7C160.2 769.2 121.8 784.8 102.6 870.6M230.6 818.7C160.2 769.2 97.2 731.6 20.5 693.5M230.6 818.7C160.2 769.2 116.6 713 85.4 631.2M230.6 818.7C160.2 769.2 99.7 769.1 29.1 818.5M230.6 818.7C160.2 769.2 132.8 785.6 139.3 873.4M230.6 818.7C160.2 769.2 94.9 736.9 13.1 711.1M230.6 818.7C160.2 769.2 156.9 773.6 219.7 833.2M230.6 818.7C160.2 769.2 138.2 784.8 157.3 870.6M230.6 818.7C160.2 769.2 107.2 777.5 54 846.2M230.6 818.7C160.2 769.2 111.8 780.6 69.3 856.8M230.6 818.7C160.2 769.2 99.8 726.9 29.4 677.7" fill="none" stroke="#C99800" stroke-width="0.65" stroke-opacity="0.75"/>
<circle cx="103" cy="625.7" r="1.9" fill="#e8605a"/>
<text x="90.6" y="624" textLength="17.4" lengthAdjust="spacingAndGlyphs" style="font-size:5.4px;font-family:'Liberation Sans', sans-serif;font-weight:normal;" stroke="#000" stroke-width="0.18">Pde10a</text>
<circle cx="120.9" cy="622.5" r="1.9" fill="#c8d8ee"/>
<text x="113" y="628.8" textLength="9" lengthAdjust="spacingAndGlyphs" style="font-size:5.4px;font-family:'Liberation Sans', sans-serif;font-weight:normal;" stroke="#000" stroke-width="0.18">Vim</text>
<circle cx="85.4" cy="631.2" r="1.9" fill="#f2b8b8"/>
<text x="75" y="637.3" textLength="13.8" lengthAdjust="spacingAndGlyphs" style="font-size:5.4px;font-family:'Liberation Sans', sans-serif;font-weight:normal;" stroke="#000" stroke-width="0.18">Ptpn5</text>
<circle cx="69.1" cy="639.1" r="1.9" fill="#f2b8b8"/>
<text x="60.4" y="645.3" textLength="10" lengthAdjust="spacingAndGlyphs" style="font-size:5.4px;font-family:'Liberation Sans', sans-serif;font-weight:normal;" stroke="#000" stroke-width="0.18">Nefl</text>
<circle cx="53.9" cy="649.6" r="1.9" fill="#c8d8ee"/>
<text x="44.7" y="655.9" textLength="11.8" lengthAdjust="spacingAndGlyphs" style="font-size:5.4px;font-family:'Liberation Sans', sans-serif;font-weight:normal;" stroke="#000" stroke-width="0.18">Ank1</text>
<circle cx="40.7" cy="662.5" r="1.9" fill="#e8e0e8"/>
<text x="30.2" y="669" textLength="13.9" lengthAdjust="spacingAndGlyphs" style="font-size:5.4px;font-family:'Liberation Sans', sans-serif;font-weight:normal;" stroke="#000" stroke-width="0.18">Cntn1</text>
<circle cx="29.4" cy="677.7" r="1.9" fill="#f2b8b8"/>
<text x="16.3" y="683.4" textLength="18.7" lengthAdjust="spacingAndGlyphs" style="font-size:5.4px;font-family:'Liberation Sans', sans-serif;font-weight:normal;" stroke="#000" stroke-width="0.18">Epb41l3</text>
<circle cx="20.5" cy="693.5" r="1.9" fill="#f2b8b8"/>
<text x="7.4" y="700.3" textLength="18.3" lengthAdjust="spacingAndGlyphs" style="font-size:5.4px;font-family:'Liberation Sans', sans-serif;font-weight:normal;" stroke="#000" stroke-width="0.18">Cacng3</text>
<circle cx="13.1" cy="711.1" r="1.9" fill="#e8e0e8"/>
<text x="0.8" y="717.3" textLength="18.9" lengthAdjust="spacingAndGlyphs" style="font-size:5.4px;font-family:'Liberation Sans', sans-serif;font-weight:normal;" stroke="#000" stroke-width="0.18">Hnrnpm</text>
<circle cx="9.7" cy="728.9" r="1.9" fill="#f2b8b8"/>
<text x="7.8" y="727.8" textLength="11.6" lengthAdjust="spacingAndGlyphs" style="font-size:5.4px;font-family:'Liberation Sans', sans-serif;font-weight:normal;" stroke="#000" stroke-width="0.18">Dgkz</text>
<circle cx="8.3" cy="747.7" r="1.9" fill="#f2b8b8"/>
<text x="6.1" y="746.7" textLength="11.9" lengthAdjust="spacingAndGlyphs" style="font-size:5.4px;font-family:'Liberation Sans', sans-serif;font-weight:normal;" stroke="#000" stroke-width="0.18">Dgkb</text>
<circle cx="9.7" cy="766.6" r="1.9" fill="#f2b8b8"/>
<text x="8.3" y="765.3" textLength="9.7" lengthAdjust="spacingAndGlyphs" style="font-size:5.4px;font-family:'Liberation Sans', sans-serif;font-weight:normal;" stroke="#000" stroke-width="0.18">Itpr1</text>
<circle cx="13.3" cy="784.6" r="1.9" fill="#c8d8ee"/>
<text x="2.8" y="790.8" textLength="13.8" lengthAdjust="spacingAndGlyphs" style="font-size:5.4px;font-family:'Liberation Sans', sans-serif;font-weight:normal;" stroke="#000" stroke-width="0.18">Uchl1</text>
<circle cx="20" cy="802.4" r="1.9" fill="#7fa6d8"/>
<text x="8.9" y="808.8" textLength="15.5" lengthAdjust="spacingAndGlyphs" style="font-size:5.4px;font-family:'Liberation Sans', sans-serif;font-weight:normal;" stroke="#000" stroke-width="0.18">Kcna6</text>
<circle cx="29.1" cy="818.5" r="1.9" fill="#f2b8b8"/>
<text x="18.9" y="824.9" textLength="13.8" lengthAdjust="spacingAndGlyphs" style="font-size:5.4px;font-family:'Liberation Sans', sans-serif;font-weight:normal;" stroke="#000" stroke-width="0.18">Prkcb</text>
<circle cx="41" cy="833.2" r="1.9" fill="#c8d8ee"/>
<text x="38.3" y="832.4" textLength="12.2" lengthAdjust="spacingAndGlyphs" style="font-size:5.4px;font-family:'Liberation Sans', sans-serif;font-weight:normal;" stroke="#000" stroke-width="0.18">Vti1a</text>
<circle cx="54" cy="846.2" r="1.9" fill="#f2b8b8"/>
<text x="52.1" y="844.3" textLength="11.7" lengthAdjust="spacingAndGlyphs" style="font-size:5.4px;font-family:'Liberation Sans', sans-serif;font-weight:normal;" stroke="#000" stroke-width="0.18">Hsh1</text>
<circle cx="69.3" cy="856.8" r="1.9" fill="#f2b8b8"/>
<text x="59" y="855.4" textLength="13.7" lengthAdjust="spacingAndGlyphs" style="font-size:5.4px;font-family:'Liberation Sans', sans-serif;font-weight:normal;" stroke="#000" stroke-width="0.18">Gria3</text>
<circle cx="85.4" cy="865" r="1.9" fill="#f2b8b8"/>
<text x="74.3" y="863.8" textLength="15.9" lengthAdjust="spacingAndGlyphs" style="font-size:5.4px;font-family:'Liberation Sans', sans-serif;font-weight:normal;" stroke="#000" stroke-width="0.18">Slc8a2</text>
<circle cx="102.6" cy="870.6" r="1.9" fill="#f2b8b8"/>
<text x="91.5" y="876.8" textLength="16.7" lengthAdjust="spacingAndGlyphs" style="font-size:5.4px;font-family:'Liberation Sans', sans-serif;font-weight:normal;" stroke="#000" stroke-width="0.18">Baiap2</text>
<circle cx="121.5" cy="873.4" r="1.9" fill="#e8e0e8"/>
<text x="110.4" y="879.6" textLength="13.9" lengthAdjust="spacingAndGlyphs" style="font-size:5.4px;font-family:'Liberation Sans', sans-serif;font-weight:normal;" stroke="#000" stroke-width="0.18">Actn1</text>
<circle cx="139.3" cy="873.4" r="1.9" fill="#e8605a"/>
<text x="132.6" y="879.6" textLength="20" lengthAdjust="spacingAndGlyphs" style="font-size:5.4px;font-family:'Liberation Sans', sans-serif;font-weight:normal;" stroke="#000" stroke-width="0.18">Ppp1r1b</text>
<circle cx="157.3" cy="870.6" r="1.9" fill="#f2b8b8"/>
<text x="154.5" y="869.3" textLength="12.8" lengthAdjust="spacingAndGlyphs" style="font-size:5.4px;font-family:'Liberation Sans', sans-serif;font-weight:normal;" stroke="#000" stroke-width="0.18">Hpca</text>
<circle cx="174.2" cy="864.8" r="1.9" fill="#e8e0e8"/>
<text x="169.8" y="863.2" textLength="16.6" lengthAdjust="spacingAndGlyphs" style="font-size:5.4px;font-family:'Liberation Sans', sans-serif;font-weight:normal;" stroke="#000" stroke-width="0.18">Hspa8</text>
<circle cx="190.8" cy="856.8" r="1.9" fill="#c8d8ee"/>
<text x="187.2" y="855.3" textLength="15.7" lengthAdjust="spacingAndGlyphs" style="font-size:5.4px;font-family:'Liberation Sans', sans-serif;font-weight:normal;" stroke="#000" stroke-width="0.18">Ephb2</text>
<circle cx="206" cy="846" r="1.9" fill="#f2b8b8"/>
<text x="190.8" y="845.1" textLength="15.2" lengthAdjust="spacingAndGlyphs" style="font-size:5.4px;font-family:'Liberation Sans', sans-serif;font-weight:normal;" stroke="#000" stroke-width="0.18">Rph3a</text>
<circle cx="219.7" cy="833.2" r="1.9" fill="#f2b8b8"/>
<text x="209.4" y="839.8" textLength="12.7" lengthAdjust="spacingAndGlyphs" style="font-size:5.4px;font-family:'Liberation Sans', sans-serif;font-weight:normal;" stroke="#000" stroke-width="0.18">Gria2</text>
<circle cx="139.4" cy="622.4" r="3.3" fill="#d9c08e"/>
<text x="138.6" y="619" textLength="35" lengthAdjust="spacingAndGlyphs" style="font-size:5.4px;font-family:'Liberation Sans', sans-serif;font-weight:normal;" stroke="#000" stroke-width="0.18">dendritic spine</text>
<circle cx="157.2" cy="625.6" r="3" fill="#d9c08e"/>
<text x="161" y="626.4" textLength="30" lengthAdjust="spacingAndGlyphs" style="font-size:5.4px;font-family:'Liberation Sans', sans-serif;font-weight:normal;" stroke="#000" stroke-width="0.18">neuron spine</text>
<circle cx="174.6" cy="631.1" r="3.2" fill="#d9c08e"/>
<text x="178.3" y="632.7" textLength="62" lengthAdjust="spacingAndGlyphs" style="font-size:5.4px;font-family:'Liberation Sans', sans-serif;font-weight:normal;" stroke="#000" stroke-width="0.18">neuron projection terminus</text>
<circle cx="190.7" cy="639" r="3.6" fill="#d9c08e"/>
<text x="195" y="640.3" textLength="58" lengthAdjust="spacingAndGlyphs" style="font-size:5.4px;font-family:'Liberation Sans', sans-serif;font-weight:normal;" stroke="#000" stroke-width="0.18">neuron to neuron synapse</text>
<circle cx="206.1" cy="649.7" r="3.2" fill="#d9c08e"/>
<text x="209.8" y="650.8" textLength="53" lengthAdjust="spacingAndGlyphs" style="font-size:5.4px;font-family:'Liberation Sans', sans-serif;font-weight:normal;" stroke="#000" stroke-width="0.18">postsynaptic membrane</text>
<circle cx="219.3" cy="662.6" r="3.5" fill="#d9c08e"/>
<text x="167.2" y="665.7" textLength="48.4" lengthAdjust="spacingAndGlyphs" style="font-size:5.4px;font-family:'Liberation Sans', sans-serif;font-weight:normal;" stroke="#000" stroke-width="0.18">postsynaptic density</text>
<circle cx="230.9" cy="677" r="3.3" fill="#d9c08e"/>
<text x="176.6" y="680.1" textLength="50.6" lengthAdjust="spacingAndGlyphs" style="font-size:5.4px;font-family:'Liberation Sans', sans-serif;font-weight:normal;" stroke="#000" stroke-width="0.18">asymmetric synapse</text>
<circle cx="239.9" cy="693.6" r="3.5" fill="#d9c08e"/>
<text x="172.9" y="697.4" textLength="63" lengthAdjust="spacingAndGlyphs" style="font-size:5.4px;font-family:'Liberation Sans', sans-serif;font-weight:normal;" stroke="#000" stroke-width="0.18">postsynaptic specialization</text>
<circle cx="246.6" cy="711" r="2.8" fill="#d9c08e"/>
<text x="162.2" y="713.6" textLength="80.2" lengthAdjust="spacingAndGlyphs" style="font-size:5.4px;font-family:'Liberation Sans', sans-serif;font-weight:normal;" stroke="#000" stroke-width="0.18">Schaffer collateral - CA1 synapse</text>
<circle cx="250.6" cy="729.6" r="2.5" fill="#d9c08e"/>
<text x="179.6" y="731.9" textLength="68.2" lengthAdjust="spacingAndGlyphs" style="font-size:5.4px;font-family:'Liberation Sans', sans-serif;font-weight:normal;" stroke="#000" stroke-width="0.18">neuron projection membrane</text>
<circle cx="252.3" cy="748.2" r="2.5" fill="#d9c08e"/>
<text x="215.6" y="750.5" textLength="33.8" lengthAdjust="spacingAndGlyphs" style="font-size:5.4px;font-family:'Liberation Sans', sans-serif;font-weight:normal;" stroke="#000" stroke-width="0.18">dendritic shaft</text>
<circle cx="250.6" cy="766.5" r="3.3" fill="#d9c08e"/>
<text x="213.7" y="768.8" textLength="33.7" lengthAdjust="spacingAndGlyphs" style="font-size:5.4px;font-family:'Liberation Sans', sans-serif;font-weight:normal;" stroke="#000" stroke-width="0.18">axon terminus</text>
<circle cx="246.7" cy="785" r="1.5" fill="#d9c08e"/>
<text x="196.4" y="787.3" textLength="48.1" lengthAdjust="spacingAndGlyphs" style="font-size:5.4px;font-family:'Liberation Sans', sans-serif;font-weight:normal;" stroke="#000" stroke-width="0.18">dendritic spine head</text>
<circle cx="240.2" cy="802.4" r="3" fill="#d9c08e"/>
<text x="231" y="799.9" textLength="25.3" lengthAdjust="spacingAndGlyphs" style="font-size:5.4px;font-family:'Liberation Sans', sans-serif;font-weight:normal;" stroke="#000" stroke-width="0.18">perikaryon</text>
<circle cx="230.6" cy="818.7" r="3.6" fill="#d9c08e"/>
<text x="214.9" y="815.5" textLength="40.2" lengthAdjust="spacingAndGlyphs" style="font-size:5.4px;font-family:'Liberation Sans', sans-serif;font-weight:normal;" stroke="#000" stroke-width="0.18">cell leading edge</text>
<path d="M469.5 633.5C464.9 720 498.4 768.7 580.9 796M469.5 633.5C464.9 720 442.1 726.3 393.2 654.6M469.5 633.5C464.9 720 484.1 787.6 533.3 859.1M469.5 633.5C464.9 720 460.9 794.1 456.1 880.8M469.5 633.5C464.9 720 436 731.4 373 671.8M469.5 633.5C464.9 720 464.9 794.1 469.2 880.8M469.5 633.5C464.9 720 449.1 791.5 416.7 871.9M469.5 633.5C464.9 720 425.8 760.9 338.9 769.9M469.5 633.5C464.9 720 494.9 776.1 569.2 820.8M469.5 633.5C464.9 720 457 720.3 442.9 634.6M469.5 633.5C464.9 720 425.8 752.8 338.9 743.1M469.5 633.5C464.9 720 469 793.6 482.9 879M469.5 633.5C464.9 720 445.6 724.2 404.9 647.7M469.5 633.5C464.9 720 433.1 779.2 363.4 831.1M469.5 633.5C464.9 720 431 776 356.3 820.4M469.5 633.5C464.9 720 500 761 586.3 770.5M469.5 633.5C464.9 720 461 719.9 456.2 633.2M469.5 633.5C464.9 720 426.6 748.9 341.5 730M469.5 633.5C464.9 720 431.5 737.5 358 692M469.5 633.5C464.9 720 438.9 728.8 382.7 662.9M469.5 633.5C464.9 720 452.9 721.1 429.3 637.4M469.5 633.5C464.9 720 445.3 789.9 404.1 866.6" fill="none" stroke="#B983FF" stroke-width="0.65" stroke-opacity="0.75"/>
<path d="M483 634.8C469 720.3 449.1 722.4 416.5 641.6M483 634.8C469 720.3 438.8 785.1 382.3 850.8M483 634.8C469 720.3 433.1 779.2 363.4 831.1M483 634.8C469 720.3 460.9 794.1 456.1 880.8M483 634.8C469 720.3 426.6 765 341.5 783.6M483 634.8C469 720.3 431 776 356.3 820.4M483 634.8C469 720.3 472.9 792.8 495.9 876.2M483 634.8C469 720.3 445.3 789.9 404.1 866.6M483 634.8C469 720.3 452.9 721.1 429.3 637.4M483 634.8C469 720.3 453 792.8 429.8 876.3M483 634.8C469 720.3 457.1 793.6 443.5 879M483 634.8C469 720.3 469 793.6 482.9 879M483 634.8C469 720.3 497 772.5 576.4 808.8M483 634.8C469 720.3 499.5 764.9 584.8 783.4M483 634.8C469 720.3 484.1 787.6 533.3 859.1M483 634.8C469 720.3 431.5 737.5 358 692M483 634.8C469 720.3 427.6 768.8 345 796.2M483 634.8C469 720.3 429.1 741.4 350 705.1" fill="none" stroke="#E76BF3" stroke-width="0.65" stroke-opacity="0.75"/>
<path d="M496.1 637.9C472.9 721.3 438.9 728.8 382.7 662.9M496.1 637.9C472.9 721.3 469 793.6 482.9 879M496.1 637.9C472.9 721.3 492.5 779.6 561.4 832.2M496.1 637.9C472.9 721.3 480.7 789.6 521.9 865.7M496.1 637.9C472.9 721.3 427.7 745.2 345.3 717.6M496.1 637.9C472.9 721.3 442.1 726.3 393.2 654.6M496.1 637.9C472.9 721.3 484.1 787.6 533.3 859.1M496.1 637.9C472.9 721.3 429.2 772.5 350.2 808.8M496.1 637.9C472.9 721.3 433.1 779.2 363.4 831.1M496.1 637.9C472.9 721.3 472.9 792.8 495.9 876.2M496.1 637.9C472.9 721.3 426.6 765 341.5 783.6M496.1 637.9C472.9 721.3 494.9 776.1 569.2 820.8M496.1 637.9C472.9 721.3 449.1 791.5 416.7 871.9M496.1 637.9C472.9 721.3 429.1 741.4 350 705.1M496.1 637.9C472.9 721.3 457.1 793.6 443.5 879M496.1 637.9C472.9 721.3 438.8 785.1 382.3 850.8M496.1 637.9C472.9 721.3 436 731.4 373 671.8M496.1 637.9C472.9 721.3 487.1 785.6 543.5 852.2M496.1 637.9C472.9 721.3 476.6 791.4 508.4 871.7M496.1 637.9C472.9 721.3 461 719.9 456.2 633.2M496.1 637.9C472.9 721.3 497 772.5 576.4 808.8" fill="none" stroke="#F8766D" stroke-width="0.65" stroke-opacity="0.75"/>
<path d="M508.6 641.9C476.7 722.5 445.3 789.9 404.1 866.6M508.6 641.9C476.7 722.5 436 731.4 373 671.8M508.6 641.9C476.7 722.5 499.5 764.9 584.8 783.4M508.6 641.9C476.7 722.5 426.6 748.9 341.5 730M508.6 641.9C476.7 722.5 460.9 794.1 456.1 880.8M508.6 641.9C476.7 722.5 484.1 787.6 533.3 859.1M508.6 641.9C476.7 722.5 425.6 756.9 338.4 756.8M508.6 641.9C476.7 722.5 494.9 776.1 569.2 820.8M508.6 641.9C476.7 722.5 452.9 721.1 429.3 637.4M508.6 641.9C476.7 722.5 427.7 745.2 345.3 717.6M508.6 641.9C476.7 722.5 438.8 785.1 382.3 850.8M508.6 641.9C476.7 722.5 425.8 760.9 338.9 769.9M508.6 641.9C476.7 722.5 490.1 782.7 553.3 842.7M508.6 641.9C476.7 722.5 449.1 791.5 416.7 871.9M508.6 641.9C476.7 722.5 492.5 779.6 561.4 832.2M508.6 641.9C476.7 722.5 433.5 734.4 364.7 681.8M508.6 641.9C476.7 722.5 464.9 794.1 469.2 880.8" fill="none" stroke="#FD61D1" stroke-width="0.65" stroke-opacity="0.75"/>
<path d="M520.8 647.1C480.3 724 457 720.3 442.9 634.6M520.8 647.1C480.3 724 484.1 787.6 533.3 859.1M520.8 647.1C480.3 724 441.9 787.7 392.8 859.3M520.8 647.1C480.3 724 469 793.6 482.9 879M520.8 647.1C480.3 724 460.9 794.1 456.1 880.8M520.8 647.1C480.3 724 453 792.8 429.8 876.3M520.8 647.1C480.3 724 445.6 724.2 404.9 647.7M520.8 647.1C480.3 724 490.1 782.7 553.3 842.7M520.8 647.1C480.3 724 445.3 789.9 404.1 866.6M520.8 647.1C480.3 724 480.7 789.6 521.9 865.7M520.8 647.1C480.3 724 464.9 794.1 469.2 880.8M520.8 647.1C480.3 724 435.9 782.6 372.5 842.2M520.8 647.1C480.3 724 457.1 793.6 443.5 879M520.8 647.1C480.3 724 498.4 768.7 580.9 796M520.8 647.1C480.3 724 429.2 772.5 350.2 808.8" fill="none" stroke="#E58700" stroke-width="0.65" stroke-opacity="0.75"/>
<path d="M532.3 654.3C483.8 726.2 449.1 722.4 416.5 641.6M532.3 654.3C483.8 726.2 435.9 782.6 372.5 842.2M532.3 654.3C483.8 726.2 429.1 741.4 350 705.1M532.3 654.3C483.8 726.2 484.1 787.6 533.3 859.1M532.3 654.3C483.8 726.2 425.8 752.8 338.9 743.1M532.3 654.3C483.8 726.2 441.9 787.7 392.8 859.3M532.3 654.3C483.8 726.2 499.5 764.9 584.8 783.4M532.3 654.3C483.8 726.2 453 792.8 429.8 876.3M532.3 654.3C483.8 726.2 457 720.3 442.9 634.6M532.3 654.3C483.8 726.2 449.1 791.5 416.7 871.9M532.3 654.3C483.8 726.2 427.7 745.2 345.3 717.6M532.3 654.3C483.8 726.2 436 731.4 373 671.8M532.3 654.3C483.8 726.2 457.1 793.6 443.5 879M532.3 654.3C483.8 726.2 487.1 785.6 543.5 852.2M532.3 654.3C483.8 726.2 431.5 737.5 358 692" fill="none" stroke="#C99800" stroke-width="0.65" stroke-opacity="0.75"/>
<path d="M543.1 662.6C487 728.7 449.1 791.5 416.7 871.9M543.1 662.6C487 728.7 427.6 768.8 345 796.2M543.1 662.6C487 728.7 498.4 768.7 580.9 796M543.1 662.6C487 728.7 436 731.4 373 671.8M543.1 662.6C487 728.7 476.6 791.4 508.4 871.7M543.1 662.6C487 728.7 438.9 728.8 382.7 662.9M543.1 662.6C487 728.7 460.9 794.1 456.1 880.8M543.1 662.6C487 728.7 433.5 734.4 364.7 681.8M543.1 662.6C487 728.7 487.1 785.6 543.5 852.2M543.1 662.6C487 728.7 484.1 787.6 533.3 859.1M543.1 662.6C487 728.7 469 793.6 482.9 879M543.1 662.6C487 728.7 480.7 789.6 521.9 865.7M543.1 662.6C487 728.7 457 720.3 442.9 634.6M543.1 662.6C487 728.7 457.1 793.6 443.5 879" fill="none" stroke="#00BA38" stroke-width="0.65" stroke-opacity="0.75"/>
<path d="M553 671.8C490 731.4 472.9 792.8 495.9 876.2M553 671.8C490 731.4 429.2 772.5 350.2 808.8M553 671.8C490 731.4 452.9 721.1 429.3 637.4M553 671.8C490 731.4 442.1 726.3 393.2 654.6M553 671.8C490 731.4 457.1 793.6 443.5 879M553 671.8C490 731.4 435.9 782.6 372.5 842.2M553 671.8C490 731.4 457 720.3 442.9 634.6M553 671.8C490 731.4 480.7 789.6 521.9 865.7M553 671.8C490 731.4 497 772.5 576.4 808.8M553 671.8C490 731.4 431.5 737.5 358 692M553 671.8C490 731.4 494.9 776.1 569.2 820.8M553 671.8C490 731.4 460.9 794.1 456.1 880.8" fill="none" stroke="#00B0F6" stroke-width="0.65" stroke-opacity="0.75"/>
<path d="M561.8 682.3C492.6 734.6 452.9 721.1 429.3 637.4M561.8 682.3C492.6 734.6 433.5 734.4 364.7 681.8M561.8 682.3C492.6 734.6 469 793.6 482.9 879M561.8 682.3C492.6 734.6 449.1 791.5 416.7 871.9M561.8 682.3C492.6 734.6 445.3 789.9 404.1 866.6M561.8 682.3C492.6 734.6 438.9 728.8 382.7 662.9M561.8 682.3C492.6 734.6 445.6 724.2 404.9 647.7M561.8 682.3C492.6 734.6 487.1 785.6 543.5 852.2M561.8 682.3C492.6 734.6 472.9 792.8 495.9 876.2M561.8 682.3C492.6 734.6 484.1 787.6 533.3 859.1M561.8 682.3C492.6 734.6 480.7 789.6 521.9 865.7" fill="none" stroke="#00C0AF" stroke-width="0.65" stroke-opacity="0.75"/>
<path d="M569.4 693.1C494.9 737.8 460.9 794.1 456.1 880.8M569.4 693.1C494.9 737.8 484.1 787.6 533.3 859.1M569.4 693.1C494.9 737.8 445.6 724.2 404.9 647.7M569.4 693.1C494.9 737.8 433.1 779.2 363.4 831.1M569.4 693.1C494.9 737.8 464.9 794.1 469.2 880.8M569.4 693.1C494.9 737.8 497 772.5 576.4 808.8M569.4 693.1C494.9 737.8 453 792.8 429.8 876.3M569.4 693.1C494.9 737.8 442.1 726.3 393.2 654.6M569.4 693.1C494.9 737.8 490.1 782.7 553.3 842.7M569.4 693.1C494.9 737.8 499.5 764.9 584.8 783.4M569.4 693.1C494.9 737.8 445.3 789.9 404.1 866.6" fill="none" stroke="#6BB100" stroke-width="0.65" stroke-opacity="0.75"/>
<path d="M575.6 705.3C496.8 741.5 445.3 789.9 404.1 866.6M575.6 705.3C496.8 741.5 445.6 724.2 404.9 647.7M575.6 705.3C496.8 741.5 472.9 792.8 495.9 876.2M575.6 705.3C496.8 741.5 431.5 737.5 358 692M575.6 705.3C496.8 741.5 435.9 782.6 372.5 842.2M575.6 705.3C496.8 741.5 457.1 793.6 443.5 879M575.6 705.3C496.8 741.5 427.7 745.2 345.3 717.6M575.6 705.3C496.8 741.5 484.1 787.6 533.3 859.1M575.6 705.3C496.8 741.5 426.6 748.9 341.5 730M575.6 705.3C496.8 741.5 498.4 768.7 580.9 796M575.6 705.3C496.8 741.5 469 793.6 482.9 879" fill="none" stroke="#619CFF" stroke-width="0.65" stroke-opacity="0.75"/>
<path d="M580.6 717.4C498.3 745.1 425.8 760.9 338.9 769.9M580.6 717.4C498.3 745.1 431.5 737.5 358 692M580.6 717.4C498.3 745.1 464.9 794.1 469.2 880.8M580.6 717.4C498.3 745.1 438.9 728.8 382.7 662.9M580.6 717.4C498.3 745.1 442.1 726.3 393.2 654.6M580.6 717.4C498.3 745.1 429.2 772.5 350.2 808.8M580.6 717.4C498.3 745.1 425.6 756.9 338.4 756.8M580.6 717.4C498.3 745.1 445.6 724.2 404.9 647.7" fill="none" stroke="#00BCD8" stroke-width="0.65" stroke-opacity="0.75"/>
<path d="M584.2 730.6C499.4 749.1 500 761 586.3 770.5M584.2 730.6C499.4 749.1 460.9 794.1 456.1 880.8M584.2 730.6C499.4 749.1 425.6 756.9 338.4 756.8M584.2 730.6C499.4 749.1 457.1 793.6 443.5 879M584.2 730.6C499.4 749.1 453 792.8 429.8 876.3M584.2 730.6C499.4 749.1 425.8 752.8 338.9 743.1M584.2 730.6C499.4 749.1 433.1 779.2 363.4 831.1M584.2 730.6C499.4 749.1 429.1 741.4 350 705.1M584.2 730.6C499.4 749.1 433.5 734.4 364.7 681.8" fill="none" stroke="#A3A500" stroke-width="0.65" stroke-opacity="0.75"/>
<path d="M586.5 743.7C500.1 753 449.1 722.4 416.5 641.6M586.5 743.7C500.1 753 429.1 741.4 350 705.1M586.5 743.7C500.1 753 445.3 789.9 404.1 866.6M586.5 743.7C500.1 753 469 793.6 482.9 879M586.5 743.7C500.1 753 457.1 793.6 443.5 879M586.5 743.7C500.1 753 480.7 789.6 521.9 865.7M586.5 743.7C500.1 753 433.5 734.4 364.7 681.8M586.5 743.7C500.1 753 438.9 728.8 382.7 662.9M586.5 743.7C500.1 753 460.9 794.1 456.1 880.8M586.5 743.7C500.1 753 431.5 737.5 358 692M586.5 743.7C500.1 753 449.1 791.5 416.7 871.9" fill="none" stroke="#00BF7D" stroke-width="0.65" stroke-opacity="0.75"/>
<path d="M587.5 757.2C500.4 757.1 438.8 785.1 382.3 850.8M587.5 757.2C500.4 757.1 431.5 737.5 358 692M587.5 757.2C500.4 757.1 457 720.3 442.9 634.6M587.5 757.2C500.4 757.1 453 792.8 429.8 876.3M587.5 757.2C500.4 757.1 449.1 791.5 416.7 871.9M587.5 757.2C500.4 757.1 435.9 782.6 372.5 842.2M587.5 757.2C500.4 757.1 445.6 724.2 404.9 647.7M587.5 757.2C500.4 757.1 487.1 785.6 543.5 852.2M587.5 757.2C500.4 757.1 469 793.6 482.9 879M587.5 757.2C500.4 757.1 499.5 764.9 584.8 783.4M587.5 757.2C500.4 757.1 464.9 794.1 469.2 880.8" fill="none" stroke="#FF67A4" stroke-width="0.65" stroke-opacity="0.75"/>
<circle cx="442.9" cy="634.6" r="1.9" fill="#f2b8b8"/>
<text x="422.1" y="634.2" textLength="18.9" lengthAdjust="spacingAndGlyphs" style="font-size:5.4px;font-family:'Liberation Sans', sans-serif;font-weight:normal;" stroke="#000" stroke-width="0.18">Kcnma1</text>
<circle cx="456.2" cy="633.2" r="1.9" fill="#c8d8ee"/>
<circle cx="429.3" cy="637.4" r="1.9" fill="#f2b8b8"/>
<text x="412.7" y="640.3" textLength="14.4" lengthAdjust="spacingAndGlyphs" style="font-size:5.4px;font-family:'Liberation Sans', sans-serif;font-weight:normal;" stroke="#000" stroke-width="0.18">Pebp1</text>
<circle cx="416.5" cy="641.6" r="1.9" fill="#f2b8b8"/>
<text x="406.3" y="647.8" textLength="13" lengthAdjust="spacingAndGlyphs" style="font-size:5.4px;font-family:'Liberation Sans', sans-serif;font-weight:normal;" stroke="#000" stroke-width="0.18">Actg1</text>
<circle cx="404.9" cy="647.7" r="1.9" fill="#f2b8b8"/>
<text x="395.2" y="654.7" textLength="13.8" lengthAdjust="spacingAndGlyphs" style="font-size:5.4px;font-family:'Liberation Sans', sans-serif;font-weight:normal;" stroke="#000" stroke-width="0.18">Olfm1</text>
<circle cx="393.2" cy="654.6" r="1.9" fill="#f2b8b8"/>
<text x="380.8" y="661.6" textLength="16.3" lengthAdjust="spacingAndGlyphs" style="font-size:5.4px;font-family:'Liberation Sans', sans-serif;font-weight:normal;" stroke="#000" stroke-width="0.18">Arpc1a</text>
<circle cx="382.7" cy="662.9" r="1.9" fill="#7fa6d8"/>
<text x="366.9" y="668.8" textLength="23.6" lengthAdjust="spacingAndGlyphs" style="font-size:5.4px;font-family:'Liberation Sans', sans-serif;font-weight:normal;" stroke="#000" stroke-width="0.18">Tmem231</text>
<circle cx="373" cy="671.8" r="1.9" fill="#f2b8b8"/>
<text x="362.7" y="678" textLength="13.1" lengthAdjust="spacingAndGlyphs" style="font-size:5.4px;font-family:'Liberation Sans', sans-serif;font-weight:normal;" stroke="#000" stroke-width="0.18">Prkcb</text>
<circle cx="364.7" cy="681.8" r="1.9" fill="#f2b8b8"/>
<text x="351.6" y="688.3" textLength="17.2" lengthAdjust="spacingAndGlyphs" style="font-size:5.4px;font-family:'Liberation Sans', sans-serif;font-weight:normal;" stroke="#000" stroke-width="0.18">Coro1c</text>
<circle cx="358" cy="692" r="1.9" fill="#e8e0e8"/>
<text x="349.4" y="694.9" textLength="15.8" lengthAdjust="spacingAndGlyphs" style="font-size:5.4px;font-family:'Liberation Sans', sans-serif;font-weight:normal;" stroke="#000" stroke-width="0.18">Myo1c</text>
<circle cx="350" cy="705.1" r="1.9" fill="#7fa6d8"/>
<text x="338.9" y="711" textLength="14.7" lengthAdjust="spacingAndGlyphs" style="font-size:5.4px;font-family:'Liberation Sans', sans-serif;font-weight:normal;" stroke="#000" stroke-width="0.18">Lima1</text>
<circle cx="345.3" cy="717.6" r="1.9" fill="#f2b8b8"/>
<text x="334.2" y="723.5" textLength="13.8" lengthAdjust="spacingAndGlyphs" style="font-size:5.4px;font-family:'Liberation Sans', sans-serif;font-weight:normal;" stroke="#000" stroke-width="0.18">Arpc2</text>
<circle cx="341.5" cy="730" r="1.9" fill="#e8605a"/>
<text x="343.3" y="730.2" textLength="21.4" lengthAdjust="spacingAndGlyphs" style="font-size:5.4px;font-family:'Liberation Sans', sans-serif;font-weight:normal;" stroke="#000" stroke-width="0.18">Sh3bgrl3</text>
<circle cx="338.9" cy="743.1" r="1.9" fill="#7fa6d8"/>
<text x="331" y="749.4" textLength="9.2" lengthAdjust="spacingAndGlyphs" style="font-size:5.4px;font-family:'Liberation Sans', sans-serif;font-weight:normal;" stroke="#000" stroke-width="0.18">Pxn</text>
<circle cx="338.4" cy="756.8" r="1.9" fill="#f2b8b8"/>
<text x="328.4" y="763" textLength="12.6" lengthAdjust="spacingAndGlyphs" style="font-size:5.4px;font-family:'Liberation Sans', sans-serif;font-weight:normal;" stroke="#000" stroke-width="0.18">Hpca</text>
<circle cx="338.9" cy="769.9" r="1.9" fill="#c8d8ee"/>
<text x="327.9" y="776.7" textLength="15.7" lengthAdjust="spacingAndGlyphs" style="font-size:5.4px;font-family:'Liberation Sans', sans-serif;font-weight:normal;" stroke="#000" stroke-width="0.18">Pdlim4</text>
<circle cx="341.5" cy="783.6" r="1.9" fill="#c8d8ee"/>
<text x="332.6" y="789.8" textLength="9.7" lengthAdjust="spacingAndGlyphs" style="font-size:5.4px;font-family:'Liberation Sans', sans-serif;font-weight:normal;" stroke="#000" stroke-width="0.18">Tln1</text>
<circle cx="345" cy="796.2" r="1.9" fill="#e8e0e8"/>
<text x="335.2" y="802.4" textLength="11.8" lengthAdjust="spacingAndGlyphs" style="font-size:5.4px;font-family:'Liberation Sans', sans-serif;font-weight:normal;" stroke="#000" stroke-width="0.18">Thy1</text>
<circle cx="350.2" cy="808.8" r="1.9" fill="#e8605a"/>
<text x="337.1" y="815" textLength="16.5" lengthAdjust="spacingAndGlyphs" style="font-size:5.4px;font-family:'Liberation Sans', sans-serif;font-weight:normal;" stroke="#000" stroke-width="0.18">Atp2b1</text>
<circle cx="356.3" cy="820.4" r="1.9" fill="#f2b8b8"/>
<text x="356.8" y="819.5" textLength="10.5" lengthAdjust="spacingAndGlyphs" style="font-size:5.4px;font-family:'Liberation Sans', sans-serif;font-weight:normal;" stroke="#000" stroke-width="0.18">Pclo</text>
<circle cx="363.4" cy="831.1" r="1.9" fill="#f2b8b8"/>
<text x="354.2" y="830" textLength="12.6" lengthAdjust="spacingAndGlyphs" style="font-size:5.4px;font-family:'Liberation Sans', sans-serif;font-weight:normal;" stroke="#000" stroke-width="0.18">Dbn1</text>
<circle cx="372.5" cy="842.2" r="1.9" fill="#f2b8b8"/>
<text x="360.7" y="840.5" textLength="16.6" lengthAdjust="spacingAndGlyphs" style="font-size:5.4px;font-family:'Liberation Sans', sans-serif;font-weight:normal;" stroke="#000" stroke-width="0.18">Slc8a2</text>
<circle cx="382.3" cy="850.8" r="1.9" fill="#7fa6d8"/>
<text x="371.2" y="850.3" textLength="15.8" lengthAdjust="spacingAndGlyphs" style="font-size:5.4px;font-family:'Liberation Sans', sans-serif;font-weight:normal;" stroke="#000" stroke-width="0.18">Pdlim5</text>
<circle cx="392.8" cy="859.3" r="1.9" fill="#f2b8b8"/>
<text x="383.1" y="857.6" textLength="10.5" lengthAdjust="spacingAndGlyphs" style="font-size:5.4px;font-family:'Liberation Sans', sans-serif;font-weight:normal;" stroke="#000" stroke-width="0.18">Abi1</text>
<circle cx="404.1" cy="866.6" r="1.9" fill="#c8d8ee"/>
<text x="395.4" y="864.2" textLength="16.6" lengthAdjust="spacingAndGlyphs" style="font-size:5.4px;font-family:'Liberation Sans', sans-serif;font-weight:normal;" stroke="#000" stroke-width="0.18">Dlgap3</text>
<circle cx="416.7" cy="871.9" r="1.9" fill="#f2b8b8"/>
<text x="407.5" y="870.8" textLength="11.8" lengthAdjust="spacingAndGlyphs" style="font-size:5.4px;font-family:'Liberation Sans', sans-serif;font-weight:normal;" stroke="#000" stroke-width="0.18">Syn2</text>
<circle cx="429.8" cy="876.3" r="1.9" fill="#e8605a"/>
<text x="412" y="878.1" textLength="15.7" lengthAdjust="spacingAndGlyphs" style="font-size:5.4px;font-family:'Liberation Sans', sans-serif;font-weight:normal;" stroke="#000" stroke-width="0.18">Sh3gl2</text>
<circle cx="443.5" cy="879" r="1.9" fill="#f2b8b8"/>
<text x="432.5" y="885.7" textLength="11" lengthAdjust="spacingAndGlyphs" style="font-size:5.4px;font-family:'Liberation Sans', sans-serif;font-weight:normal;" stroke="#000" stroke-width="0.18">Dlg4</text>
<circle cx="456.1" cy="880.8" r="1.9" fill="#c8d8ee"/>
<text x="445.6" y="887" textLength="10.5" lengthAdjust="spacingAndGlyphs" style="font-size:5.4px;font-family:'Liberation Sans', sans-serif;font-weight:normal;" stroke="#000" stroke-width="0.18">Fxr1</text>
<circle cx="469.2" cy="880.8" r="1.9" fill="#c8d8ee"/>
<text x="459.3" y="887" textLength="12.6" lengthAdjust="spacingAndGlyphs" style="font-size:5.4px;font-family:'Liberation Sans', sans-serif;font-weight:normal;" stroke="#000" stroke-width="0.18">Cdk5</text>
<circle cx="482.9" cy="879" r="1.9" fill="#f2b8b8"/>
<text x="479" y="885.7" textLength="15.7" lengthAdjust="spacingAndGlyphs" style="font-size:5.4px;font-family:'Liberation Sans', sans-serif;font-weight:normal;" stroke="#000" stroke-width="0.18">Iqsec3</text>
<circle cx="495.9" cy="876.2" r="1.9" fill="#c8d8ee"/>
<text x="498" y="878.5" textLength="11" lengthAdjust="spacingAndGlyphs" style="font-size:5.4px;font-family:'Liberation Sans', sans-serif;font-weight:normal;" stroke="#000" stroke-width="0.18">Tnik</text>
<circle cx="508.4" cy="871.7" r="1.9" fill="#e8e0e8"/>
<text x="504.8" y="871" textLength="15.6" lengthAdjust="spacingAndGlyphs" style="font-size:5.4px;font-family:'Liberation Sans', sans-serif;font-weight:normal;" stroke="#000" stroke-width="0.18">Mapk1</text>
<circle cx="521.9" cy="865.7" r="1.9" fill="#c8d8ee"/>
<text x="518.9" y="864.1" textLength="12" lengthAdjust="spacingAndGlyphs" style="font-size:5.4px;font-family:'Liberation Sans', sans-serif;font-weight:normal;" stroke="#000" stroke-width="0.18">Rps3</text>
<circle cx="533.3" cy="859.1" r="1.9" fill="#f2b8b8"/>
<text x="527.9" y="857.5" textLength="17.3" lengthAdjust="spacingAndGlyphs" style="font-size:5.4px;font-family:'Liberation Sans', sans-serif;font-weight:normal;" stroke="#000" stroke-width="0.18">Kcnab2</text>
<circle cx="543.5" cy="852.2" r="1.9" fill="#e8605a"/>
<text x="539.9" y="850.1" textLength="14.9" lengthAdjust="spacingAndGlyphs" style="font-size:5.4px;font-family:'Liberation Sans', sans-serif;font-weight:normal;" stroke="#000" stroke-width="0.18">Ephb2</text>
<circle cx="553.3" cy="842.7" r="1.9" fill="#f2b8b8"/>
<text x="551.2" y="841.1" textLength="12" lengthAdjust="spacingAndGlyphs" style="font-size:5.4px;font-family:'Liberation Sans', sans-serif;font-weight:normal;" stroke="#000" stroke-width="0.18">Grin1</text>
<circle cx="561.4" cy="832.2" r="1.9" fill="#e8605a"/>
<text x="559.3" y="830.9" textLength="12.9" lengthAdjust="spacingAndGlyphs" style="font-size:5.4px;font-family:'Liberation Sans', sans-serif;font-weight:normal;" stroke="#000" stroke-width="0.18">Map4</text>
<circle cx="569.2" cy="820.8" r="1.9" fill="#e8605a"/>
<text x="571.3" y="821.9" textLength="12.9" lengthAdjust="spacingAndGlyphs" style="font-size:5.4px;font-family:'Liberation Sans', sans-serif;font-weight:normal;" stroke="#000" stroke-width="0.18">Gria2</text>
<circle cx="576.4" cy="808.8" r="1.9" fill="#c8d8ee"/>
<text x="566.2" y="814.7" textLength="11.1" lengthAdjust="spacingAndGlyphs" style="font-size:5.4px;font-family:'Liberation Sans', sans-serif;font-weight:normal;" stroke="#000" stroke-width="0.18">Eif3a</text>
<circle cx="580.9" cy="796" r="1.9" fill="#f2b8b8"/>
<text x="571.3" y="802.8" textLength="12" lengthAdjust="spacingAndGlyphs" style="font-size:5.4px;font-family:'Liberation Sans', sans-serif;font-weight:normal;" stroke="#000" stroke-width="0.18">Map2</text>
<circle cx="584.8" cy="783.4" r="1.9" fill="#7fa6d8"/>
<text x="575.2" y="789.6" textLength="11.1" lengthAdjust="spacingAndGlyphs" style="font-size:5.4px;font-family:'Liberation Sans', sans-serif;font-weight:normal;" stroke="#000" stroke-width="0.18">Dmd</text>
<circle cx="586.3" cy="770.5" r="1.9" fill="#f2b8b8"/>
<text x="580.3" y="769.8" textLength="8.9" lengthAdjust="spacingAndGlyphs" style="font-size:5.4px;font-family:'Liberation Sans', sans-serif;font-weight:normal;" stroke="#000" stroke-width="0.18">Bsn</text>
<circle cx="469.5" cy="633.5" r="3.8" fill="#d9c08e"/>
<text x="467.2" y="627.7" textLength="61.1" lengthAdjust="spacingAndGlyphs" style="font-size:5.4px;font-family:'Liberation Sans', sans-serif;font-weight:normal;" stroke="#000" stroke-width="0.18">neuron to neuron synapse</text>
<circle cx="483" cy="634.8" r="3.5" fill="#d9c08e"/>
<text x="486.3" y="633" textLength="48.6" lengthAdjust="spacingAndGlyphs" style="font-size:5.4px;font-family:'Liberation Sans', sans-serif;font-weight:normal;" stroke="#000" stroke-width="0.18">postsynaptic density</text>
<circle cx="496.1" cy="637.9" r="3.8" fill="#d9c08e"/>
<circle cx="508.6" cy="641.9" r="3.4" fill="#d9c08e"/>
<text x="513.5" y="641.9" textLength="47.7" lengthAdjust="spacingAndGlyphs" style="font-size:5.4px;font-family:'Liberation Sans', sans-serif;font-weight:normal;" stroke="#000" stroke-width="0.18">asymmetric synapse</text>
<circle cx="520.8" cy="647.1" r="3.2" fill="#d9c08e"/>
<text x="525.7" y="648.4" textLength="39.4" lengthAdjust="spacingAndGlyphs" style="font-size:5.4px;font-family:'Liberation Sans', sans-serif;font-weight:normal;" stroke="#000" stroke-width="0.18">cell leading edge</text>
<circle cx="532.3" cy="654.3" r="3.2" fill="#d9c08e"/>
<text x="536.2" y="656" textLength="58.5" lengthAdjust="spacingAndGlyphs" style="font-size:5.4px;font-family:'Liberation Sans', sans-serif;font-weight:normal;" stroke="#000" stroke-width="0.18">cell projection membrane</text>
<circle cx="543.1" cy="662.6" r="3.2" fill="#d9c08e"/>
<text x="547.1" y="664.2" textLength="24.6" lengthAdjust="spacingAndGlyphs" style="font-size:5.4px;font-family:'Liberation Sans', sans-serif;font-weight:normal;" stroke="#000" stroke-width="0.18">distal axon</text>
<circle cx="553" cy="671.8" r="3" fill="#d9c08e"/>
<text x="483" y="674.7" textLength="66.4" lengthAdjust="spacingAndGlyphs" style="font-size:5.4px;font-family:'Liberation Sans', sans-serif;font-weight:normal;" stroke="#000" stroke-width="0.18">neuron projection membrane</text>
<circle cx="561.8" cy="682.3" r="2.8" fill="#d9c08e"/>
<text x="502" y="686.2" textLength="55.9" lengthAdjust="spacingAndGlyphs" style="font-size:5.4px;font-family:'Liberation Sans', sans-serif;font-weight:normal;" stroke="#000" stroke-width="0.18">leading edge membrane</text>
<circle cx="569.4" cy="693.1" r="2.8" fill="#d9c08e"/>
<text x="532.9" y="697.1" textLength="32.9" lengthAdjust="spacingAndGlyphs" style="font-size:5.4px;font-family:'Liberation Sans', sans-serif;font-weight:normal;" stroke="#000" stroke-width="0.18">dendritic spine</text>
<circle cx="575.6" cy="705.3" r="2.8" fill="#d9c08e"/>
<text x="542.1" y="708.6" textLength="29.6" lengthAdjust="spacingAndGlyphs" style="font-size:5.4px;font-family:'Liberation Sans', sans-serif;font-weight:normal;" stroke="#000" stroke-width="0.18">neuron spine</text>
<circle cx="580.6" cy="717.4" r="2.3" fill="#d9c08e"/>
<text x="511.6" y="719.7" textLength="66" lengthAdjust="spacingAndGlyphs" style="font-size:5.4px;font-family:'Liberation Sans', sans-serif;font-weight:normal;" stroke="#000" stroke-width="0.18">neuron projection cytoplasm</text>
<circle cx="584.2" cy="730.6" r="2.5" fill="#d9c08e"/>
<text x="537.2" y="732.9" textLength="43.4" lengthAdjust="spacingAndGlyphs" style="font-size:5.4px;font-family:'Liberation Sans', sans-serif;font-weight:normal;" stroke="#000" stroke-width="0.18">dendrite cytoplasm</text>
<circle cx="586.5" cy="743.7" r="2.8" fill="#d9c08e"/>
<text x="554.6" y="746.7" textLength="27.9" lengthAdjust="spacingAndGlyphs" style="font-size:5.4px;font-family:'Liberation Sans', sans-serif;font-weight:normal;" stroke="#000" stroke-width="0.18">growth cone</text>
<circle cx="587.5" cy="757.2" r="2.8" fill="#d9c08e"/>
<text x="538.8" y="760.1" textLength="45.4" lengthAdjust="spacingAndGlyphs" style="font-size:5.4px;font-family:'Liberation Sans', sans-serif;font-weight:normal;" stroke="#000" stroke-width="0.18">site of polarized growth</text>
<text x="432.6" y="645.8" textLength="63.8" lengthAdjust="spacingAndGlyphs" style="font-size:5.4px;font-family:'Liberation Sans', sans-serif;font-weight:normal;" stroke="#000" stroke-width="0.18">postsynaptic  specialization</text>
<text x="266.4" y="658.5" style="font-size:4.8px;font-family:'Liberation Sans', sans-serif;fill:#111;">size</text>
<circle cx="270.5" cy="664.5" r="2.4" fill="#000"/>
<text x="276.4" y="666" style="font-size:4.2px;font-family:'Liberation Sans', sans-serif;font-weight:normal;fill:#555;">5.0</text>
<circle cx="270.5" cy="671.4" r="2.8" fill="#000"/>
<text x="276.4" y="672.9" style="font-size:4.2px;font-family:'Liberation Sans', sans-serif;font-weight:normal;fill:#555;">7.5</text>
<circle cx="270.5" cy="678.6" r="3.1" fill="#000"/>
<text x="276.4" y="680.1" style="font-size:4.2px;font-family:'Liberation Sans', sans-serif;font-weight:normal;fill:#555;">10.0</text>
<circle cx="270.5" cy="686.8" r="3.5" fill="#000"/>
<text x="276.4" y="688.3" style="font-size:4.2px;font-family:'Liberation Sans', sans-serif;font-weight:normal;fill:#555;">12.5</text>
<text x="266.4" y="697.4" style="font-size:4.6px;font-family:'Liberation Sans', sans-serif;fill:#111;">log<tspan style="font-size:3.4px" dy="1">2</tspan><tspan dy="-1"> (fold change from WT)</tspan></text>
<linearGradient id="g266" x1="0" x2="0" y1="0" y2="1"><stop offset="0" stop-color="#dfe6f2"/><stop offset="0.3" stop-color="#ffffff"/><stop offset="0.6" stop-color="#f0a8a8"/><stop offset="1" stop-color="#e05050"/></linearGradient>
<rect x="266.4" y="699.6" width="6" height="33" fill="url(#g266)"/>
<text x="275.4" y="702.7" style="font-size:4px;font-family:'Liberation Sans', sans-serif;font-weight:normal;fill:#444;">0.25</text>
<text x="275.4" y="710.2" style="font-size:4px;font-family:'Liberation Sans', sans-serif;font-weight:normal;fill:#444;">0.00</text>
<text x="275.4" y="718.6" style="font-size:4px;font-family:'Liberation Sans', sans-serif;font-weight:normal;fill:#444;">-0.25</text>
<text x="275.4" y="727.1" style="font-size:4px;font-family:'Liberation Sans', sans-serif;font-weight:normal;fill:#444;">-0.50</text>
<text x="266.4" y="739" style="font-size:4.8px;font-family:'Liberation Sans', sans-serif;fill:#111;">category</text>
<line x1="267.2" y1="746.2" x2="272.7" y2="746.2" stroke="#F8766D" stroke-width="0.7"/>
<text x="275.1" y="747.8" style="font-size:4.5px;font-family:'Liberation Sans', sans-serif;font-weight:normal;fill:#5a5a5a;">asymmetric synapse</text>
<line x1="267.2" y1="754.3" x2="272.7" y2="754.3" stroke="#E58700" stroke-width="0.7"/>
<text x="275.1" y="755.9" style="font-size:4.5px;font-family:'Liberation Sans', sans-serif;font-weight:normal;fill:#5a5a5a;">axon terminus</text>
<line x1="267.2" y1="762.4" x2="272.7" y2="762.4" stroke="#C99800" stroke-width="0.7"/>
<text x="275.1" y="764" style="font-size:4.5px;font-family:'Liberation Sans', sans-serif;font-weight:normal;fill:#5a5a5a;">cell leading edge</text>
<line x1="267.2" y1="770.5" x2="272.7" y2="770.5" stroke="#A3A500" stroke-width="0.7"/>
<text x="275.1" y="772.1" style="font-size:4.5px;font-family:'Liberation Sans', sans-serif;font-weight:normal;fill:#5a5a5a;">dendritic shaft</text>
<line x1="267.2" y1="778.6" x2="272.7" y2="778.6" stroke="#6BB100" stroke-width="0.7"/>
<text x="275.1" y="780.2" style="font-size:4.5px;font-family:'Liberation Sans', sans-serif;font-weight:normal;fill:#5a5a5a;">dendritic spine</text>
<line x1="267.2" y1="786.7" x2="272.7" y2="786.7" stroke="#00BA38" stroke-width="0.7"/>
<text x="275.1" y="788.3" style="font-size:4.5px;font-family:'Liberation Sans', sans-serif;font-weight:normal;fill:#5a5a5a;">dendritic spine head</text>
<line x1="267.2" y1="794.8" x2="272.7" y2="794.8" stroke="#00BF7D" stroke-width="0.7"/>
<text x="275.1" y="796.4" style="font-size:4.5px;font-family:'Liberation Sans', sans-serif;font-weight:normal;fill:#5a5a5a;">neuron projection</text>
<line x1="267.2" y1="802.9" x2="272.7" y2="802.9" stroke="#00C0AF" stroke-width="0.7"/>
<text x="275.1" y="804.5" style="font-size:4.5px;font-family:'Liberation Sans', sans-serif;font-weight:normal;fill:#5a5a5a;">membrane neuron</text>
<line x1="267.2" y1="811" x2="272.7" y2="811" stroke="#00BCD8" stroke-width="0.7"/>
<text x="275.1" y="812.6" style="font-size:4.5px;font-family:'Liberation Sans', sans-serif;font-weight:normal;fill:#5a5a5a;">projection terminus neuron</text>
<text x="275.1" y="820.7" style="font-size:4.5px;font-family:'Liberation Sans', sans-serif;font-weight:normal;fill:#5a5a5a;">spine</text>
<line x1="267.2" y1="827.2" x2="272.7" y2="827.2" stroke="#00B0F6" stroke-width="0.7"/>
<text x="275.1" y="828.8" style="font-size:4.5px;font-family:'Liberation Sans', sans-serif;font-weight:normal;fill:#5a5a5a;">neuron to neuron synapse</text>
<line x1="267.2" y1="835.3" x2="272.7" y2="835.3" stroke="#619CFF" stroke-width="0.7"/>
<text x="275.1" y="836.9" style="font-size:4.5px;font-family:'Liberation Sans', sans-serif;font-weight:normal;fill:#5a5a5a;">perikaryon</text>
<line x1="267.2" y1="843.4" x2="272.7" y2="843.4" stroke="#B983FF" stroke-width="0.7"/>
<text x="275.1" y="845" style="font-size:4.5px;font-family:'Liberation Sans', sans-serif;font-weight:normal;fill:#5a5a5a;">postsynaptic density</text>
<line x1="267.2" y1="851.5" x2="272.7" y2="851.5" stroke="#E76BF3" stroke-width="0.7"/>
<text x="275.1" y="853.1" style="font-size:4.5px;font-family:'Liberation Sans', sans-serif;font-weight:normal;fill:#5a5a5a;">postsynaptic membrane</text>
<line x1="267.2" y1="859.6" x2="272.7" y2="859.6" stroke="#FD61D1" stroke-width="0.7"/>
<text x="275.1" y="861.2" style="font-size:4.5px;font-family:'Liberation Sans', sans-serif;font-weight:normal;fill:#5a5a5a;">postsynaptic specialization</text>
<line x1="267.2" y1="867.7" x2="272.7" y2="867.7" stroke="#FF67A4" stroke-width="0.7"/>
<text x="275.1" y="869.3" style="font-size:4.5px;font-family:'Liberation Sans', sans-serif;font-weight:normal;fill:#5a5a5a;">Schaffer collateral ~ CA1</text>
<text x="275.1" y="877.4" style="font-size:4.5px;font-family:'Liberation Sans', sans-serif;font-weight:normal;fill:#5a5a5a;">synapse</text>
<text x="601.9" y="667" style="font-size:4.8px;font-family:'Liberation Sans', sans-serif;fill:#111;">size</text>
<circle cx="606" cy="672.5" r="2.4" fill="#000"/>
<text x="611.9" y="674" style="font-size:4.2px;font-family:'Liberation Sans', sans-serif;font-weight:normal;fill:#555;">5</text>
<circle cx="606" cy="679" r="2.8" fill="#000"/>
<text x="611.9" y="680.5" style="font-size:4.2px;font-family:'Liberation Sans', sans-serif;font-weight:normal;fill:#555;">10</text>
<circle cx="606" cy="685.9" r="3" fill="#000"/>
<text x="611.9" y="687.4" style="font-size:4.2px;font-family:'Liberation Sans', sans-serif;font-weight:normal;fill:#555;">15</text>
<circle cx="606" cy="693.7" r="3.5" fill="#000"/>
<text x="611.9" y="695.2" style="font-size:4.2px;font-family:'Liberation Sans', sans-serif;font-weight:normal;fill:#555;">20</text>
<text x="601.9" y="703.1" style="font-size:4.6px;font-family:'Liberation Sans', sans-serif;fill:#111;">log<tspan style="font-size:3.4px" dy="1">2</tspan><tspan dy="-1"> (fold change from WT)</tspan></text>
<linearGradient id="g601" x1="0" x2="0" y1="0" y2="1"><stop offset="0" stop-color="#4a7fc0"/><stop offset="0.5" stop-color="#ffffff"/><stop offset="1" stop-color="#d85050"/></linearGradient>
<rect x="601.9" y="705.3" width="6" height="34.5" fill="url(#g601)"/>
<text x="610.9" y="709" style="font-size:4px;font-family:'Liberation Sans', sans-serif;font-weight:normal;fill:#444;">0.4</text>
<text x="610.9" y="716.5" style="font-size:4px;font-family:'Liberation Sans', sans-serif;font-weight:normal;fill:#444;">0.2</text>
<text x="610.9" y="724.7" style="font-size:4px;font-family:'Liberation Sans', sans-serif;font-weight:normal;fill:#444;">0.0</text>
<text x="610.9" y="732.3" style="font-size:4px;font-family:'Liberation Sans', sans-serif;font-weight:normal;fill:#444;">-0.2</text>
<text x="610.9" y="739.5" style="font-size:4px;font-family:'Liberation Sans', sans-serif;font-weight:normal;fill:#444;">-0.4</text>
<text x="601.9" y="746.5" style="font-size:4.8px;font-family:'Liberation Sans', sans-serif;fill:#111;">category</text>
<line x1="594.4" y1="753.7" x2="599.9" y2="753.7" stroke="#F8766D" stroke-width="0.7"/>
<text x="600.4" y="755.3" style="font-size:4.5px;font-family:'Liberation Sans', sans-serif;font-weight:normal;fill:#5a5a5a;">asymmetric synapse</text>
<line x1="594.4" y1="761.8" x2="599.9" y2="761.8" stroke="#E58700" stroke-width="0.7"/>
<text x="600.4" y="763.4" style="font-size:4.5px;font-family:'Liberation Sans', sans-serif;font-weight:normal;fill:#5a5a5a;">cell leading edge</text>
<line x1="594.4" y1="769.9" x2="599.9" y2="769.9" stroke="#C99800" stroke-width="0.7"/>
<text x="600.4" y="771.5" style="font-size:4.5px;font-family:'Liberation Sans', sans-serif;font-weight:normal;fill:#5a5a5a;">cell projection membrane</text>
<line x1="594.4" y1="778" x2="599.9" y2="778" stroke="#A3A500" stroke-width="0.7"/>
<text x="600.4" y="779.6" style="font-size:4.5px;font-family:'Liberation Sans', sans-serif;font-weight:normal;fill:#5a5a5a;">dendrite cytoplasm dendritic</text>
<line x1="594.4" y1="786.1" x2="599.9" y2="786.1" stroke="#6BB100" stroke-width="0.7"/>
<text x="600.4" y="787.7" style="font-size:4.5px;font-family:'Liberation Sans', sans-serif;font-weight:normal;fill:#5a5a5a;">spine</text>
<line x1="594.4" y1="794.2" x2="599.9" y2="794.2" stroke="#00BA38" stroke-width="0.7"/>
<text x="600.4" y="795.8" style="font-size:4.5px;font-family:'Liberation Sans', sans-serif;font-weight:normal;fill:#5a5a5a;">distal axon</text>
<line x1="594.4" y1="802.3" x2="599.9" y2="802.3" stroke="#00BF7D" stroke-width="0.7"/>
<text x="600.4" y="803.9" style="font-size:4.5px;font-family:'Liberation Sans', sans-serif;font-weight:normal;fill:#5a5a5a;">growth cone</text>
<line x1="594.4" y1="810.4" x2="599.9" y2="810.4" stroke="#00C0AF" stroke-width="0.7"/>
<text x="600.4" y="812" style="font-size:4.5px;font-family:'Liberation Sans', sans-serif;font-weight:normal;fill:#5a5a5a;">leading edge membrane</text>
<line x1="594.4" y1="818.5" x2="599.9" y2="818.5" stroke="#00BCD8" stroke-width="0.7"/>
<text x="600.4" y="820.1" style="font-size:4.5px;font-family:'Liberation Sans', sans-serif;font-weight:normal;fill:#5a5a5a;">neuron projection cytoplasm</text>
<line x1="594.4" y1="826.6" x2="599.9" y2="826.6" stroke="#00B0F6" stroke-width="0.7"/>
<text x="600.4" y="828.2" style="font-size:4.5px;font-family:'Liberation Sans', sans-serif;font-weight:normal;fill:#5a5a5a;">neuron projection terminus</text>
<line x1="594.4" y1="834.7" x2="599.9" y2="834.7" stroke="#619CFF" stroke-width="0.7"/>
<text x="600.4" y="836.3" style="font-size:4.5px;font-family:'Liberation Sans', sans-serif;font-weight:normal;fill:#5a5a5a;">neuron spine</text>
<line x1="594.4" y1="842.8" x2="599.9" y2="842.8" stroke="#B983FF" stroke-width="0.7"/>
<text x="600.4" y="844.4" style="font-size:4.5px;font-family:'Liberation Sans', sans-serif;font-weight:normal;fill:#5a5a5a;">neuron to neuron synapse</text>
<line x1="594.4" y1="850.9" x2="599.9" y2="850.9" stroke="#E76BF3" stroke-width="0.7"/>
<text x="600.4" y="852.5" style="font-size:4.5px;font-family:'Liberation Sans', sans-serif;font-weight:normal;fill:#5a5a5a;">postsynaptic density</text>
<line x1="594.4" y1="859" x2="599.9" y2="859" stroke="#FD61D1" stroke-width="0.7"/>
<text x="600.4" y="860.6" style="font-size:4.5px;font-family:'Liberation Sans', sans-serif;font-weight:normal;fill:#5a5a5a;">postsynaptic specialization</text>
<line x1="594.4" y1="867.1" x2="599.9" y2="867.1" stroke="#FF67A4" stroke-width="0.7"/>
<text x="600.4" y="868.7" style="font-size:4.5px;font-family:'Liberation Sans', sans-serif;font-weight:normal;fill:#5a5a5a;">site of polarized growth</text></svg>
</body></html>
